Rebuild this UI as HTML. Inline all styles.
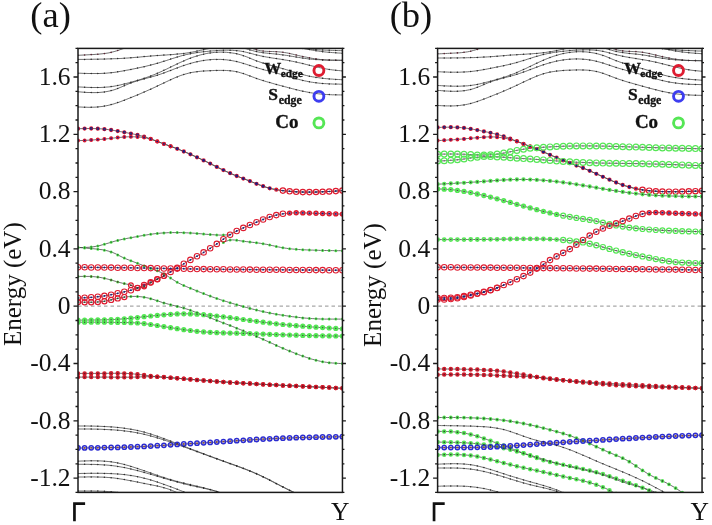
<!DOCTYPE html><html><head><meta charset="utf-8"><style>html,body{margin:0;padding:0;background:#fff;width:712px;height:525px;overflow:hidden}svg{display:block;will-change:transform}</style></head><body><svg width="712" height="525" viewBox="0 0 712 525">
<rect width="712" height="525" fill="#fff"/>
<clipPath id="ca"><rect x="78" y="48.4" width="264.45" height="444.0"/></clipPath>
<g clip-path="url(#ca)">
<line x1="78" y1="306.2" x2="342.4" y2="306.2" stroke="#a8a8a8" stroke-width="1.3" stroke-dasharray="3.5,3"/>
<path fill="none" stroke="#404040" stroke-width="0.75" d="M78 55.3 80 55.2 82 55.1 84 55 86 54.9 88 54.8 90 54.7 92 54.6 94 54.5 96 54.3 98 54.2 100 54 102 53.8 104 53.6 106 53.3 108.1 53 110.1 52.6 112.1 52.1 114.1 51.6 116.1 51 118.1 50.4 120.1 49.7 122.1 49 124.1 48.4 126.1 47.7 128.1 47 130.1 46.4 132.1 45.7 134.1 45.1 136.1 44.5 138.1 43.9 140.1 43.3 142.1 42.8 144.1 42.2 146.1 41.7 148.1 41.1 150.1 40.6 152.1 40.1 154.1 39.7 156.1 39.2 158.1 38.8 160.1 38.3 162.1 37.9 164.1 37.5 166.2 37.2 168.2 36.8 170.2 36.5 172.2 36.2 174.2 35.9 176.2 35.6 178.2 35.4 180.2 35.2 182.2 35 184.2 34.8 186.2 34.6 188.2 34.5 190.2 34.3 192.2 34.2 194.2 34.1 196.2 34.1 198.2 34 200.2 34 202.2 34 204.2 34 206.2 34.1 208.2 34.2 210.2 34.3 212.2 34.4 214.2 34.6 216.2 34.8 218.2 35.1 220.2 35.4 222.2 35.8 224.2 36.2 226.3 36.7 228.3 37.3 230.3 37.9 232.3 38.7 234.3 39.5 236.3 40.4 238.3 41.4 240.3 42.4 242.3 43.4 244.3 44.5 246.3 45.6 248.3 46.6 250.3 47.5 252.3 48.4 254.3 49.2 256.3 49.8 258.3 50.3 260.3 50.7 262.3 51 264.3 51.2 266.3 51.3 268.3 51.4 270.3 51.5 272.3 51.5 274.3 51.6 276.3 51.7 278.3 51.8 280.3 52 282.3 52.2 284.4 52.5 286.4 52.8 288.4 53.2 290.4 53.7 292.4 54.1 294.4 54.6 296.4 55 298.4 55.5 300.4 56 302.4 56.4 304.4 56.8 306.4 57.2 308.4 57.6 310.4 58 312.4 58.4 314.4 58.7 316.4 59 318.4 59.2 320.4 59.5 322.4 59.7 324.4 59.8 326.4 60 328.4 60.1 330.4 60.2 332.4 60.2 334.4 60.2 336.4 60.3 338.4 60.3 340.4 60.3 342.4 60.3M78 59.4 80 59.4 82 59.4 84 59.4 86 59.3 88 59.3 90 59.3 92 59.3 94 59.2 96 59.2 98 59.2 100 59.1 102 59.1 104 59.1 106 59 108.1 58.9 110.1 58.9 112.1 58.8 114.1 58.7 116.1 58.7 118.1 58.6 120.1 58.5 122.1 58.4 124.1 58.2 126.1 58.1 128.1 58 130.1 57.8 132.1 57.7 134.1 57.5 136.1 57.3 138.1 57.2 140.1 57 142.1 56.8 144.1 56.6 146.1 56.5 148.1 56.3 150.1 56.1 152.1 55.9 154.1 55.8 156.1 55.6 158.1 55.5 160.1 55.4 162.1 55.2 164.1 55.1 166.2 55 168.2 54.8 170.2 54.7 172.2 54.6 174.2 54.4 176.2 54.2 178.2 54 180.2 53.8 182.2 53.6 184.2 53.4 186.2 53.1 188.2 52.8 190.2 52.5 192.2 52.1 194.2 51.7 196.2 51.3 198.2 50.9 200.2 50.4 202.2 50 204.2 49.6 206.2 49.1 208.2 48.7 210.2 48.3 212.2 48 214.2 47.6 216.2 47.3 218.2 47.1 220.2 46.8 222.2 46.6 224.2 46.5 226.3 46.4 228.3 46.3 230.3 46.3 232.3 46.3 234.3 46.5 236.3 46.7 238.3 46.9 240.3 47.3 242.3 47.7 244.3 48.3 246.3 48.8 248.3 49.4 250.3 50 252.3 50.5 254.3 51.1 256.3 51.6 258.3 52 260.3 52.3 262.3 52.6 264.3 52.9 266.3 53.1 268.3 53.3 270.3 53.5 272.3 53.7 274.3 53.9 276.3 54.1 278.3 54.3 280.3 54.6 282.3 54.8 284.4 55.1 286.4 55.4 288.4 55.7 290.4 56.1 292.4 56.4 294.4 56.7 296.4 57.1 298.4 57.4 300.4 57.7 302.4 58.1 304.4 58.4 306.4 58.6 308.4 58.9 310.4 59.1 312.4 59.3 314.4 59.5 316.4 59.6 318.4 59.7 320.4 59.8 322.4 59.9 324.4 60 326.4 60 328.4 60.1 330.4 60.1 332.4 60.2 334.4 60.2 336.4 60.2 338.4 60.2 340.4 60.3 342.4 60.3M270 41.2 270.3 41.3 272.3 41.9 274.3 42.6 276.3 43.2 278.3 43.7 280.3 44.3 282.3 44.9 284.4 45.4 286.4 45.9 288.4 46.3 290.4 46.7 292.4 47.1 294.4 47.4 296.4 47.7 298.4 48 300.4 48.3 302.4 48.5 304.4 48.7 306.4 48.9 308.4 49.1 310.4 49.2 312.4 49.4 314.4 49.5 316.4 49.7 318.4 49.8 320.4 49.9 322.4 50 324.4 50.1 326.4 50.2 328.4 50.2 330.4 50.3 332.4 50.4 334.4 50.4 336.4 50.5 338.4 50.6 340.4 50.6 342.4 50.7M280 41.2 280.3 41.3 282.3 42 284.4 42.7 286.4 43.4 288.4 44 290.4 44.7 292.4 45.3 294.4 45.9 296.4 46.5 298.4 47.1 300.4 47.6 302.4 48.1 304.4 48.6 306.4 49 308.4 49.4 310.4 49.8 312.4 50.2 314.4 50.5 316.4 50.8 318.4 51.1 320.4 51.4 322.4 51.6 324.4 51.9 326.4 52.1 328.4 52.3 330.4 52.4 332.4 52.6 334.4 52.7 336.4 52.9 338.4 53 340.4 53.1 342.4 53.3M78 73.2 80 73.2 82 73.3 84 73.4 86 73.4 88 73.5 90 73.5 92 73.5 94 73.5 96 73.5 98 73.5 100 73.5 102 73.4 104 73.3 106 73.2 108.1 73 110.1 72.8 112.1 72.6 114.1 72.4 116.1 72.1 118.1 71.8 120.1 71.4 122.1 71.1 124.1 70.7 126.1 70.3 128.1 70 130.1 69.6 132.1 69.2 134.1 68.8 136.1 68.4 138.1 68 140.1 67.5 142.1 67.1 144.1 66.7 146.1 66.2 148.1 65.7 150.1 65.2 152.1 64.7 154.1 64.2 156.1 63.6 158.1 63.1 160.1 62.5 162.1 61.8 164.1 61.2 166.2 60.6 168.2 59.9 170.2 59.3 172.2 58.6 174.2 58 176.2 57.4 178.2 56.8 180.2 56.2 182.2 55.6 184.2 55.1 186.2 54.6 188.2 54.2 190.2 53.8 192.2 53.4 194.2 53.1 196.2 52.7 198.2 52.4 200.2 52.2 202.2 51.9 204.2 51.7 206.2 51.5 208.2 51.3 210.2 51.1 212.2 50.9 214.2 50.8 216.2 50.6 218.2 50.5 220.2 50.4 222.2 50.3 224.2 50.2 226.3 50.2 228.3 50.2 230.3 50.3 232.3 50.3 234.3 50.5 236.3 50.6 238.3 50.8 240.3 51.1 242.3 51.4 244.3 51.8 246.3 52.3 248.3 52.8 250.3 53.3 252.3 53.8 254.3 54.4 256.3 54.9 258.3 55.3 260.3 55.8 262.3 56.2 264.3 56.6 266.3 57 268.3 57.3 270.3 57.7 272.3 58 274.3 58.3 276.3 58.6 278.3 58.9 280.3 59.2 282.3 59.5 284.4 59.9 286.4 60.2 288.4 60.5 290.4 60.9 292.4 61.3 294.4 61.7 296.4 62.1 298.4 62.6 300.4 63 302.4 63.5 304.4 64 306.4 64.5 308.4 65 310.4 65.5 312.4 66 314.4 66.4 316.4 66.9 318.4 67.4 320.4 67.8 322.4 68.2 324.4 68.6 326.4 69 328.4 69.3 330.4 69.6 332.4 69.9 334.4 70.1 336.4 70.4 338.4 70.5 340.4 70.7 342.4 70.9M78 86.9 80 87 82 87.1 84 87.2 86 87.3 88 87.4 90 87.4 92 87.5 94 87.5 96 87.5 98 87.5 100 87.5 102 87.4 104 87.3 106 87.1 108.1 87 110.1 86.8 112.1 86.5 114.1 86.2 116.1 85.8 118.1 85.4 120.1 85 122.1 84.5 124.1 84 126.1 83.5 128.1 83 130.1 82.5 132.1 81.9 134.1 81.3 136.1 80.8 138.1 80.2 140.1 79.6 142.1 78.9 144.1 78.3 146.1 77.6 148.1 76.9 150.1 76.2 152.1 75.4 154.1 74.7 156.1 73.8 158.1 73 160.1 72.1 162.1 71.2 164.1 70.2 166.2 69.3 168.2 68.3 170.2 67.3 172.2 66.3 174.2 65.4 176.2 64.4 178.2 63.4 180.2 62.5 182.2 61.6 184.2 60.7 186.2 59.8 188.2 59 190.2 58.2 192.2 57.5 194.2 56.8 196.2 56.2 198.2 55.6 200.2 55 202.2 54.5 204.2 54 206.2 53.6 208.2 53.2 210.2 52.9 212.2 52.7 214.2 52.4 216.2 52.3 218.2 52.2 220.2 52.1 222.2 52.1 224.2 52.2 226.3 52.3 228.3 52.5 230.3 52.7 232.3 53 234.3 53.3 236.3 53.7 238.3 54.2 240.3 54.7 242.3 55.3 244.3 56 246.3 56.7 248.3 57.5 250.3 58.4 252.3 59.2 254.3 60 256.3 60.8 258.3 61.5 260.3 62.2 262.3 62.9 264.3 63.5 266.3 64.1 268.3 64.7 270.3 65.3 272.3 65.8 274.3 66.4 276.3 66.9 278.3 67.4 280.3 68 282.3 68.5 284.4 69.1 286.4 69.7 288.4 70.3 290.4 70.9 292.4 71.5 294.4 72.1 296.4 72.7 298.4 73.3 300.4 73.9 302.4 74.5 304.4 75 306.4 75.5 308.4 76 310.4 76.4 312.4 76.8 314.4 77.1 316.4 77.4 318.4 77.7 320.4 78 322.4 78.2 324.4 78.5 326.4 78.7 328.4 78.8 330.4 79 332.4 79.1 334.4 79.3 336.4 79.4 338.4 79.5 340.4 79.6 342.4 79.8M78 91.8 80 91.9 82 92.1 84 92.2 86 92.4 88 92.5 90 92.5 92 92.6 94 92.6 96 92.6 98 92.5 100 92.4 102 92.2 104 92 106 91.7 108.1 91.3 110.1 90.9 112.1 90.4 114.1 89.8 116.1 89.1 118.1 88.3 120.1 87.5 122.1 86.7 124.1 85.8 126.1 84.9 128.1 84.1 130.1 83.3 132.1 82.6 134.1 81.9 136.1 81.2 138.1 80.6 140.1 80 142.1 79.5 144.1 78.9 146.1 78.4 148.1 77.8 150.1 77.3 152.1 76.7 154.1 76.2 156.1 75.6 158.1 74.9 160.1 74.3 162.1 73.6 164.1 72.8 166.2 72.1 168.2 71.3 170.2 70.6 172.2 69.8 174.2 69 176.2 68.3 178.2 67.5 180.2 66.8 182.2 66 184.2 65.4 186.2 64.7 188.2 64.1 190.2 63.5 192.2 62.9 194.2 62.4 196.2 61.9 198.2 61.5 200.2 61.1 202.2 60.7 204.2 60.4 206.2 60.1 208.2 59.9 210.2 59.7 212.2 59.5 214.2 59.4 216.2 59.4 218.2 59.4 220.2 59.4 222.2 59.5 224.2 59.7 226.3 59.8 228.3 60.1 230.3 60.4 232.3 60.7 234.3 61.1 236.3 61.5 238.3 62 240.3 62.5 242.3 63.1 244.3 63.7 246.3 64.3 248.3 65 250.3 65.6 252.3 66.3 254.3 66.9 256.3 67.6 258.3 68.2 260.3 68.7 262.3 69.3 264.3 69.9 266.3 70.4 268.3 70.9 270.3 71.5 272.3 72 274.3 72.5 276.3 73.1 278.3 73.6 280.3 74.2 282.3 74.7 284.4 75.3 286.4 75.9 288.4 76.5 290.4 77.1 292.4 77.7 294.4 78.2 296.4 78.8 298.4 79.3 300.4 79.8 302.4 80.3 304.4 80.8 306.4 81.2 308.4 81.6 310.4 82 312.4 82.3 314.4 82.6 316.4 82.8 318.4 83.1 320.4 83.3 322.4 83.5 324.4 83.6 326.4 83.7 328.4 83.8 330.4 83.9 332.4 84 334.4 84.1 336.4 84.1 338.4 84.1 340.4 84.2 342.4 84.2M78 107 80 107 82 107.1 84 107.2 86 107.2 88 107.3 90 107.3 92 107.2 94 107.2 96 107.1 98 106.9 100 106.7 102 106.5 104 106.2 106 105.8 108.1 105.4 110.1 104.9 112.1 104.4 114.1 103.8 116.1 103.1 118.1 102.5 120.1 101.8 122.1 101 124.1 100.3 126.1 99.5 128.1 98.7 130.1 97.9 132.1 97.1 134.1 96.3 136.1 95.5 138.1 94.6 140.1 93.8 142.1 92.9 144.1 92.1 146.1 91.2 148.1 90.3 150.1 89.4 152.1 88.5 154.1 87.6 156.1 86.7 158.1 85.7 160.1 84.7 162.1 83.8 164.1 82.8 166.2 81.8 168.2 80.9 170.2 79.9 172.2 79 174.2 78.1 176.2 77.3 178.2 76.5 180.2 75.7 182.2 75 184.2 74.4 186.2 73.8 188.2 73.3 190.2 72.8 192.2 72.4 194.2 72.1 196.2 71.8 198.2 71.5 200.2 71.3 202.2 71.1 204.2 71 206.2 70.9 208.2 70.8 210.2 70.7 212.2 70.6 214.2 70.5 216.2 70.4 218.2 70.4 220.2 70.4 222.2 70.4 224.2 70.4 226.3 70.5 228.3 70.6 230.3 70.8 232.3 71 234.3 71.3 236.3 71.7 238.3 72.1 240.3 72.7 242.3 73.3 244.3 73.9 246.3 74.6 248.3 75.4 250.3 76.1 252.3 76.9 254.3 77.6 256.3 78.4 258.3 79.1 260.3 79.7 262.3 80.4 264.3 81 266.3 81.6 268.3 82.2 270.3 82.7 272.3 83.3 274.3 83.9 276.3 84.4 278.3 85 280.3 85.5 282.3 86 284.4 86.6 286.4 87.1 288.4 87.7 290.4 88.2 292.4 88.7 294.4 89.2 296.4 89.7 298.4 90.2 300.4 90.7 302.4 91.1 304.4 91.5 306.4 91.9 308.4 92.3 310.4 92.7 312.4 93 314.4 93.3 316.4 93.5 318.4 93.8 320.4 94 322.4 94.2 324.4 94.4 326.4 94.5 328.4 94.6 330.4 94.7 332.4 94.8 334.4 94.8 336.4 94.9 338.4 94.9 340.4 94.9 342.4 94.9M78 128.7 80 128.7 82 128.6 84 128.6 86 128.6 88 128.5 90 128.5 92 128.5 94 128.6 96 128.6 98 128.7 100 128.8 102 128.9 104 129.1 106 129.3 108.1 129.6 110.1 129.9 112.1 130.2 114.1 130.5 116.1 130.8 118.1 131.2 120.1 131.6 122.1 131.9 124.1 132.3 126.1 132.7 128.1 133 130.1 133.4 132.1 133.8 134.1 134.2 136.1 134.6 138.1 135.1 140.1 135.6 142.1 136.1 144.1 136.7 146.1 137.3 148.1 138 150.1 138.7 152.1 139.4 154.1 140.2 156.1 140.9 158.1 141.7 160.1 142.4 162.1 143.2 164.1 143.9 166.2 144.6 168.2 145.4 170.2 146.1 172.2 146.9 174.2 147.6 176.2 148.4 178.2 149.2 180.2 150 182.2 150.8 184.2 151.6 186.2 152.5 188.2 153.3 190.2 154.2 192.2 155.1 194.2 156 196.2 156.9 198.2 157.8 200.2 158.8 202.2 159.7 204.2 160.7 206.2 161.6 208.2 162.6 210.2 163.6 212.2 164.6 214.2 165.6 216.2 166.6 218.2 167.6 220.2 168.6 222.2 169.6 224.2 170.5 226.3 171.5 228.3 172.4 230.3 173.3 232.3 174.2 234.3 175 236.3 175.8 238.3 176.6 240.3 177.4 242.3 178.2 244.3 179 246.3 179.7 248.3 180.5 250.3 181.3 252.3 182.1 254.3 182.9 256.3 183.7 258.3 184.5 260.3 185.2 262.3 186 264.3 186.6 266.3 187.3 268.3 187.9 270.3 188.4 272.3 188.9 274.3 189.3 276.3 189.7 278.3 190 280.3 190.3 282.3 190.6 284.4 190.8 286.4 191 288.4 191.2 290.4 191.4 292.4 191.6 294.4 191.7 296.4 191.8 298.4 191.9 300.4 192 302.4 192 304.4 192.1 306.4 192.1 308.4 192.1 310.4 192.1 312.4 192.1 314.4 192.1 316.4 192 318.4 191.9 320.4 191.9 322.4 191.8 324.4 191.7 326.4 191.6 328.4 191.5 330.4 191.4 332.4 191.3 334.4 191.2 336.4 191 338.4 190.9 340.4 190.8 342.4 190.6M78 140.6 80 140.6 82 140.5 84 140.4 86 140.3 88 140.2 90 140.1 92 140 94 139.9 96 139.7 98 139.6 100 139.4 102 139.3 104 139.1 106 138.9 108.1 138.7 110.1 138.5 112.1 138.2 114.1 138 116.1 137.8 118.1 137.6 120.1 137.4 122.1 137.2 124.1 137.1 126.1 136.9 128.1 136.8 130.1 136.8 132.1 136.8 134.1 136.8 136.1 136.9 138.1 137 140.1 137.1 142.1 137.3 144.1 137.6 146.1 138 148.1 138.4 150.1 138.9 152.1 139.6 154.1 140.3 156.1 141 158.1 141.8 160.1 142.5 162.1 143.3 164.1 144 166.2 144.8 168.2 145.5 170.2 146.2 172.2 146.9 174.2 147.6 176.2 148.4 178.2 149.2 180.2 150 182.2 150.8 184.2 151.6 186.2 152.5 188.2 153.3 190.2 154.2 192.2 155.1 194.2 156 196.2 156.9 198.2 157.8 200.2 158.8 202.2 159.7 204.2 160.7 206.2 161.6 208.2 162.6 210.2 163.6 212.2 164.6 214.2 165.6 216.2 166.6 218.2 167.6 220.2 168.6 222.2 169.6 224.2 170.5 226.3 171.5 228.3 172.4 230.3 173.3 232.3 174.2 234.3 175 236.3 175.8 238.3 176.6 240.3 177.4 242.3 178.2 244.3 179 246.3 179.7 248.3 180.5 250.3 181.3 252.3 182.1 254.3 182.9 256.3 183.7 258.3 184.5 260.3 185.2 262.3 186 264.3 186.6 266.3 187.3 268.3 187.9 270.3 188.4 272.3 188.9 274.3 189.3 276.3 189.7 278.3 190 280.3 190.3 282.3 190.6 284.4 190.8 286.4 191 288.4 191.2 290.4 191.4 292.4 191.6 294.4 191.7 296.4 191.8 298.4 191.9 300.4 192 302.4 192 304.4 192.1 306.4 192.1 308.4 192.1 310.4 192.1 312.4 192.1 314.4 192.1 316.4 192 318.4 191.9 320.4 191.9 322.4 191.8 324.4 191.7 326.4 191.6 328.4 191.5 330.4 191.4 332.4 191.3 334.4 191.2 336.4 191 338.4 190.9 340.4 190.8 342.4 190.6M78 247.5 80 247.5 82 247.5 84 247.5 86 247.4 88 247.3 90 247.2 92 246.9 94 246.7 96 246.3 98 245.9 100 245.5 102 244.9 104 244.4 106 243.8 108.1 243.2 110.1 242.6 112.1 242 114.1 241.4 116.1 240.8 118.1 240.3 120.1 239.9 122.1 239.4 124.1 239 126.1 238.6 128.1 238.2 130.1 237.9 132.1 237.5 134.1 237.1 136.1 236.8 138.1 236.4 140.1 236 142.1 235.7 144.1 235.3 146.1 235 148.1 234.7 150.1 234.3 152.1 234.1 154.1 233.8 156.1 233.6 158.1 233.4 160.1 233.2 162.1 233 164.1 232.9 166.2 232.8 168.2 232.7 170.2 232.6 172.2 232.6 174.2 232.6 176.2 232.6 178.2 232.6 180.2 232.6 182.2 232.6 184.2 232.7 186.2 232.8 188.2 232.9 190.2 233 192.2 233.1 194.2 233.2 196.2 233.4 198.2 233.6 200.2 233.7 202.2 233.9 204.2 234.1 206.2 234.3 208.2 234.4 210.2 234.6 212.2 234.7 214.2 234.8 216.2 234.9 218.2 235 220.2 235.1 222.2 235.1 224.2 235 226.3 234.9 228.3 234.8 229.6 234.7M222 243.2 222.2 243.1 224.2 242.1 226.3 241.2 228.3 240.5 230.3 240.1 232.3 239.9 234.3 240 236.3 240.3 238.3 240.5 240.3 240.8 242.3 241.1 244.3 241.3 246.3 241.6 248.3 241.8 250.3 242.1 252.3 242.3 254.3 242.5 256.3 242.8 258.3 243 260.3 243.3 262.3 243.6 264.3 244 266.3 244.3 268.3 244.7 270.3 245.2 272.3 245.6 274.3 246 276.3 246.5 278.3 246.9 280.3 247.3 282.3 247.7 284.4 248 286.4 248.3 288.4 248.6 290.4 248.8 292.4 249 294.4 249.2 296.4 249.4 298.4 249.5 300.4 249.6 302.4 249.7 304.4 249.8 306.4 249.9 308.4 250 310.4 250.1 312.4 250.1 314.4 250.2 316.4 250.3 318.4 250.3 320.4 250.4 322.4 250.4 324.4 250.5 326.4 250.5 328.4 250.6 330.4 250.6 332.4 250.6 334.4 250.7 336.4 250.7 338.4 250.7 340.4 250.7 342.4 250.8M78 247.5 80 247.6 82 247.8 84 247.9 86 248.1 88 248.3 90 248.4 92 248.6 94 248.8 96 249 98 249.2 100 249.5 102 249.7 104 250.1 106 250.5 108.1 251 110.1 251.6 112.1 252.3 114.1 253.1 116.1 254 118.1 255.1 120.1 256.1 122.1 257.1 124.1 258 126.1 258.9 128.1 259.7 130.1 260.5 132.1 261.3 134.1 262 136.1 262.8 138.1 263.6 140.1 264.3 142.1 265.1 144.1 265.9 146.1 266.6 148.1 267.4 150.1 268.1 152.1 268.9 154.1 269.6 156.1 270.4 158.1 271.2 160.1 272 162.1 273 164.1 274.1 166.2 275.2 168.2 276.5 170.2 277.8 172.2 279.1 174.2 280.4 176.2 281.6 178.2 282.8 180.2 283.8 182.2 284.8 184.2 285.7 186.2 286.5 188.2 287.4 190.2 288.2 192.2 289 194.2 289.8 196.2 290.6 198.2 291.5 200.2 292.3 202.2 293.1 204.2 293.9 206.2 294.6 208.2 295.4 210.2 296.1 212.2 296.9 214.2 297.6 216.2 298.3 218.2 298.9 220.2 299.6 222.2 300.3 224.2 300.9 226.3 301.5 228.3 302.2 230.3 302.8 232.3 303.4 234.3 304 236.3 304.6 238.3 305.2 240.3 305.7 242.3 306.3 244.3 306.9 246.3 307.4 248.3 308 250.3 308.5 252.3 309 254.3 309.5 256.3 310 258.3 310.5 260.3 311 262.3 311.4 264.3 311.9 266.3 312.3 268.3 312.7 270.3 313.1 272.3 313.5 274.3 313.9 276.3 314.2 278.3 314.6 280.3 314.9 282.3 315.2 284.4 315.5 286.4 315.8 288.4 316.1 290.4 316.4 292.4 316.7 294.4 316.9 296.4 317.2 298.4 317.4 300.4 317.6 302.4 317.8 304.4 318 306.4 318.2 308.4 318.3 310.4 318.5 312.4 318.6 314.4 318.7 316.4 318.8 318.4 318.9 320.4 319 322.4 319 324.4 319.1 326.4 319.1 328.4 319.1 330.4 319.1 332.4 319.1 334.4 319.1 336.4 319.1 338.4 319.1 340.4 319.1 342.4 319.1M78 267.2 80 267.3 82 267.3 84 267.3 86 267.3 88 267.3 90 267.4 92 267.4 94 267.4 96 267.4 98 267.4 100 267.5 102 267.5 104 267.5 106 267.5 108.1 267.5 110.1 267.6 112.1 267.6 114.1 267.6 116.1 267.6 118.1 267.7 120.1 267.7 122.1 267.7 124.1 267.7 126.1 267.8 128.1 267.8 130.1 267.8 132.1 267.8 134.1 267.9 136.1 267.9 138.1 267.9 140.1 268 142.1 268 144.1 268 146.1 268.1 148.1 268.1 150.1 268.1 152.1 268.2 154.1 268.2 156.1 268.2 158.1 268.3 160.1 268.3 162.1 268.3 164.1 268.4 166.2 268.4 168.2 268.5 170.2 268.5 172.2 268.5 174.2 268.6 176.2 268.6 178.2 268.6 180.2 268.7 182.2 268.7 184.2 268.8 186.2 268.8 188.2 268.8 190.2 268.9 192.2 268.9 194.2 268.9 196.2 269 198.2 269 200.2 269 202.2 269.1 204.2 269.1 206.2 269.1 208.2 269.2 210.2 269.2 212.2 269.2 214.2 269.2 216.2 269.3 218.2 269.3 220.2 269.3 222.2 269.3 224.2 269.4 226.3 269.4 228.3 269.4 230.3 269.4 232.3 269.4 234.3 269.5 236.3 269.5 238.3 269.5 240.3 269.5 242.3 269.5 244.3 269.6 246.3 269.6 248.3 269.6 250.3 269.6 252.3 269.6 254.3 269.6 256.3 269.7 258.3 269.7 260.3 269.7 262.3 269.7 264.3 269.7 266.3 269.7 268.3 269.7 270.3 269.8 272.3 269.8 274.3 269.8 276.3 269.8 278.3 269.8 280.3 269.8 282.3 269.8 284.4 269.8 286.4 269.9 288.4 269.9 290.4 269.9 292.4 269.9 294.4 269.9 296.4 269.9 298.4 269.9 300.4 270 302.4 270 304.4 270 306.4 270 308.4 270 310.4 270 312.4 270 314.4 270.1 316.4 270.1 318.4 270.1 320.4 270.1 322.4 270.1 324.4 270.1 326.4 270.1 328.4 270.2 330.4 270.2 332.4 270.2 334.4 270.2 336.4 270.2 338.4 270.2 340.4 270.2 342.4 270.2M78 298 80 298 82 297.9 84 297.8 86 297.7 88 297.5 90 297.4 92 297.3 94 297.1 96 296.9 98 296.7 100 296.5 102 296.2 104 296 106 295.6 108.1 295.3 110.1 294.9 112.1 294.5 114.1 294.1 116.1 293.7 118.1 293.2 120.1 292.8 122.1 292.3 124.1 291.9 126.1 291.4 128.1 290.9 130.1 290.4 132.1 289.9 134.1 289.3 136.1 288.6 138.1 287.8 140.1 286.9 142.1 286 144.1 285.1 146.1 284.2 148.1 283.4 150.1 282.5 152.1 281.7 154.1 280.8 156.1 279.8 158.1 278.8 160.1 277.8 162.1 276.7 164.1 275.6 166.2 274.5 168.2 273.3 170.2 272.1 172.2 270.9 174.2 269.7 176.2 268.5 178.2 267.2 180.2 266 182.2 264.8 184.2 263.5 186.2 262.3 188.2 261.2 190.2 260 192.2 258.9 194.2 257.8 196.2 256.6 198.2 255.5 200.2 254.4 202.2 253.3 204.2 252.1 206.2 250.9 208.2 249.6 210.2 248.3 212.2 247 214.2 245.7 216.2 244.3 218.2 242.9 220.2 241.4 222.2 240 224.2 238.6 226.3 237.2 228.3 235.9 230.3 234.6 232.3 233.4 234.3 232.3 236.3 231.2 238.3 230.2 240.3 229.3 242.3 228.3 244.3 227.4 246.3 226.6 248.3 225.7 250.3 224.8 252.3 224 254.3 223.2 256.3 222.3 258.3 221.5 260.3 220.6 262.3 219.8 264.3 219 266.3 218.2 268.3 217.5 270.3 216.8 272.3 216.2 274.3 215.6 276.3 215.1 278.3 214.7 280.3 214.3 282.3 213.9 284.4 213.6 286.4 213.4 288.4 213.2 290.4 213 292.4 212.9 294.4 212.9 296.4 212.8 298.4 212.8 300.4 212.8 302.4 212.9 304.4 212.9 306.4 213 308.4 213.1 310.4 213.1 312.4 213.2 314.4 213.3 316.4 213.3 318.4 213.4 320.4 213.5 322.4 213.5 324.4 213.6 326.4 213.6 328.4 213.7 330.4 213.8 332.4 213.8 334.4 213.9 336.4 213.9 338.4 214 340.4 214 342.4 214.1M78 302 80 302.1 82 302.2 84 302.2 86 302.2 88 302.3 90 302.3 92 302.2 94 302.2 96 302.1 98 301.9 100 301.8 102 301.5 104 301.3 106 300.9 108.1 300.5 110.1 300.1 112.1 299.7 114.1 299.2 116.1 298.8 118.1 298.3 120.1 297.9 122.1 297.5 124.1 297.2 126.1 296.9 128.1 296.7 130.1 296.5 132.1 296.4 134.1 296.4 136.1 296.4 138.1 296.5 140.1 296.7 142.1 296.9 144.1 297.2 146.1 297.6 148.1 298 150.1 298.5 152.1 299.1 154.1 299.7 156.1 300.4 158.1 301 160.1 301.7 162.1 302.4 164.1 303 166.2 303.5 168.2 304.1 170.2 304.6 172.2 305.1 174.2 305.6 176.2 306.1 178.2 306.6 180.2 307.1 182.2 307.7 184.2 308.3 186.2 308.9 188.2 309.5 190.2 310.2 192.2 310.9 194.2 311.7 196.2 312.4 198.2 313.2 200.2 313.9 202.2 314.7 204.2 315.5 206.2 316.3 208.2 317 210.2 317.8 212.2 318.6 214.2 319.4 216.2 320.2 218.2 320.9 220.2 321.7 222.2 322.5 224.2 323.3 226.3 324.1 228.3 324.8 230.3 325.6 232.3 326.4 234.3 327.2 236.3 328 238.3 328.8 240.3 329.6 242.3 330.4 244.3 331.3 246.3 332.1 248.3 332.9 250.3 333.8 252.3 334.6 254.3 335.5 256.3 336.3 258.3 337.2 260.3 338.1 262.3 339 264.3 339.9 266.3 340.8 268.3 341.7 270.3 342.6 272.3 343.5 274.3 344.4 276.3 345.4 278.3 346.3 280.3 347.2 282.3 348 284.4 348.9 286.4 349.8 288.4 350.6 290.4 351.4 292.4 352.2 294.4 353 296.4 353.8 298.4 354.6 300.4 355.3 302.4 356 304.4 356.7 306.4 357.4 308.4 358 310.4 358.7 312.4 359.3 314.4 359.8 316.4 360.3 318.4 360.8 320.4 361.3 322.4 361.7 324.4 362 326.4 362.3 328.4 362.6 330.4 362.8 332.4 363 334.4 363.1 336.4 363.3 338.4 363.4 340.4 363.5 342.4 363.6M78 276.4 80 276.4 82 276.4 84 276.3 86 276.4 88 276.4 90 276.4 92 276.5 94 276.7 96 276.9 98 277.1 100 277.4 102 277.8 104 278.2 106 278.7 108.1 279.2 110.1 279.7 112.1 280.3 114.1 280.9 116.1 281.5 118.1 282 120.1 282.6 122.1 283.1 124.1 283.6 126.1 284 128.1 284.4 130.1 285 132.1 285.7 134.1 286.7 136.1 287.5 138.1 287.9 140.1 287.9 142.1 287.4 144.1 286.5 146.1 285.4 148.1 284.2 150.1 283 152.1 281.9 154.1 280.8 156.1 279.8 158.1 278.8 160.1 277.9 162.1 276.9 164 276.1M78 320.1 80 320.1 82 320.1 84 320.1 86 320.1 88 320 90 320 92 320 94 320 96 320 98 319.9 100 319.9 102 319.9 104 319.8 106 319.8 108.1 319.7 110.1 319.6 112.1 319.5 114.1 319.5 116.1 319.4 118.1 319.2 120.1 319.1 122.1 319 124.1 318.8 126.1 318.6 128.1 318.5 130.1 318.3 132.1 318.1 134.1 317.8 136.1 317.6 138.1 317.4 140.1 317.2 142.1 316.9 144.1 316.7 146.1 316.5 148.1 316.3 150.1 316.1 152.1 315.9 154.1 315.7 156.1 315.5 158.1 315.3 160.1 315.1 162.1 314.9 164.1 314.7 166.2 314.6 168.2 314.4 170.2 314.3 172.2 314.2 174.2 314.1 176.2 314 178.2 313.9 180.2 313.8 182.2 313.8 184.2 313.8 186.2 313.8 188.2 313.8 190.2 313.9 192.2 314 194.2 314 196.2 314.1 198.2 314.3 200.2 314.4 202.2 314.6 204.2 314.7 206.2 314.9 208.2 315.1 210.2 315.3 212.2 315.5 214.2 315.7 216.2 315.9 218.2 316.2 220.2 316.4 222.2 316.7 224.2 316.9 226.3 317.2 228.3 317.5 230.3 317.7 232.3 318 234.3 318.3 236.3 318.5 238.3 318.8 240.3 319.1 242.3 319.4 244.3 319.7 246.3 319.9 248.3 320.2 250.3 320.5 252.3 320.8 254.3 321 256.3 321.3 258.3 321.6 260.3 321.8 262.3 322.1 264.3 322.3 266.3 322.6 268.3 322.8 270.3 323.1 272.3 323.3 274.3 323.5 276.3 323.8 278.3 324 280.3 324.2 282.3 324.4 284.4 324.6 286.4 324.8 288.4 325 290.4 325.2 292.4 325.4 294.4 325.6 296.4 325.7 298.4 325.9 300.4 326.1 302.4 326.2 304.4 326.4 306.4 326.5 308.4 326.7 310.4 326.8 312.4 327 314.4 327.1 316.4 327.2 318.4 327.4 320.4 327.5 322.4 327.6 324.4 327.7 326.4 327.9 328.4 328 330.4 328.1 332.4 328.2 334.4 328.3 336.4 328.5 338.4 328.6 340.4 328.7 342.4 328.8M78 322.2 80 322.2 82 322.2 84 322.2 86 322.2 88 322.2 90 322.2 92 322.2 94 322.2 96 322.2 98 322.2 100 322.2 102 322.2 104 322.2 106 322.3 108.1 322.3 110.1 322.3 112.1 322.3 114.1 322.4 116.1 322.4 118.1 322.4 120.1 322.5 122.1 322.5 124.1 322.5 126.1 322.6 128.1 322.6 130.1 322.6 132.1 322.7 134.1 322.8 136.1 322.9 138.1 323 140.1 323.2 142.1 323.4 144.1 323.6 146.1 323.9 148.1 324.1 150.1 324.4 152.1 324.7 154.1 325 156.1 325.3 158.1 325.7 160.1 326 162.1 326.3 164.1 326.6 166.2 327 168.2 327.3 170.2 327.6 172.2 327.9 174.2 328.2 176.2 328.6 178.2 328.9 180.2 329.1 182.2 329.4 184.2 329.7 186.2 330 188.2 330.2 190.2 330.5 192.2 330.7 194.2 331 196.2 331.2 198.2 331.4 200.2 331.6 202.2 331.8 204.2 331.9 206.2 332.1 208.2 332.2 210.2 332.3 212.2 332.5 214.2 332.6 216.2 332.6 218.2 332.7 220.2 332.8 222.2 332.9 224.2 332.9 226.3 333 228.3 333 230.3 333.1 232.3 333.1 234.3 333.2 236.3 333.2 238.3 333.3 240.3 333.3 242.3 333.4 244.3 333.4 246.3 333.5 248.3 333.5 250.3 333.6 252.3 333.7 254.3 333.7 256.3 333.8 258.3 333.9 260.3 334 262.3 334 264.3 334.1 266.3 334.2 268.3 334.3 270.3 334.3 272.3 334.4 274.3 334.5 276.3 334.6 278.3 334.7 280.3 334.7 282.3 334.8 284.4 334.9 286.4 334.9 288.4 335 290.4 335.1 292.4 335.1 294.4 335.2 296.4 335.2 298.4 335.3 300.4 335.3 302.4 335.4 304.4 335.4 306.4 335.5 308.4 335.5 310.4 335.6 312.4 335.6 314.4 335.7 316.4 335.7 318.4 335.7 320.4 335.8 322.4 335.8 324.4 335.8 326.4 335.9 328.4 335.9 330.4 335.9 332.4 336 334.4 336 336.4 336 338.4 336.1 340.4 336.1 342.4 336.1M78 373.4 80 373.4 82 373.4 84 373.4 86 373.4 88 373.4 90 373.4 92 373.4 94 373.4 96 373.4 98 373.4 100 373.4 102 373.4 104 373.4 106 373.4 108.1 373.3 110.1 373.3 112.1 373.3 114.1 373.3 116.1 373.3 118.1 373.3 120.1 373.3 122.1 373.3 124.1 373.4 126.1 373.4 128.1 373.5 130.1 373.6 132.1 373.8 134.1 374 136.1 374.2 138.1 374.4 140.1 374.6 142.1 374.9 144.1 375.1 146.1 375.4 148.1 375.7 150.1 376 152.1 376.2 154.1 376.4 156.1 376.7 158.1 376.9 160.1 377 162.1 377.2 164.1 377.4 166.2 377.5 168.2 377.6 170.2 377.8 172.2 377.9 174.2 378 176.2 378.2 178.2 378.3 180.2 378.5 182.2 378.6 184.2 378.8 186.2 379 188.2 379.1 190.2 379.3 192.2 379.5 194.2 379.6 196.2 379.8 198.2 380 200.2 380.1 202.2 380.3 204.2 380.5 206.2 380.6 208.2 380.8 210.2 381 212.2 381.1 214.2 381.3 216.2 381.4 218.2 381.6 220.2 381.7 222.2 381.8 224.2 382 226.3 382.1 228.3 382.3 230.3 382.4 232.3 382.5 234.3 382.7 236.3 382.8 238.3 382.9 240.3 383 242.3 383.2 244.3 383.3 246.3 383.4 248.3 383.5 250.3 383.6 252.3 383.7 254.3 383.9 256.3 384 258.3 384.1 260.3 384.2 262.3 384.3 264.3 384.4 266.3 384.5 268.3 384.6 270.3 384.7 272.3 384.8 274.3 384.9 276.3 385 278.3 385.1 280.3 385.2 282.3 385.3 284.4 385.4 286.4 385.5 288.4 385.6 290.4 385.7 292.4 385.8 294.4 385.9 296.4 386 298.4 386.1 300.4 386.2 302.4 386.3 304.4 386.4 306.4 386.5 308.4 386.6 310.4 386.7 312.4 386.8 314.4 386.9 316.4 387 318.4 387.1 320.4 387.2 322.4 387.3 324.4 387.4 326.4 387.5 328.4 387.6 330.4 387.7 332.4 387.8 334.4 387.9 336.4 388 338.4 388.1 340.4 388.2 342.4 388.2M78 377.1 80 377.1 82 377.1 84 377.1 86 377.1 88 377.1 90 377.1 92 377.1 94 377.1 96 377.1 98 377.1 100 377.1 102 377.1 104 377.1 106 377.1 108.1 377.1 110.1 377.1 112.1 377.2 114.1 377.2 116.1 377.2 118.1 377.2 120.1 377.2 122.1 377.2 124.1 377.2 126.1 377.2 128.1 377.2 130.1 377.2 132.1 377.1 134.1 377.1 136.1 377 138.1 377 140.1 376.9 142.1 376.8 144.1 376.8 146.1 376.7 148.1 376.7 150.1 376.7 152.1 376.7 154.1 376.7 156.1 376.7 158.1 376.8 160.1 376.9 162.1 377 164.1 377.2 166.2 377.3 168.2 377.5 170.2 377.6 172.2 377.8 174.2 378 176.2 378.2 178.2 378.3 180.2 378.5 182.2 378.7 184.2 378.9 186.2 379 188.2 379.2 190.2 379.4 192.2 379.5 194.2 379.7 196.2 379.9 198.2 380 200.2 380.2 202.2 380.3 204.2 380.5 206.2 380.6 208.2 380.8 210.2 380.9 212.2 381.1 214.2 381.2 216.2 381.4 218.2 381.5 220.2 381.7 222.2 381.8 224.2 382 226.3 382.1 228.3 382.2 230.3 382.4 232.3 382.5 234.3 382.6 236.3 382.8 238.3 382.9 240.3 383 242.3 383.2 244.3 383.3 246.3 383.4 248.3 383.5 250.3 383.6 252.3 383.8 254.3 383.9 256.3 384 258.3 384.1 260.3 384.2 262.3 384.3 264.3 384.4 266.3 384.5 268.3 384.6 270.3 384.7 272.3 384.8 274.3 384.9 276.3 385 278.3 385.1 280.3 385.2 282.3 385.3 284.4 385.4 286.4 385.5 288.4 385.6 290.4 385.7 292.4 385.8 294.4 385.9 296.4 386 298.4 386.1 300.4 386.2 302.4 386.3 304.4 386.4 306.4 386.5 308.4 386.6 310.4 386.7 312.4 386.8 314.4 386.9 316.4 387 318.4 387.1 320.4 387.2 322.4 387.3 324.4 387.4 326.4 387.5 328.4 387.6 330.4 387.7 332.4 387.8 334.4 387.9 336.4 388 338.4 388.1 340.4 388.2 342.4 388.2M78 448 80 448 82 448 84 447.9 86 447.9 88 447.9 90 447.9 92 447.8 94 447.8 96 447.8 98 447.7 100 447.7 102 447.7 104 447.7 106 447.6 108.1 447.6 110.1 447.5 112.1 447.5 114.1 447.5 116.1 447.4 118.1 447.4 120.1 447.3 122.1 447.3 124.1 447.2 126.1 447.1 128.1 447.1 130.1 447 132.1 446.9 134.1 446.8 136.1 446.8 138.1 446.7 140.1 446.6 142.1 446.5 144.1 446.4 146.1 446.3 148.1 446.2 150.1 446.1 152.1 446 154.1 445.9 156.1 445.7 158.1 445.6 160.1 445.5 162.1 445.4 164.1 445.2 166.2 445.1 168.2 445 170.2 444.9 172.2 444.7 174.2 444.6 176.2 444.5 178.2 444.4 180.2 444.2 182.2 444.1 184.2 444 186.2 443.9 188.2 443.8 190.2 443.6 192.2 443.5 194.2 443.4 196.2 443.3 198.2 443.2 200.2 443 202.2 442.9 204.2 442.8 206.2 442.7 208.2 442.6 210.2 442.4 212.2 442.3 214.2 442.2 216.2 442.1 218.2 441.9 220.2 441.8 222.2 441.7 224.2 441.5 226.3 441.4 228.3 441.3 230.3 441.1 232.3 441 234.3 440.9 236.3 440.8 238.3 440.6 240.3 440.5 242.3 440.4 244.3 440.2 246.3 440.1 248.3 440 250.3 439.9 252.3 439.7 254.3 439.6 256.3 439.5 258.3 439.4 260.3 439.3 262.3 439.1 264.3 439 266.3 438.9 268.3 438.8 270.3 438.7 272.3 438.6 274.3 438.5 276.3 438.4 278.3 438.3 280.3 438.3 282.3 438.2 284.4 438.1 286.4 438 288.4 438 290.4 437.9 292.4 437.8 294.4 437.8 296.4 437.7 298.4 437.6 300.4 437.6 302.4 437.5 304.4 437.5 306.4 437.4 308.4 437.4 310.4 437.3 312.4 437.3 314.4 437.2 316.4 437.2 318.4 437.1 320.4 437.1 322.4 437.1 324.4 437 326.4 437 328.4 436.9 330.4 436.9 332.4 436.9 334.4 436.8 336.4 436.8 338.4 436.8 340.4 436.7 342.4 436.7M78 425.9 80 426 82 426 84 426 86 426 88 426 90 426.1 92 426.1 94 426.1 96 426.2 98 426.2 100 426.3 102 426.4 104 426.5 106 426.6 108.1 426.7 110.1 426.8 112.1 426.9 114.1 427.1 116.1 427.3 118.1 427.5 120.1 427.7 122.1 427.9 124.1 428.2 126.1 428.5 128.1 428.8 130.1 429.1 132.1 429.4 134.1 429.8 136.1 430.2 138.1 430.7 140.1 431.1 142.1 431.6 144.1 432.1 146.1 432.7 148.1 433.3 150.1 433.9 152.1 434.5 154.1 435.2 156.1 435.8 158.1 436.5 160.1 437.2 162.1 438 164.1 438.7 166.2 439.4 168.2 440.2 170.2 440.9 172.2 441.7 174.2 442.5 176.2 443.3 178.2 444 180.2 444.8 182.2 445.6 184.2 446.4 186.2 447.1 188.2 447.9 190.2 448.7 192.2 449.4 194.2 450.2 196.2 451 198.2 451.7 200.2 452.5 202.2 453.2 204.2 454 206.2 454.7 208.2 455.5 210.2 456.2 212.2 456.9 214.2 457.7 216.2 458.4 218.2 459.1 220.2 459.9 222.2 460.6 224.2 461.3 226.3 462.1 228.3 462.8 230.3 463.5 232.3 464.2 234.3 464.9 236.3 465.7 238.3 466.4 240.3 467.1 242.3 467.9 244.3 468.6 246.3 469.4 248.3 470.2 250.3 471 252.3 471.8 254.3 472.7 256.3 473.6 258.3 474.4 260.3 475.4 262.3 476.3 264.3 477.3 266.3 478.2 268.3 479.2 270.3 480.3 272.3 481.3 274.3 482.3 276.3 483.4 278.3 484.4 280.3 485.5 282.3 486.5 284.4 487.5 286.4 488.5 288.4 489.6 290.4 490.6 292.4 491.5 294.4 492.5 296.4 493.4 298.4 494.4 300.4 495.3 302.4 496.2 304.4 497.1 306.4 498 308.4 498.9 310 499.6M78 428.9 80 429 82 429 84 429 86 429 88 429 90 429 92 429.1 94 429.1 96 429.1 98 429.2 100 429.2 102 429.3 104 429.4 106 429.5 108.1 429.6 110.1 429.7 112.1 429.8 114.1 429.9 116.1 430.1 118.1 430.2 120.1 430.4 122.1 430.6 124.1 430.9 126.1 431.1 128.1 431.4 130.1 431.6 132.1 431.9 134.1 432.3 136.1 432.6 138.1 433 140.1 433.4 142.1 433.8 144.1 434.3 146.1 434.8 148.1 435.3 150.1 435.8 152.1 436.4 154.1 436.9 156.1 437.5 158.1 438.1 160.1 438.7 162.1 439.4 164.1 440 166.2 440.7 168.2 441.3 170.2 442 172.2 442.7 174.2 443.4 176.2 444.1 178.2 444.8 180.2 445.6 182.2 446.3 184.2 447 186.2 447.7 188.2 448.4 190.2 449.2 192.2 449.9 194.2 450.6 196.2 451.4 198.2 452.1 200.2 452.8 202.2 453.6 204.2 454.3 206.2 455 208.2 455.8 210.2 456.5 212.2 457.2 214.2 458 216.2 458.7 218.2 459.4 220.2 460.2 222.2 460.9 224.2 461.6 226.3 462.3 228.3 463.1 230.3 463.8 232.3 464.5 234.3 465.2 236.3 465.9 238.3 466.7 240.3 467.4 242.3 468.2 244.3 468.9 246.3 469.7 248.3 470.5 250.3 471.3 252.3 472.1 254.3 473 256.3 473.8 258.3 474.7 260.3 475.6 262.3 476.6 264.3 477.6 266.3 478.5 268.3 479.6 270.3 480.6 272.3 481.6 274.3 482.7 276.3 483.7 278.3 484.7 280.3 485.8 282.3 486.8 284.4 487.9 286.4 488.9 288.4 489.9 290.4 490.8 292.4 491.8 294.4 492.7 296.4 493.7 298.4 494.6 300.4 495.4 302.4 496.3 304.4 497.2 306.4 498 308.4 498.9 310 499.6M78 461.2 80 461.1 82 461 84 461 86 460.9 88 460.9 90 460.8 92 460.8 94 460.8 96 460.8 98 460.9 100 460.9 102 461 104 461.1 106 461.3 108.1 461.5 110.1 461.7 112.1 462 114.1 462.3 116.1 462.6 118.1 463 120.1 463.5 122.1 463.9 124.1 464.4 126.1 465 128.1 465.5 130.1 466.1 132.1 466.7 134.1 467.4 136.1 468 138.1 468.7 140.1 469.4 142.1 470 144.1 470.7 146.1 471.4 148.1 472.1 150.1 472.8 152.1 473.5 154.1 474.2 156.1 474.9 158.1 475.6 160.1 476.3 162.1 476.9 164.1 477.6 166.2 478.2 168.2 478.9 170.2 479.5 172.2 480 174.2 480.6 176.2 481.2 178.2 481.7 180.2 482.2 182.2 482.7 184.2 483.2 186.2 483.7 188.2 484.1 190.2 484.6 192.2 485.1 194.2 485.5 196.2 486 198.2 486.5 200.2 486.9 202.2 487.4 204.2 487.9 206.2 488.5 208.2 489 210.2 489.5 212.2 490.1 214.2 490.7 216.2 491.4 218.2 492 220.2 492.7 222.2 493.4 224.2 494.1 226.3 494.8 228.3 495.6 230.3 496.3 232.3 497.1 234.3 497.8 235 498.1M78 464.3 80 464.3 82 464.3 84 464.3 86 464.3 88 464.3 90 464.4 92 464.4 94 464.4 96 464.5 98 464.6 100 464.7 102 464.8 104 464.9 106 465 108.1 465.2 110.1 465.4 112.1 465.6 114.1 465.9 116.1 466.1 118.1 466.5 120.1 466.8 122.1 467.2 124.1 467.5 126.1 467.9 128.1 468.4 130.1 468.8 132.1 469.3 134.1 469.8 136.1 470.3 138.1 470.8 140.1 471.3 142.1 471.9 144.1 472.4 146.1 473 148.1 473.6 150.1 474.1 152.1 474.7 154.1 475.3 156.1 475.9 158.1 476.5 160.1 477.1 162.1 477.7 164.1 478.3 166.2 478.9 168.2 479.5 170.2 480 172.2 480.6 174.2 481.2 176.2 481.7 178.2 482.3 180.2 482.8 182.2 483.3 184.2 483.9 186.2 484.4 188.2 484.8 190.2 485.3 192.2 485.8 194.2 486.2 196.2 486.6 198.2 487.1 200.2 487.5 202.2 487.9 204.2 488.3 206.2 488.8 208.2 489.2 210.2 489.7 212.2 490.2 214.2 490.7 216.2 491.3 218.2 492 220.2 492.6 222.2 493.3 224.2 494 226.3 494.8 228.3 495.5 230.3 496.3 232.3 497.1 234.3 497.8 235 498.1M78 473.5 80 473.5 82 473.4 84 473.4 86 473.4 88 473.3 90 473.3 92 473.3 94 473.3 96 473.3 98 473.3 100 473.3 102 473.3 104 473.4 106 473.4 108.1 473.5 110.1 473.6 112.1 473.7 114.1 473.8 116.1 473.9 118.1 474 120.1 474.2 122.1 474.4 124.1 474.6 126.1 474.8 128.1 475.1 130.1 475.4 132.1 475.7 134.1 476 136.1 476.4 138.1 476.8 140.1 477.2 142.1 477.7 144.1 478.2 146.1 478.7 148.1 479.2 150.1 479.8 152.1 480.4 154.1 481 156.1 481.7 158.1 482.3 160.1 483 162.1 483.7 164.1 484.4 166.2 485.2 168.2 485.9 170.2 486.6 172.2 487.4 174.2 488.1 176.2 488.9 178.2 489.6 180.2 490.4 182.2 491.2 184.2 492.1 186.2 492.9 188.2 493.8 190.2 494.7 192.2 495.7 194.2 496.7 196.2 497.7 198.2 498.7 200 499.6M78 477.1 80 477 82 477 84 477 86 477 88 476.9 90 476.9 92 476.9 94 476.9 96 477 98 477 100 477.1 102 477.1 104 477.2 106 477.3 108.1 477.5 110.1 477.6 112.1 477.8 114.1 478 116.1 478.3 118.1 478.6 120.1 478.9 122.1 479.2 124.1 479.5 126.1 479.9 128.1 480.3 130.1 480.6 132.1 481 134.1 481.4 136.1 481.8 138.1 482.2 140.1 482.6 142.1 483 144.1 483.4 146.1 483.8 148.1 484.2 150.1 484.6 152.1 485 154.1 485.4 156.1 485.8 158.1 486.2 160.1 486.7 162.1 487.2 164.1 487.8 166.2 488.4 168.2 489 170.2 489.7 172.2 490.5 174.2 491.3 176.2 492.2 178.2 493.2 180.2 494.2 182.2 495.2 184.2 496.3 185 496.7M78 491 80 491 82 491 84 491 86 491 88 491 90 491 92 491 94 491 96 491.1 98 491.1 100 491.2 102 491.2 104 491.3 106 491.4 108.1 491.6 110.1 491.7 112.1 491.8 114.1 492 116.1 492.2 118.1 492.4 120.1 492.6 122.1 492.9 124.1 493.1 126.1 493.3 128.1 493.6 130.1 493.9 132.1 494.1 134.1 494.4 136.1 494.7 138.1 495 140 495.3"/>
<g fill="none" stroke="#de1c30" stroke-width="1.5"><circle cx="78" cy="128.7" r="1.4"/><circle cx="84.6" cy="128.6" r="1.4"/><circle cx="91.2" cy="128.5" r="1.4"/><circle cx="97.8" cy="128.7" r="1.4"/><circle cx="104.4" cy="129.2" r="1.4"/><circle cx="111.1" cy="130" r="1.4"/><circle cx="117.7" cy="131.1" r="1.4"/><circle cx="124.3" cy="132.3" r="1.4"/><circle cx="130.9" cy="133.6" r="1.4"/><circle cx="137.5" cy="135" r="1.4"/><circle cx="144.1" cy="136.7" r="1.4"/><circle cx="150.7" cy="138.9" r="1.4"/><circle cx="157.3" cy="141.4" r="1.4"/><circle cx="163.9" cy="143.8" r="1.4"/><circle cx="170.6" cy="146.3" r="1.4"/><circle cx="177.2" cy="148.8" r="1.4"/><circle cx="183.8" cy="151.5" r="1.4"/><circle cx="190.4" cy="154.3" r="1.4"/><circle cx="197" cy="157.3" r="1.4"/><circle cx="203.6" cy="160.4" r="1.4"/><circle cx="210.2" cy="163.6" r="1.4"/><circle cx="216.8" cy="166.9" r="1.4"/><circle cx="223.4" cy="170.1" r="1.4"/><circle cx="230.1" cy="173.2" r="1.4"/><circle cx="236.7" cy="176" r="1.4"/><circle cx="243.3" cy="178.6" r="1.4"/><circle cx="249.9" cy="181.1" r="1.4"/><circle cx="256.5" cy="183.8" r="1.4"/><circle cx="263.1" cy="186.2" r="1.4"/><circle cx="269.7" cy="188.3" r="1.4"/><circle cx="276.3" cy="189.7" r="1.4"/></g>
<g fill="none" stroke="#de1c30" stroke-width="1.2"><circle cx="282.9" cy="190.6" r="2.7"/><circle cx="289.6" cy="191.3" r="2.7"/><circle cx="296.2" cy="191.8" r="2.7"/><circle cx="302.8" cy="192.1" r="2.7"/><circle cx="309.4" cy="192.1" r="2.7"/><circle cx="316" cy="192" r="2.7"/><circle cx="322.6" cy="191.8" r="2.7"/><circle cx="329.2" cy="191.5" r="2.7"/><circle cx="335.8" cy="191.1" r="2.7"/><circle cx="342.4" cy="190.6" r="2.7"/></g>
<g fill="none" stroke="#1a1a80" stroke-width="1.3"><circle cx="78" cy="128.7" r="0.8"/><circle cx="84.6" cy="128.6" r="0.8"/><circle cx="91.2" cy="128.5" r="0.8"/><circle cx="97.8" cy="128.7" r="0.8"/><circle cx="104.4" cy="129.2" r="0.8"/><circle cx="111.1" cy="130" r="0.8"/><circle cx="117.7" cy="131.1" r="0.8"/><circle cx="124.3" cy="132.3" r="0.8"/><circle cx="130.9" cy="133.6" r="0.8"/><circle cx="137.5" cy="135" r="0.8"/><circle cx="144.1" cy="136.7" r="0.8"/><circle cx="150.7" cy="138.9" r="0.8"/><circle cx="157.3" cy="141.4" r="0.8"/><circle cx="163.9" cy="143.8" r="0.8"/><circle cx="170.6" cy="146.3" r="0.8"/><circle cx="177.2" cy="148.8" r="0.8"/><circle cx="183.8" cy="151.5" r="0.8"/><circle cx="190.4" cy="154.3" r="0.8"/><circle cx="197" cy="157.3" r="0.8"/><circle cx="203.6" cy="160.4" r="0.8"/><circle cx="210.2" cy="163.6" r="0.8"/><circle cx="216.8" cy="166.9" r="0.8"/><circle cx="223.4" cy="170.1" r="0.8"/><circle cx="230.1" cy="173.2" r="0.8"/><circle cx="236.7" cy="176" r="0.8"/><circle cx="243.3" cy="178.6" r="0.8"/><circle cx="249.9" cy="181.1" r="0.8"/><circle cx="256.5" cy="183.8" r="0.8"/><circle cx="263.1" cy="186.2" r="0.8"/><circle cx="269.7" cy="188.3" r="0.8"/><circle cx="78" cy="140.6" r="0.8"/><circle cx="84.6" cy="140.4" r="0.8"/><circle cx="91.2" cy="140" r="0.8"/><circle cx="97.8" cy="139.6" r="0.8"/><circle cx="104.4" cy="139.1" r="0.8"/><circle cx="111.1" cy="138.3" r="0.8"/><circle cx="117.7" cy="137.6" r="0.8"/><circle cx="124.3" cy="137" r="0.8"/><circle cx="130.9" cy="136.8" r="0.8"/><circle cx="137.5" cy="136.9" r="0.8"/><circle cx="144.1" cy="137.6" r="0.8"/><circle cx="150.7" cy="139.1" r="0.8"/><circle cx="157.3" cy="141.5" r="0.8"/><circle cx="163.9" cy="144" r="0.8"/><circle cx="170.6" cy="146.3" r="0.8"/></g>
<g fill="none" stroke="#de1c30" stroke-width="1.4"><circle cx="78" cy="140.6" r="1.3"/><circle cx="84.6" cy="140.4" r="1.3"/><circle cx="91.2" cy="140" r="1.3"/><circle cx="97.8" cy="139.6" r="1.3"/><circle cx="104.4" cy="139.1" r="1.3"/><circle cx="111.1" cy="138.3" r="1.3"/><circle cx="117.7" cy="137.6" r="1.3"/><circle cx="124.3" cy="137" r="1.3"/><circle cx="130.9" cy="136.8" r="1.3"/><circle cx="137.5" cy="136.9" r="1.3"/><circle cx="144.1" cy="137.6" r="1.3"/><circle cx="150.7" cy="139.1" r="1.3"/><circle cx="157.3" cy="141.5" r="1.3"/><circle cx="163.9" cy="144" r="1.3"/><circle cx="170.6" cy="146.3" r="1.3"/></g>
<g fill="none" stroke="#55e655" stroke-width="1.2"><circle cx="78" cy="247.5" r="0.9"/><circle cx="84.6" cy="247.5" r="0.9"/><circle cx="91.2" cy="247" r="0.9"/><circle cx="97.8" cy="246" r="0.9"/><circle cx="104.4" cy="244.3" r="0.9"/><circle cx="111.1" cy="242.3" r="0.9"/><circle cx="117.7" cy="240.4" r="0.9"/><circle cx="124.3" cy="239" r="0.9"/><circle cx="130.9" cy="237.7" r="0.9"/><circle cx="137.5" cy="236.5" r="0.9"/><circle cx="144.1" cy="235.3" r="0.9"/><circle cx="150.7" cy="234.3" r="0.9"/><circle cx="157.3" cy="233.4" r="0.9"/><circle cx="163.9" cy="232.9" r="0.9"/><circle cx="170.6" cy="232.6" r="0.9"/><circle cx="177.2" cy="232.6" r="0.9"/><circle cx="183.8" cy="232.7" r="0.9"/><circle cx="190.4" cy="233" r="0.9"/><circle cx="197" cy="233.5" r="0.9"/><circle cx="203.6" cy="234" r="0.9"/><circle cx="210.2" cy="234.6" r="0.9"/><circle cx="216.8" cy="235" r="0.9"/><circle cx="223.4" cy="235.1" r="0.9"/><circle cx="223.4" cy="242.5" r="0.9"/><circle cx="230.1" cy="240.1" r="0.9"/><circle cx="236.7" cy="240.3" r="0.9"/><circle cx="243.3" cy="241.2" r="0.9"/><circle cx="249.9" cy="242" r="0.9"/><circle cx="256.5" cy="242.8" r="0.9"/><circle cx="263.1" cy="243.7" r="0.9"/><circle cx="269.7" cy="245" r="0.9"/><circle cx="276.3" cy="246.5" r="0.9"/><circle cx="282.9" cy="247.8" r="0.9"/><circle cx="289.6" cy="248.7" r="0.9"/><circle cx="296.2" cy="249.3" r="0.9"/><circle cx="302.8" cy="249.7" r="0.9"/><circle cx="309.4" cy="250" r="0.9"/><circle cx="316" cy="250.3" r="0.9"/><circle cx="322.6" cy="250.4" r="0.9"/><circle cx="329.2" cy="250.6" r="0.9"/><circle cx="335.8" cy="250.7" r="0.9"/><circle cx="342.4" cy="250.8" r="0.9"/><circle cx="78" cy="247.5" r="0.9"/><circle cx="84.6" cy="248" r="0.9"/><circle cx="91.2" cy="248.6" r="0.9"/><circle cx="97.8" cy="249.2" r="0.9"/><circle cx="104.4" cy="250.2" r="0.9"/><circle cx="111.1" cy="251.9" r="0.9"/><circle cx="117.7" cy="254.9" r="0.9"/><circle cx="124.3" cy="258.1" r="0.9"/><circle cx="130.9" cy="260.8" r="0.9"/><circle cx="137.5" cy="263.3" r="0.9"/><circle cx="144.1" cy="265.9" r="0.9"/><circle cx="150.7" cy="268.4" r="0.9"/><circle cx="157.3" cy="270.8" r="0.9"/><circle cx="163.9" cy="273.9" r="0.9"/><circle cx="170.6" cy="278.1" r="0.9"/><circle cx="177.2" cy="282.2" r="0.9"/><circle cx="183.8" cy="285.5" r="0.9"/><circle cx="190.4" cy="288.3" r="0.9"/><circle cx="197" cy="291" r="0.9"/><circle cx="203.6" cy="293.6" r="0.9"/><circle cx="210.2" cy="296.1" r="0.9"/><circle cx="216.8" cy="298.5" r="0.9"/><circle cx="223.4" cy="300.7" r="0.9"/><circle cx="230.1" cy="302.7" r="0.9"/><circle cx="236.7" cy="304.7" r="0.9"/><circle cx="243.3" cy="306.6" r="0.9"/><circle cx="249.9" cy="308.4" r="0.9"/><circle cx="256.5" cy="310.1" r="0.9"/><circle cx="263.1" cy="311.6" r="0.9"/><circle cx="269.7" cy="313" r="0.9"/><circle cx="276.3" cy="314.2" r="0.9"/><circle cx="282.9" cy="315.3" r="0.9"/><circle cx="289.6" cy="316.3" r="0.9"/><circle cx="296.2" cy="317.1" r="0.9"/><circle cx="302.8" cy="317.9" r="0.9"/><circle cx="309.4" cy="318.4" r="0.9"/><circle cx="316" cy="318.8" r="0.9"/><circle cx="322.6" cy="319" r="0.9"/><circle cx="329.2" cy="319.1" r="0.9"/><circle cx="335.8" cy="319.1" r="0.9"/><circle cx="342.4" cy="319.1" r="0.9"/><circle cx="130.9" cy="296.5" r="0.9"/><circle cx="137.5" cy="296.5" r="0.9"/><circle cx="144.1" cy="297.2" r="0.9"/><circle cx="150.7" cy="298.7" r="0.9"/><circle cx="157.3" cy="300.8" r="0.9"/><circle cx="163.9" cy="302.9" r="0.9"/><circle cx="170.6" cy="304.7" r="0.9"/><circle cx="177.2" cy="306.4" r="0.9"/><circle cx="183.8" cy="308.1" r="0.9"/><circle cx="190.4" cy="310.3" r="0.9"/><circle cx="197" cy="312.7" r="0.9"/><circle cx="203.6" cy="315.3" r="0.9"/><circle cx="210.2" cy="317.8" r="0.9"/><circle cx="216.8" cy="320.4" r="0.9"/><circle cx="223.4" cy="323" r="0.9"/><circle cx="230.1" cy="325.5" r="0.9"/><circle cx="236.7" cy="328.2" r="0.9"/><circle cx="243.3" cy="330.8" r="0.9"/><circle cx="249.9" cy="333.6" r="0.9"/><circle cx="256.5" cy="336.4" r="0.9"/><circle cx="263.1" cy="339.3" r="0.9"/><circle cx="269.7" cy="342.3" r="0.9"/><circle cx="276.3" cy="345.4" r="0.9"/><circle cx="282.9" cy="348.3" r="0.9"/><circle cx="289.6" cy="351.1" r="0.9"/><circle cx="296.2" cy="353.7" r="0.9"/><circle cx="302.8" cy="356.1" r="0.9"/><circle cx="309.4" cy="358.4" r="0.9"/><circle cx="316" cy="360.2" r="0.9"/><circle cx="322.6" cy="361.7" r="0.9"/><circle cx="329.2" cy="362.7" r="0.9"/><circle cx="335.8" cy="363.2" r="0.9"/><circle cx="342.4" cy="363.6" r="0.9"/><circle cx="78" cy="276.4" r="0.9"/><circle cx="84.6" cy="276.3" r="0.9"/><circle cx="91.2" cy="276.5" r="0.9"/><circle cx="97.8" cy="277.1" r="0.9"/><circle cx="104.4" cy="278.3" r="0.9"/><circle cx="111.1" cy="280" r="0.9"/><circle cx="117.7" cy="281.9" r="0.9"/><circle cx="124.3" cy="283.6" r="0.9"/></g>
<g fill="none" stroke="#de1c30" stroke-width="1.05"><circle cx="78" cy="267.2" r="2.75"/><circle cx="84.6" cy="267.3" r="2.75"/><circle cx="91.2" cy="267.4" r="2.75"/><circle cx="97.8" cy="267.4" r="2.75"/><circle cx="104.4" cy="267.5" r="2.75"/><circle cx="111.1" cy="267.6" r="2.75"/><circle cx="117.7" cy="267.7" r="2.75"/><circle cx="124.3" cy="267.7" r="2.75"/><circle cx="130.9" cy="267.8" r="2.75"/><circle cx="137.5" cy="267.9" r="2.75"/><circle cx="144.1" cy="268" r="2.75"/><circle cx="150.7" cy="268.1" r="2.75"/><circle cx="157.3" cy="268.3" r="2.75"/><circle cx="163.9" cy="268.4" r="2.75"/><circle cx="170.6" cy="268.5" r="2.75"/><circle cx="177.2" cy="268.6" r="2.75"/><circle cx="183.8" cy="268.7" r="2.75"/><circle cx="190.4" cy="268.9" r="2.75"/><circle cx="197" cy="269" r="2.75"/><circle cx="203.6" cy="269.1" r="2.75"/><circle cx="210.2" cy="269.2" r="2.75"/><circle cx="216.8" cy="269.3" r="2.75"/><circle cx="223.4" cy="269.3" r="2.75"/><circle cx="230.1" cy="269.4" r="2.75"/><circle cx="236.7" cy="269.5" r="2.75"/><circle cx="243.3" cy="269.5" r="2.75"/><circle cx="249.9" cy="269.6" r="2.75"/><circle cx="256.5" cy="269.7" r="2.75"/><circle cx="263.1" cy="269.7" r="2.75"/><circle cx="269.7" cy="269.7" r="2.75"/><circle cx="276.3" cy="269.8" r="2.75"/><circle cx="282.9" cy="269.8" r="2.75"/><circle cx="289.6" cy="269.9" r="2.75"/><circle cx="296.2" cy="269.9" r="2.75"/><circle cx="302.8" cy="270" r="2.75"/><circle cx="309.4" cy="270" r="2.75"/><circle cx="316" cy="270.1" r="2.75"/><circle cx="322.6" cy="270.1" r="2.75"/><circle cx="329.2" cy="270.2" r="2.75"/><circle cx="335.8" cy="270.2" r="2.75"/><circle cx="342.4" cy="270.2" r="2.75"/></g>
<g fill="none" stroke="#de1c30" stroke-width="1.1"><circle cx="78" cy="298" r="2.75"/><circle cx="84.6" cy="297.7" r="2.75"/><circle cx="91.2" cy="297.3" r="2.75"/><circle cx="97.8" cy="296.7" r="2.75"/><circle cx="104.4" cy="295.9" r="2.75"/><circle cx="111.1" cy="294.7" r="2.75"/><circle cx="117.7" cy="293.3" r="2.75"/><circle cx="124.3" cy="291.8" r="2.75"/><circle cx="130.9" cy="290.2" r="2.75"/><circle cx="137.5" cy="288" r="2.75"/><circle cx="144.1" cy="285.1" r="2.75"/><circle cx="150.7" cy="282.3" r="2.75"/><circle cx="157.3" cy="279.2" r="2.75"/><circle cx="163.9" cy="275.7" r="2.75"/><circle cx="170.6" cy="271.9" r="2.75"/><circle cx="177.2" cy="267.9" r="2.75"/><circle cx="183.8" cy="263.8" r="2.75"/><circle cx="190.4" cy="259.9" r="2.75"/><circle cx="197" cy="256.2" r="2.75"/><circle cx="203.6" cy="252.4" r="2.75"/><circle cx="210.2" cy="248.3" r="2.75"/><circle cx="216.8" cy="243.9" r="2.75"/><circle cx="223.4" cy="239.2" r="2.75"/><circle cx="230.1" cy="234.7" r="2.75"/><circle cx="236.7" cy="231" r="2.75"/><circle cx="243.3" cy="227.9" r="2.75"/><circle cx="249.9" cy="225" r="2.75"/><circle cx="256.5" cy="222.2" r="2.75"/><circle cx="263.1" cy="219.5" r="2.75"/><circle cx="269.7" cy="217" r="2.75"/><circle cx="276.3" cy="215.1" r="2.75"/><circle cx="282.9" cy="213.8" r="2.75"/></g>
<g fill="none" stroke="#de1c30" stroke-width="1.6"><circle cx="289.6" cy="213.1" r="1.9"/><circle cx="296.2" cy="212.8" r="1.9"/><circle cx="302.8" cy="212.9" r="1.9"/><circle cx="309.4" cy="213.1" r="1.9"/><circle cx="316" cy="213.3" r="1.9"/><circle cx="322.6" cy="213.5" r="1.9"/><circle cx="329.2" cy="213.7" r="1.9"/><circle cx="335.8" cy="213.9" r="1.9"/><circle cx="342.4" cy="214.1" r="1.9"/></g>
<g fill="none" stroke="#de1c30" stroke-width="1.2"><circle cx="78" cy="302" r="2.6"/><circle cx="84.6" cy="302.2" r="2.6"/><circle cx="91.2" cy="302.2" r="2.6"/><circle cx="97.8" cy="302" r="2.6"/><circle cx="104.4" cy="301.2" r="2.6"/><circle cx="111.1" cy="299.9" r="2.6"/><circle cx="117.7" cy="298.4" r="2.6"/><circle cx="124.3" cy="297.1" r="2.6"/></g>
<g fill="none" stroke="#de1c30" stroke-width="1.2"><circle cx="130.9" cy="285.2" r="2.4"/><circle cx="137.5" cy="287.9" r="2.4"/><circle cx="144.1" cy="286.5" r="2.4"/><circle cx="150.7" cy="282.7" r="2.4"/><circle cx="157.3" cy="279.2" r="2.4"/><circle cx="163.9" cy="276.1" r="2.4"/></g>
<g fill="none" stroke="#55e655" stroke-width="2.2"><circle cx="78" cy="320.1" r="1.5"/><circle cx="84.6" cy="320.1" r="1.5"/><circle cx="91.2" cy="320" r="1.5"/><circle cx="97.8" cy="319.9" r="1.5"/><circle cx="104.4" cy="319.8" r="1.5"/><circle cx="111.1" cy="319.6" r="1.5"/><circle cx="117.7" cy="319.3" r="1.5"/><circle cx="124.3" cy="318.8" r="1.5"/><circle cx="130.9" cy="318.2" r="1.5"/><circle cx="137.5" cy="317.5" r="1.5"/><circle cx="144.1" cy="316.7" r="1.5"/><circle cx="150.7" cy="316" r="1.5"/><circle cx="157.3" cy="315.4" r="1.5"/><circle cx="163.9" cy="314.8" r="1.5"/><circle cx="170.6" cy="314.3" r="1.5"/><circle cx="177.2" cy="313.9" r="1.5"/><circle cx="183.8" cy="313.8" r="1.5"/><circle cx="190.4" cy="313.9" r="1.5"/><circle cx="197" cy="314.2" r="1.5"/><circle cx="203.6" cy="314.7" r="1.5"/><circle cx="210.2" cy="315.3" r="1.5"/><circle cx="216.8" cy="316" r="1.5"/><circle cx="223.4" cy="316.8" r="1.5"/><circle cx="230.1" cy="317.7" r="1.5"/><circle cx="236.7" cy="318.6" r="1.5"/><circle cx="243.3" cy="319.5" r="1.5"/><circle cx="249.9" cy="320.4" r="1.5"/><circle cx="256.5" cy="321.3" r="1.5"/><circle cx="263.1" cy="322.2" r="1.5"/><circle cx="269.7" cy="323" r="1.5"/><circle cx="276.3" cy="323.8" r="1.5"/><circle cx="282.9" cy="324.5" r="1.5"/><circle cx="289.6" cy="325.1" r="1.5"/><circle cx="296.2" cy="325.7" r="1.5"/><circle cx="302.8" cy="326.2" r="1.5"/><circle cx="309.4" cy="326.7" r="1.5"/><circle cx="316" cy="327.2" r="1.5"/><circle cx="322.6" cy="327.6" r="1.5"/><circle cx="329.2" cy="328" r="1.5"/><circle cx="335.8" cy="328.4" r="1.5"/><circle cx="342.4" cy="328.8" r="1.5"/><circle cx="78" cy="322.2" r="1.5"/><circle cx="84.6" cy="322.2" r="1.5"/><circle cx="91.2" cy="322.2" r="1.5"/><circle cx="97.8" cy="322.2" r="1.5"/><circle cx="104.4" cy="322.2" r="1.5"/><circle cx="111.1" cy="322.3" r="1.5"/><circle cx="117.7" cy="322.4" r="1.5"/><circle cx="124.3" cy="322.5" r="1.5"/><circle cx="130.9" cy="322.7" r="1.5"/><circle cx="137.5" cy="323" r="1.5"/><circle cx="144.1" cy="323.6" r="1.5"/><circle cx="150.7" cy="324.5" r="1.5"/><circle cx="157.3" cy="325.5" r="1.5"/><circle cx="163.9" cy="326.6" r="1.5"/><circle cx="170.6" cy="327.7" r="1.5"/><circle cx="177.2" cy="328.7" r="1.5"/><circle cx="183.8" cy="329.7" r="1.5"/><circle cx="190.4" cy="330.5" r="1.5"/><circle cx="197" cy="331.3" r="1.5"/><circle cx="203.6" cy="331.9" r="1.5"/><circle cx="210.2" cy="332.3" r="1.5"/><circle cx="216.8" cy="332.7" r="1.5"/><circle cx="223.4" cy="332.9" r="1.5"/><circle cx="230.1" cy="333.1" r="1.5"/><circle cx="236.7" cy="333.2" r="1.5"/><circle cx="243.3" cy="333.4" r="1.5"/><circle cx="249.9" cy="333.6" r="1.5"/><circle cx="256.5" cy="333.8" r="1.5"/><circle cx="263.1" cy="334.1" r="1.5"/><circle cx="269.7" cy="334.3" r="1.5"/><circle cx="276.3" cy="334.6" r="1.5"/><circle cx="282.9" cy="334.8" r="1.5"/><circle cx="289.6" cy="335" r="1.5"/><circle cx="296.2" cy="335.2" r="1.5"/><circle cx="302.8" cy="335.4" r="1.5"/><circle cx="309.4" cy="335.6" r="1.5"/><circle cx="316" cy="335.7" r="1.5"/><circle cx="322.6" cy="335.8" r="1.5"/><circle cx="329.2" cy="335.9" r="1.5"/><circle cx="335.8" cy="336" r="1.5"/><circle cx="342.4" cy="336.1" r="1.5"/></g>
<g fill="none" stroke="#d01c2c" stroke-width="1.6"><circle cx="78" cy="373.4" r="1.45"/><circle cx="84.6" cy="373.4" r="1.45"/><circle cx="91.2" cy="373.4" r="1.45"/><circle cx="97.8" cy="373.4" r="1.45"/><circle cx="104.4" cy="373.4" r="1.45"/><circle cx="111.1" cy="373.3" r="1.45"/><circle cx="117.7" cy="373.3" r="1.45"/><circle cx="124.3" cy="373.4" r="1.45"/><circle cx="130.9" cy="373.7" r="1.45"/><circle cx="137.5" cy="374.3" r="1.45"/><circle cx="144.1" cy="375.1" r="1.45"/><circle cx="150.7" cy="376" r="1.45"/><circle cx="157.3" cy="376.8" r="1.45"/><circle cx="163.9" cy="377.3" r="1.45"/><circle cx="170.6" cy="377.8" r="1.45"/><circle cx="177.2" cy="378.3" r="1.45"/><circle cx="183.8" cy="378.8" r="1.45"/><circle cx="190.4" cy="379.3" r="1.45"/><circle cx="197" cy="379.9" r="1.45"/><circle cx="203.6" cy="380.4" r="1.45"/><circle cx="210.2" cy="381" r="1.45"/><circle cx="216.8" cy="381.5" r="1.45"/><circle cx="223.4" cy="381.9" r="1.45"/><circle cx="230.1" cy="382.4" r="1.45"/><circle cx="236.7" cy="382.8" r="1.45"/><circle cx="243.3" cy="383.2" r="1.45"/><circle cx="249.9" cy="383.6" r="1.45"/><circle cx="256.5" cy="384" r="1.45"/><circle cx="263.1" cy="384.3" r="1.45"/><circle cx="269.7" cy="384.7" r="1.45"/><circle cx="276.3" cy="385" r="1.45"/><circle cx="282.9" cy="385.4" r="1.45"/><circle cx="289.6" cy="385.7" r="1.45"/><circle cx="296.2" cy="386" r="1.45"/><circle cx="302.8" cy="386.4" r="1.45"/><circle cx="309.4" cy="386.7" r="1.45"/><circle cx="316" cy="387" r="1.45"/><circle cx="322.6" cy="387.3" r="1.45"/><circle cx="329.2" cy="387.6" r="1.45"/><circle cx="335.8" cy="387.9" r="1.45"/><circle cx="342.4" cy="388.2" r="1.45"/><circle cx="78" cy="377.1" r="1.45"/><circle cx="84.6" cy="377.1" r="1.45"/><circle cx="91.2" cy="377.1" r="1.45"/><circle cx="97.8" cy="377.1" r="1.45"/><circle cx="104.4" cy="377.1" r="1.45"/><circle cx="111.1" cy="377.2" r="1.45"/><circle cx="117.7" cy="377.2" r="1.45"/><circle cx="124.3" cy="377.2" r="1.45"/><circle cx="130.9" cy="377.2" r="1.45"/><circle cx="137.5" cy="377" r="1.45"/><circle cx="144.1" cy="376.8" r="1.45"/><circle cx="150.7" cy="376.7" r="1.45"/><circle cx="157.3" cy="376.8" r="1.45"/><circle cx="163.9" cy="377.1" r="1.45"/><circle cx="170.6" cy="377.7" r="1.45"/><circle cx="177.2" cy="378.3" r="1.45"/><circle cx="183.8" cy="378.8" r="1.45"/><circle cx="190.4" cy="379.4" r="1.45"/><circle cx="197" cy="379.9" r="1.45"/><circle cx="203.6" cy="380.4" r="1.45"/><circle cx="210.2" cy="380.9" r="1.45"/><circle cx="216.8" cy="381.4" r="1.45"/><circle cx="223.4" cy="381.9" r="1.45"/><circle cx="230.1" cy="382.4" r="1.45"/><circle cx="236.7" cy="382.8" r="1.45"/><circle cx="243.3" cy="383.2" r="1.45"/><circle cx="249.9" cy="383.6" r="1.45"/><circle cx="256.5" cy="384" r="1.45"/><circle cx="263.1" cy="384.4" r="1.45"/><circle cx="269.7" cy="384.7" r="1.45"/><circle cx="276.3" cy="385" r="1.45"/><circle cx="282.9" cy="385.4" r="1.45"/><circle cx="289.6" cy="385.7" r="1.45"/><circle cx="296.2" cy="386" r="1.45"/><circle cx="302.8" cy="386.3" r="1.45"/><circle cx="309.4" cy="386.7" r="1.45"/><circle cx="316" cy="387" r="1.45"/><circle cx="322.6" cy="387.3" r="1.45"/><circle cx="329.2" cy="387.6" r="1.45"/><circle cx="335.8" cy="387.9" r="1.45"/><circle cx="342.4" cy="388.2" r="1.45"/></g>
<g fill="none" stroke="#2c2cd0" stroke-width="1.5"><circle cx="78" cy="448" r="2.15"/><circle cx="84.6" cy="447.9" r="2.15"/><circle cx="91.2" cy="447.8" r="2.15"/><circle cx="97.8" cy="447.8" r="2.15"/><circle cx="104.4" cy="447.6" r="2.15"/><circle cx="111.1" cy="447.5" r="2.15"/><circle cx="117.7" cy="447.4" r="2.15"/><circle cx="124.3" cy="447.2" r="2.15"/><circle cx="130.9" cy="447" r="2.15"/><circle cx="137.5" cy="446.7" r="2.15"/><circle cx="144.1" cy="446.4" r="2.15"/><circle cx="150.7" cy="446.1" r="2.15"/><circle cx="157.3" cy="445.7" r="2.15"/><circle cx="163.9" cy="445.3" r="2.15"/><circle cx="170.6" cy="444.8" r="2.15"/><circle cx="177.2" cy="444.4" r="2.15"/><circle cx="183.8" cy="444" r="2.15"/><circle cx="190.4" cy="443.6" r="2.15"/><circle cx="197" cy="443.2" r="2.15"/><circle cx="203.6" cy="442.8" r="2.15"/><circle cx="210.2" cy="442.4" r="2.15"/><circle cx="216.8" cy="442" r="2.15"/><circle cx="223.4" cy="441.6" r="2.15"/><circle cx="230.1" cy="441.2" r="2.15"/><circle cx="236.7" cy="440.7" r="2.15"/><circle cx="243.3" cy="440.3" r="2.15"/><circle cx="249.9" cy="439.9" r="2.15"/><circle cx="256.5" cy="439.5" r="2.15"/><circle cx="263.1" cy="439.1" r="2.15"/><circle cx="269.7" cy="438.8" r="2.15"/><circle cx="276.3" cy="438.4" r="2.15"/><circle cx="282.9" cy="438.2" r="2.15"/><circle cx="289.6" cy="437.9" r="2.15"/><circle cx="296.2" cy="437.7" r="2.15"/><circle cx="302.8" cy="437.5" r="2.15"/><circle cx="309.4" cy="437.3" r="2.15"/><circle cx="316" cy="437.2" r="2.15"/><circle cx="322.6" cy="437" r="2.15"/><circle cx="329.2" cy="436.9" r="2.15"/><circle cx="335.8" cy="436.8" r="2.15"/><circle cx="342.4" cy="436.7" r="2.15"/></g>
<g fill="#5a2030"><circle cx="78" cy="55.3" r="0.8"/><circle cx="84.6" cy="55" r="0.8"/><circle cx="91.2" cy="54.6" r="0.8"/><circle cx="97.8" cy="54.2" r="0.8"/><circle cx="104.4" cy="53.6" r="0.8"/><circle cx="111.1" cy="52.4" r="0.8"/><circle cx="117.7" cy="50.5" r="0.8"/><circle cx="124.3" cy="48.3" r="0.8"/><circle cx="130.9" cy="46.1" r="0.8"/><circle cx="137.5" cy="44.1" r="0.8"/><circle cx="144.1" cy="42.2" r="0.8"/><circle cx="150.7" cy="40.5" r="0.8"/><circle cx="157.3" cy="38.9" r="0.8"/><circle cx="163.9" cy="37.6" r="0.8"/><circle cx="170.6" cy="36.4" r="0.8"/><circle cx="177.2" cy="35.5" r="0.8"/><circle cx="183.8" cy="34.8" r="0.8"/><circle cx="190.4" cy="34.3" r="0.8"/><circle cx="197" cy="34.1" r="0.8"/><circle cx="203.6" cy="34" r="0.8"/><circle cx="210.2" cy="34.3" r="0.8"/><circle cx="216.8" cy="34.9" r="0.8"/><circle cx="223.4" cy="36" r="0.8"/><circle cx="230.1" cy="37.9" r="0.8"/><circle cx="236.7" cy="40.6" r="0.8"/><circle cx="243.3" cy="44" r="0.8"/><circle cx="249.9" cy="47.3" r="0.8"/><circle cx="256.5" cy="49.8" r="0.8"/><circle cx="263.1" cy="51" r="0.8"/><circle cx="269.7" cy="51.5" r="0.8"/><circle cx="276.3" cy="51.7" r="0.8"/><circle cx="282.9" cy="52.3" r="0.8"/><circle cx="289.6" cy="53.5" r="0.8"/><circle cx="296.2" cy="55" r="0.8"/><circle cx="302.8" cy="56.5" r="0.8"/><circle cx="309.4" cy="57.8" r="0.8"/><circle cx="316" cy="58.9" r="0.8"/><circle cx="322.6" cy="59.7" r="0.8"/><circle cx="329.2" cy="60.1" r="0.8"/><circle cx="335.8" cy="60.3" r="0.8"/><circle cx="342.4" cy="60.3" r="0.8"/></g>
<g fill="#2a2a2a"><circle cx="78" cy="59.4" r="0.75"/><circle cx="84.6" cy="59.4" r="0.75"/><circle cx="91.2" cy="59.3" r="0.75"/><circle cx="97.8" cy="59.2" r="0.75"/><circle cx="104.4" cy="59" r="0.75"/><circle cx="111.1" cy="58.8" r="0.75"/><circle cx="117.7" cy="58.6" r="0.75"/><circle cx="124.3" cy="58.2" r="0.75"/><circle cx="130.9" cy="57.8" r="0.75"/><circle cx="137.5" cy="57.2" r="0.75"/><circle cx="144.1" cy="56.6" r="0.75"/><circle cx="150.7" cy="56.1" r="0.75"/><circle cx="157.3" cy="55.6" r="0.75"/><circle cx="163.9" cy="55.1" r="0.75"/><circle cx="170.6" cy="54.7" r="0.75"/><circle cx="177.2" cy="54.1" r="0.75"/><circle cx="183.8" cy="53.4" r="0.75"/><circle cx="190.4" cy="52.4" r="0.75"/><circle cx="197" cy="51.1" r="0.75"/><circle cx="203.6" cy="49.7" r="0.75"/><circle cx="210.2" cy="48.3" r="0.75"/><circle cx="216.8" cy="47.3" r="0.75"/><circle cx="223.4" cy="46.5" r="0.75"/><circle cx="230.1" cy="46.3" r="0.75"/><circle cx="236.7" cy="46.7" r="0.75"/><circle cx="243.3" cy="48" r="0.75"/><circle cx="249.9" cy="49.9" r="0.75"/><circle cx="256.5" cy="51.6" r="0.75"/><circle cx="263.1" cy="52.7" r="0.75"/><circle cx="269.7" cy="53.5" r="0.75"/><circle cx="276.3" cy="54.1" r="0.75"/><circle cx="282.9" cy="54.9" r="0.75"/><circle cx="289.6" cy="55.9" r="0.75"/><circle cx="296.2" cy="57" r="0.75"/><circle cx="302.8" cy="58.1" r="0.75"/><circle cx="309.4" cy="59" r="0.75"/><circle cx="316" cy="59.6" r="0.75"/><circle cx="322.6" cy="59.9" r="0.75"/><circle cx="329.2" cy="60.1" r="0.75"/><circle cx="335.8" cy="60.2" r="0.75"/><circle cx="342.4" cy="60.3" r="0.75"/><circle cx="276.3" cy="43.2" r="0.75"/><circle cx="282.9" cy="45" r="0.75"/><circle cx="289.6" cy="46.6" r="0.75"/><circle cx="296.2" cy="47.7" r="0.75"/><circle cx="302.8" cy="48.5" r="0.75"/><circle cx="309.4" cy="49.2" r="0.75"/><circle cx="316" cy="49.6" r="0.75"/><circle cx="322.6" cy="50" r="0.75"/><circle cx="329.2" cy="50.3" r="0.75"/><circle cx="335.8" cy="50.5" r="0.75"/><circle cx="342.4" cy="50.7" r="0.75"/><circle cx="282.9" cy="42.2" r="0.75"/><circle cx="289.6" cy="44.4" r="0.75"/><circle cx="296.2" cy="46.4" r="0.75"/><circle cx="302.8" cy="48.2" r="0.75"/><circle cx="309.4" cy="49.6" r="0.75"/><circle cx="316" cy="50.8" r="0.75"/><circle cx="322.6" cy="51.7" r="0.75"/><circle cx="329.2" cy="52.3" r="0.75"/><circle cx="335.8" cy="52.8" r="0.75"/><circle cx="342.4" cy="53.3" r="0.75"/><circle cx="78" cy="73.2" r="0.75"/><circle cx="84.6" cy="73.4" r="0.75"/><circle cx="91.2" cy="73.5" r="0.75"/><circle cx="97.8" cy="73.5" r="0.75"/><circle cx="104.4" cy="73.3" r="0.75"/><circle cx="111.1" cy="72.7" r="0.75"/><circle cx="117.7" cy="71.8" r="0.75"/><circle cx="124.3" cy="70.7" r="0.75"/><circle cx="130.9" cy="69.4" r="0.75"/><circle cx="137.5" cy="68.1" r="0.75"/><circle cx="144.1" cy="66.7" r="0.75"/><circle cx="150.7" cy="65.1" r="0.75"/><circle cx="157.3" cy="63.3" r="0.75"/><circle cx="163.9" cy="61.3" r="0.75"/><circle cx="170.6" cy="59.1" r="0.75"/><circle cx="177.2" cy="57.1" r="0.75"/><circle cx="183.8" cy="55.2" r="0.75"/><circle cx="190.4" cy="53.7" r="0.75"/><circle cx="197" cy="52.6" r="0.75"/><circle cx="203.6" cy="51.8" r="0.75"/><circle cx="210.2" cy="51.1" r="0.75"/><circle cx="216.8" cy="50.6" r="0.75"/><circle cx="223.4" cy="50.3" r="0.75"/><circle cx="230.1" cy="50.2" r="0.75"/><circle cx="236.7" cy="50.7" r="0.75"/><circle cx="243.3" cy="51.6" r="0.75"/><circle cx="249.9" cy="53.2" r="0.75"/><circle cx="256.5" cy="54.9" r="0.75"/><circle cx="263.1" cy="56.4" r="0.75"/><circle cx="269.7" cy="57.6" r="0.75"/><circle cx="276.3" cy="58.6" r="0.75"/><circle cx="282.9" cy="59.6" r="0.75"/><circle cx="289.6" cy="60.8" r="0.75"/><circle cx="296.2" cy="62.1" r="0.75"/><circle cx="302.8" cy="63.6" r="0.75"/><circle cx="309.4" cy="65.2" r="0.75"/><circle cx="316" cy="66.8" r="0.75"/><circle cx="322.6" cy="68.3" r="0.75"/><circle cx="329.2" cy="69.5" r="0.75"/><circle cx="335.8" cy="70.3" r="0.75"/><circle cx="342.4" cy="70.9" r="0.75"/><circle cx="78" cy="86.9" r="0.75"/><circle cx="84.6" cy="87.2" r="0.75"/><circle cx="91.2" cy="87.5" r="0.75"/><circle cx="97.8" cy="87.5" r="0.75"/><circle cx="104.4" cy="87.3" r="0.75"/><circle cx="111.1" cy="86.6" r="0.75"/><circle cx="117.7" cy="85.5" r="0.75"/><circle cx="124.3" cy="84" r="0.75"/><circle cx="130.9" cy="82.2" r="0.75"/><circle cx="137.5" cy="80.3" r="0.75"/><circle cx="144.1" cy="78.3" r="0.75"/><circle cx="150.7" cy="76" r="0.75"/><circle cx="157.3" cy="73.3" r="0.75"/><circle cx="163.9" cy="70.3" r="0.75"/><circle cx="170.6" cy="67.1" r="0.75"/><circle cx="177.2" cy="63.9" r="0.75"/><circle cx="183.8" cy="60.9" r="0.75"/><circle cx="190.4" cy="58.2" r="0.75"/><circle cx="197" cy="55.9" r="0.75"/><circle cx="203.6" cy="54.2" r="0.75"/><circle cx="210.2" cy="52.9" r="0.75"/><circle cx="216.8" cy="52.2" r="0.75"/><circle cx="223.4" cy="52.2" r="0.75"/><circle cx="230.1" cy="52.7" r="0.75"/><circle cx="236.7" cy="53.8" r="0.75"/><circle cx="243.3" cy="55.7" r="0.75"/><circle cx="249.9" cy="58.2" r="0.75"/><circle cx="256.5" cy="60.9" r="0.75"/><circle cx="263.1" cy="63.1" r="0.75"/><circle cx="269.7" cy="65.1" r="0.75"/><circle cx="276.3" cy="66.9" r="0.75"/><circle cx="282.9" cy="68.7" r="0.75"/><circle cx="289.6" cy="70.6" r="0.75"/><circle cx="296.2" cy="72.7" r="0.75"/><circle cx="302.8" cy="74.6" r="0.75"/><circle cx="309.4" cy="76.2" r="0.75"/><circle cx="316" cy="77.4" r="0.75"/><circle cx="322.6" cy="78.3" r="0.75"/><circle cx="329.2" cy="78.9" r="0.75"/><circle cx="335.8" cy="79.4" r="0.75"/><circle cx="342.4" cy="79.8" r="0.75"/><circle cx="78" cy="91.8" r="0.75"/><circle cx="84.6" cy="92.3" r="0.75"/><circle cx="91.2" cy="92.6" r="0.75"/><circle cx="97.8" cy="92.5" r="0.75"/><circle cx="104.4" cy="91.9" r="0.75"/><circle cx="111.1" cy="90.6" r="0.75"/><circle cx="117.7" cy="88.5" r="0.75"/><circle cx="124.3" cy="85.7" r="0.75"/><circle cx="130.9" cy="83" r="0.75"/><circle cx="137.5" cy="80.8" r="0.75"/><circle cx="144.1" cy="78.9" r="0.75"/><circle cx="150.7" cy="77.1" r="0.75"/><circle cx="157.3" cy="75.2" r="0.75"/><circle cx="163.9" cy="72.9" r="0.75"/><circle cx="170.6" cy="70.4" r="0.75"/><circle cx="177.2" cy="67.9" r="0.75"/><circle cx="183.8" cy="65.5" r="0.75"/><circle cx="190.4" cy="63.4" r="0.75"/><circle cx="197" cy="61.7" r="0.75"/><circle cx="203.6" cy="60.5" r="0.75"/><circle cx="210.2" cy="59.7" r="0.75"/><circle cx="216.8" cy="59.4" r="0.75"/><circle cx="223.4" cy="59.6" r="0.75"/><circle cx="230.1" cy="60.3" r="0.75"/><circle cx="236.7" cy="61.6" r="0.75"/><circle cx="243.3" cy="63.4" r="0.75"/><circle cx="249.9" cy="65.5" r="0.75"/><circle cx="256.5" cy="67.6" r="0.75"/><circle cx="263.1" cy="69.5" r="0.75"/><circle cx="269.7" cy="71.3" r="0.75"/><circle cx="276.3" cy="73.1" r="0.75"/><circle cx="282.9" cy="74.9" r="0.75"/><circle cx="289.6" cy="76.8" r="0.75"/><circle cx="296.2" cy="78.7" r="0.75"/><circle cx="302.8" cy="80.4" r="0.75"/><circle cx="309.4" cy="81.8" r="0.75"/><circle cx="316" cy="82.8" r="0.75"/><circle cx="322.6" cy="83.5" r="0.75"/><circle cx="329.2" cy="83.9" r="0.75"/><circle cx="335.8" cy="84.1" r="0.75"/><circle cx="342.4" cy="84.2" r="0.75"/><circle cx="78" cy="107" r="0.75"/><circle cx="84.6" cy="107.2" r="0.75"/><circle cx="91.2" cy="107.2" r="0.75"/><circle cx="97.8" cy="106.9" r="0.75"/><circle cx="104.4" cy="106.1" r="0.75"/><circle cx="111.1" cy="104.6" r="0.75"/><circle cx="117.7" cy="102.6" r="0.75"/><circle cx="124.3" cy="100.2" r="0.75"/><circle cx="130.9" cy="97.6" r="0.75"/><circle cx="137.5" cy="94.9" r="0.75"/><circle cx="144.1" cy="92.1" r="0.75"/><circle cx="150.7" cy="89.2" r="0.75"/><circle cx="157.3" cy="86.1" r="0.75"/><circle cx="163.9" cy="82.9" r="0.75"/><circle cx="170.6" cy="79.7" r="0.75"/><circle cx="177.2" cy="76.9" r="0.75"/><circle cx="183.8" cy="74.5" r="0.75"/><circle cx="190.4" cy="72.8" r="0.75"/><circle cx="197" cy="71.7" r="0.75"/><circle cx="203.6" cy="71" r="0.75"/><circle cx="210.2" cy="70.7" r="0.75"/><circle cx="216.8" cy="70.4" r="0.75"/><circle cx="223.4" cy="70.4" r="0.75"/><circle cx="230.1" cy="70.8" r="0.75"/><circle cx="236.7" cy="71.8" r="0.75"/><circle cx="243.3" cy="73.6" r="0.75"/><circle cx="249.9" cy="76" r="0.75"/><circle cx="256.5" cy="78.4" r="0.75"/><circle cx="263.1" cy="80.6" r="0.75"/><circle cx="269.7" cy="82.6" r="0.75"/><circle cx="276.3" cy="84.4" r="0.75"/><circle cx="282.9" cy="86.2" r="0.75"/><circle cx="289.6" cy="88" r="0.75"/><circle cx="296.2" cy="89.7" r="0.75"/><circle cx="302.8" cy="91.2" r="0.75"/><circle cx="309.4" cy="92.5" r="0.75"/><circle cx="316" cy="93.5" r="0.75"/><circle cx="322.6" cy="94.2" r="0.75"/><circle cx="329.2" cy="94.6" r="0.75"/><circle cx="335.8" cy="94.8" r="0.75"/><circle cx="342.4" cy="94.9" r="0.75"/><circle cx="78" cy="425.9" r="0.75"/><circle cx="84.6" cy="426" r="0.75"/><circle cx="91.2" cy="426.1" r="0.75"/><circle cx="97.8" cy="426.2" r="0.75"/><circle cx="104.4" cy="426.5" r="0.75"/><circle cx="111.1" cy="426.9" r="0.75"/><circle cx="117.7" cy="427.4" r="0.75"/><circle cx="124.3" cy="428.2" r="0.75"/><circle cx="130.9" cy="429.2" r="0.75"/><circle cx="137.5" cy="430.5" r="0.75"/><circle cx="144.1" cy="432.1" r="0.75"/><circle cx="150.7" cy="434.1" r="0.75"/><circle cx="157.3" cy="436.2" r="0.75"/><circle cx="163.9" cy="438.6" r="0.75"/><circle cx="170.6" cy="441.1" r="0.75"/><circle cx="177.2" cy="443.6" r="0.75"/><circle cx="183.8" cy="446.2" r="0.75"/><circle cx="190.4" cy="448.7" r="0.75"/><circle cx="197" cy="451.3" r="0.75"/><circle cx="203.6" cy="453.7" r="0.75"/><circle cx="210.2" cy="456.2" r="0.75"/><circle cx="216.8" cy="458.6" r="0.75"/><circle cx="223.4" cy="461" r="0.75"/><circle cx="230.1" cy="463.4" r="0.75"/><circle cx="236.7" cy="465.8" r="0.75"/><circle cx="243.3" cy="468.3" r="0.75"/><circle cx="249.9" cy="470.9" r="0.75"/><circle cx="256.5" cy="473.6" r="0.75"/><circle cx="263.1" cy="476.7" r="0.75"/><circle cx="269.7" cy="480" r="0.75"/><circle cx="276.3" cy="483.4" r="0.75"/><circle cx="282.9" cy="486.8" r="0.75"/><circle cx="289.6" cy="490.2" r="0.75"/><circle cx="296.2" cy="493.3" r="0.75"/><circle cx="302.8" cy="496.4" r="0.75"/><circle cx="309.4" cy="499.3" r="0.75"/><circle cx="78" cy="428.9" r="0.75"/><circle cx="84.6" cy="429" r="0.75"/><circle cx="91.2" cy="429.1" r="0.75"/><circle cx="97.8" cy="429.2" r="0.75"/><circle cx="104.4" cy="429.4" r="0.75"/><circle cx="111.1" cy="429.7" r="0.75"/><circle cx="117.7" cy="430.2" r="0.75"/><circle cx="124.3" cy="430.9" r="0.75"/><circle cx="130.9" cy="431.8" r="0.75"/><circle cx="137.5" cy="432.9" r="0.75"/><circle cx="144.1" cy="434.3" r="0.75"/><circle cx="150.7" cy="436" r="0.75"/><circle cx="157.3" cy="437.9" r="0.75"/><circle cx="163.9" cy="439.9" r="0.75"/><circle cx="170.6" cy="442.2" r="0.75"/><circle cx="177.2" cy="444.5" r="0.75"/><circle cx="183.8" cy="446.8" r="0.75"/><circle cx="190.4" cy="449.2" r="0.75"/><circle cx="197" cy="451.7" r="0.75"/><circle cx="203.6" cy="454.1" r="0.75"/><circle cx="210.2" cy="456.5" r="0.75"/><circle cx="216.8" cy="458.9" r="0.75"/><circle cx="223.4" cy="461.3" r="0.75"/><circle cx="230.1" cy="463.7" r="0.75"/><circle cx="236.7" cy="466.1" r="0.75"/><circle cx="243.3" cy="468.5" r="0.75"/><circle cx="249.9" cy="471.1" r="0.75"/><circle cx="256.5" cy="473.9" r="0.75"/><circle cx="263.1" cy="477" r="0.75"/><circle cx="269.7" cy="480.3" r="0.75"/><circle cx="276.3" cy="483.7" r="0.75"/><circle cx="282.9" cy="487.1" r="0.75"/><circle cx="289.6" cy="490.5" r="0.75"/><circle cx="296.2" cy="493.6" r="0.75"/><circle cx="302.8" cy="496.5" r="0.75"/><circle cx="309.4" cy="499.3" r="0.75"/><circle cx="78" cy="461.2" r="0.75"/><circle cx="84.6" cy="461" r="0.75"/><circle cx="91.2" cy="460.8" r="0.75"/><circle cx="97.8" cy="460.9" r="0.75"/><circle cx="104.4" cy="461.2" r="0.75"/><circle cx="111.1" cy="461.8" r="0.75"/><circle cx="117.7" cy="462.9" r="0.75"/><circle cx="124.3" cy="464.5" r="0.75"/><circle cx="130.9" cy="466.4" r="0.75"/><circle cx="137.5" cy="468.5" r="0.75"/><circle cx="144.1" cy="470.7" r="0.75"/><circle cx="150.7" cy="473" r="0.75"/><circle cx="157.3" cy="475.3" r="0.75"/><circle cx="163.9" cy="477.5" r="0.75"/><circle cx="170.6" cy="479.6" r="0.75"/><circle cx="177.2" cy="481.4" r="0.75"/><circle cx="183.8" cy="483.1" r="0.75"/><circle cx="190.4" cy="484.6" r="0.75"/><circle cx="197" cy="486.2" r="0.75"/><circle cx="203.6" cy="487.8" r="0.75"/><circle cx="210.2" cy="489.5" r="0.75"/><circle cx="216.8" cy="491.6" r="0.75"/><circle cx="223.4" cy="493.8" r="0.75"/><circle cx="230.1" cy="496.3" r="0.75"/><circle cx="78" cy="464.3" r="0.75"/><circle cx="84.6" cy="464.3" r="0.75"/><circle cx="91.2" cy="464.4" r="0.75"/><circle cx="97.8" cy="464.6" r="0.75"/><circle cx="104.4" cy="464.9" r="0.75"/><circle cx="111.1" cy="465.5" r="0.75"/><circle cx="117.7" cy="466.4" r="0.75"/><circle cx="124.3" cy="467.6" r="0.75"/><circle cx="130.9" cy="469" r="0.75"/><circle cx="137.5" cy="470.6" r="0.75"/><circle cx="144.1" cy="472.4" r="0.75"/><circle cx="150.7" cy="474.3" r="0.75"/><circle cx="157.3" cy="476.3" r="0.75"/><circle cx="163.9" cy="478.2" r="0.75"/><circle cx="170.6" cy="480.2" r="0.75"/><circle cx="177.2" cy="482" r="0.75"/><circle cx="183.8" cy="483.8" r="0.75"/><circle cx="190.4" cy="485.4" r="0.75"/><circle cx="197" cy="486.8" r="0.75"/><circle cx="203.6" cy="488.2" r="0.75"/><circle cx="210.2" cy="489.7" r="0.75"/><circle cx="216.8" cy="491.5" r="0.75"/><circle cx="223.4" cy="493.7" r="0.75"/><circle cx="230.1" cy="496.2" r="0.75"/><circle cx="78" cy="473.5" r="0.75"/><circle cx="84.6" cy="473.4" r="0.75"/><circle cx="91.2" cy="473.3" r="0.75"/><circle cx="97.8" cy="473.3" r="0.75"/><circle cx="104.4" cy="473.4" r="0.75"/><circle cx="111.1" cy="473.6" r="0.75"/><circle cx="117.7" cy="474" r="0.75"/><circle cx="124.3" cy="474.6" r="0.75"/><circle cx="130.9" cy="475.5" r="0.75"/><circle cx="137.5" cy="476.7" r="0.75"/><circle cx="144.1" cy="478.2" r="0.75"/><circle cx="150.7" cy="480" r="0.75"/><circle cx="157.3" cy="482.1" r="0.75"/><circle cx="163.9" cy="484.4" r="0.75"/><circle cx="170.6" cy="486.8" r="0.75"/><circle cx="177.2" cy="489.3" r="0.75"/><circle cx="183.8" cy="491.9" r="0.75"/><circle cx="190.4" cy="494.8" r="0.75"/><circle cx="197" cy="498.1" r="0.75"/><circle cx="78" cy="477.1" r="0.75"/><circle cx="84.6" cy="477" r="0.75"/><circle cx="91.2" cy="476.9" r="0.75"/><circle cx="97.8" cy="477" r="0.75"/><circle cx="104.4" cy="477.2" r="0.75"/><circle cx="111.1" cy="477.7" r="0.75"/><circle cx="117.7" cy="478.5" r="0.75"/><circle cx="124.3" cy="479.6" r="0.75"/><circle cx="130.9" cy="480.8" r="0.75"/><circle cx="137.5" cy="482.1" r="0.75"/><circle cx="144.1" cy="483.4" r="0.75"/><circle cx="150.7" cy="484.7" r="0.75"/><circle cx="157.3" cy="486.1" r="0.75"/><circle cx="163.9" cy="487.7" r="0.75"/><circle cx="170.6" cy="489.9" r="0.75"/><circle cx="177.2" cy="492.7" r="0.75"/><circle cx="183.8" cy="496.1" r="0.75"/><circle cx="78" cy="491" r="0.75"/><circle cx="84.6" cy="491" r="0.75"/><circle cx="91.2" cy="491" r="0.75"/><circle cx="97.8" cy="491.1" r="0.75"/><circle cx="104.4" cy="491.3" r="0.75"/><circle cx="111.1" cy="491.8" r="0.75"/><circle cx="117.7" cy="492.4" r="0.75"/><circle cx="124.3" cy="493.1" r="0.75"/><circle cx="130.9" cy="494" r="0.75"/><circle cx="137.5" cy="494.9" r="0.75"/></g>
<g fill="#4a3a5a"><circle cx="78" cy="128.7" r="0.7"/><circle cx="84.6" cy="128.6" r="0.7"/><circle cx="91.2" cy="128.5" r="0.7"/><circle cx="97.8" cy="128.7" r="0.7"/><circle cx="104.4" cy="129.2" r="0.7"/><circle cx="111.1" cy="130" r="0.7"/><circle cx="117.7" cy="131.1" r="0.7"/><circle cx="124.3" cy="132.3" r="0.7"/><circle cx="130.9" cy="133.6" r="0.7"/><circle cx="137.5" cy="135" r="0.7"/><circle cx="144.1" cy="136.7" r="0.7"/><circle cx="150.7" cy="138.9" r="0.7"/><circle cx="157.3" cy="141.4" r="0.7"/><circle cx="163.9" cy="143.8" r="0.7"/><circle cx="170.6" cy="146.3" r="0.7"/><circle cx="177.2" cy="148.8" r="0.7"/><circle cx="183.8" cy="151.5" r="0.7"/><circle cx="190.4" cy="154.3" r="0.7"/><circle cx="197" cy="157.3" r="0.7"/><circle cx="203.6" cy="160.4" r="0.7"/><circle cx="210.2" cy="163.6" r="0.7"/><circle cx="216.8" cy="166.9" r="0.7"/><circle cx="223.4" cy="170.1" r="0.7"/><circle cx="230.1" cy="173.2" r="0.7"/><circle cx="236.7" cy="176" r="0.7"/><circle cx="243.3" cy="178.6" r="0.7"/><circle cx="249.9" cy="181.1" r="0.7"/><circle cx="256.5" cy="183.8" r="0.7"/><circle cx="263.1" cy="186.2" r="0.7"/><circle cx="269.7" cy="188.3" r="0.7"/><circle cx="276.3" cy="189.7" r="0.7"/><circle cx="282.9" cy="190.6" r="0.7"/><circle cx="289.6" cy="191.3" r="0.7"/><circle cx="296.2" cy="191.8" r="0.7"/><circle cx="302.8" cy="192.1" r="0.7"/><circle cx="309.4" cy="192.1" r="0.7"/><circle cx="316" cy="192" r="0.7"/><circle cx="322.6" cy="191.8" r="0.7"/><circle cx="329.2" cy="191.5" r="0.7"/><circle cx="335.8" cy="191.1" r="0.7"/><circle cx="342.4" cy="190.6" r="0.7"/></g>
<g fill="#1a1a80"><circle cx="78" cy="140.6" r="0.8"/><circle cx="84.6" cy="140.4" r="0.8"/><circle cx="91.2" cy="140" r="0.8"/><circle cx="97.8" cy="139.6" r="0.8"/><circle cx="104.4" cy="139.1" r="0.8"/><circle cx="111.1" cy="138.3" r="0.8"/><circle cx="117.7" cy="137.6" r="0.8"/><circle cx="124.3" cy="137" r="0.8"/><circle cx="130.9" cy="136.8" r="0.8"/><circle cx="137.5" cy="136.9" r="0.8"/><circle cx="144.1" cy="137.6" r="0.8"/><circle cx="150.7" cy="139.1" r="0.8"/><circle cx="157.3" cy="141.5" r="0.8"/><circle cx="163.9" cy="144" r="0.8"/><circle cx="170.6" cy="146.3" r="0.8"/><circle cx="177.2" cy="148.8" r="0.8"/><circle cx="183.8" cy="151.4" r="0.8"/><circle cx="190.4" cy="154.3" r="0.8"/><circle cx="197" cy="157.3" r="0.8"/><circle cx="203.6" cy="160.4" r="0.8"/><circle cx="210.2" cy="163.6" r="0.8"/><circle cx="216.8" cy="166.9" r="0.8"/><circle cx="223.4" cy="170.1" r="0.8"/><circle cx="230.1" cy="173.2" r="0.8"/><circle cx="236.7" cy="176" r="0.8"/><circle cx="243.3" cy="178.6" r="0.8"/><circle cx="249.9" cy="181.1" r="0.8"/><circle cx="256.5" cy="183.8" r="0.8"/><circle cx="263.1" cy="186.2" r="0.8"/><circle cx="269.7" cy="188.3" r="0.8"/><circle cx="276.3" cy="189.7" r="0.8"/><circle cx="282.9" cy="190.6" r="0.8"/><circle cx="289.6" cy="191.3" r="0.8"/><circle cx="296.2" cy="191.8" r="0.8"/><circle cx="302.8" cy="192.1" r="0.8"/><circle cx="309.4" cy="192.1" r="0.8"/><circle cx="316" cy="192" r="0.8"/><circle cx="322.6" cy="191.8" r="0.8"/><circle cx="329.2" cy="191.5" r="0.8"/><circle cx="335.8" cy="191.1" r="0.8"/><circle cx="342.4" cy="190.6" r="0.8"/></g>
<g fill="#2a6a2a"><circle cx="78" cy="247.5" r="0.8"/><circle cx="84.6" cy="247.5" r="0.8"/><circle cx="91.2" cy="247" r="0.8"/><circle cx="97.8" cy="246" r="0.8"/><circle cx="104.4" cy="244.3" r="0.8"/><circle cx="111.1" cy="242.3" r="0.8"/><circle cx="117.7" cy="240.4" r="0.8"/><circle cx="124.3" cy="239" r="0.8"/><circle cx="130.9" cy="237.7" r="0.8"/><circle cx="137.5" cy="236.5" r="0.8"/><circle cx="144.1" cy="235.3" r="0.8"/><circle cx="150.7" cy="234.3" r="0.8"/><circle cx="157.3" cy="233.4" r="0.8"/><circle cx="163.9" cy="232.9" r="0.8"/><circle cx="170.6" cy="232.6" r="0.8"/><circle cx="177.2" cy="232.6" r="0.8"/><circle cx="183.8" cy="232.7" r="0.8"/><circle cx="190.4" cy="233" r="0.8"/><circle cx="197" cy="233.5" r="0.8"/><circle cx="203.6" cy="234" r="0.8"/><circle cx="210.2" cy="234.6" r="0.8"/><circle cx="216.8" cy="235" r="0.8"/><circle cx="223.4" cy="235.1" r="0.8"/><circle cx="223.4" cy="242.5" r="0.8"/><circle cx="230.1" cy="240.1" r="0.8"/><circle cx="236.7" cy="240.3" r="0.8"/><circle cx="243.3" cy="241.2" r="0.8"/><circle cx="249.9" cy="242" r="0.8"/><circle cx="256.5" cy="242.8" r="0.8"/><circle cx="263.1" cy="243.7" r="0.8"/><circle cx="269.7" cy="245" r="0.8"/><circle cx="276.3" cy="246.5" r="0.8"/><circle cx="282.9" cy="247.8" r="0.8"/><circle cx="289.6" cy="248.7" r="0.8"/><circle cx="296.2" cy="249.3" r="0.8"/><circle cx="302.8" cy="249.7" r="0.8"/><circle cx="309.4" cy="250" r="0.8"/><circle cx="316" cy="250.3" r="0.8"/><circle cx="322.6" cy="250.4" r="0.8"/><circle cx="329.2" cy="250.6" r="0.8"/><circle cx="335.8" cy="250.7" r="0.8"/><circle cx="342.4" cy="250.8" r="0.8"/><circle cx="78" cy="247.5" r="0.8"/><circle cx="84.6" cy="248" r="0.8"/><circle cx="91.2" cy="248.6" r="0.8"/><circle cx="97.8" cy="249.2" r="0.8"/><circle cx="104.4" cy="250.2" r="0.8"/><circle cx="111.1" cy="251.9" r="0.8"/><circle cx="117.7" cy="254.9" r="0.8"/><circle cx="124.3" cy="258.1" r="0.8"/><circle cx="130.9" cy="260.8" r="0.8"/><circle cx="137.5" cy="263.3" r="0.8"/><circle cx="144.1" cy="265.9" r="0.8"/><circle cx="150.7" cy="268.4" r="0.8"/><circle cx="157.3" cy="270.8" r="0.8"/><circle cx="163.9" cy="273.9" r="0.8"/><circle cx="170.6" cy="278.1" r="0.8"/><circle cx="177.2" cy="282.2" r="0.8"/><circle cx="183.8" cy="285.5" r="0.8"/><circle cx="190.4" cy="288.3" r="0.8"/><circle cx="197" cy="291" r="0.8"/><circle cx="203.6" cy="293.6" r="0.8"/><circle cx="210.2" cy="296.1" r="0.8"/><circle cx="216.8" cy="298.5" r="0.8"/><circle cx="223.4" cy="300.7" r="0.8"/><circle cx="230.1" cy="302.7" r="0.8"/><circle cx="236.7" cy="304.7" r="0.8"/><circle cx="243.3" cy="306.6" r="0.8"/><circle cx="249.9" cy="308.4" r="0.8"/><circle cx="256.5" cy="310.1" r="0.8"/><circle cx="263.1" cy="311.6" r="0.8"/><circle cx="269.7" cy="313" r="0.8"/><circle cx="276.3" cy="314.2" r="0.8"/><circle cx="282.9" cy="315.3" r="0.8"/><circle cx="289.6" cy="316.3" r="0.8"/><circle cx="296.2" cy="317.1" r="0.8"/><circle cx="302.8" cy="317.9" r="0.8"/><circle cx="309.4" cy="318.4" r="0.8"/><circle cx="316" cy="318.8" r="0.8"/><circle cx="322.6" cy="319" r="0.8"/><circle cx="329.2" cy="319.1" r="0.8"/><circle cx="335.8" cy="319.1" r="0.8"/><circle cx="342.4" cy="319.1" r="0.8"/></g>
<g fill="#1a1a80"><circle cx="78" cy="267.2" r="0.9"/><circle cx="84.6" cy="267.3" r="0.9"/><circle cx="91.2" cy="267.4" r="0.9"/><circle cx="97.8" cy="267.4" r="0.9"/><circle cx="104.4" cy="267.5" r="0.9"/><circle cx="111.1" cy="267.6" r="0.9"/><circle cx="117.7" cy="267.7" r="0.9"/><circle cx="124.3" cy="267.7" r="0.9"/><circle cx="130.9" cy="267.8" r="0.9"/><circle cx="137.5" cy="267.9" r="0.9"/><circle cx="144.1" cy="268" r="0.9"/><circle cx="150.7" cy="268.1" r="0.9"/><circle cx="157.3" cy="268.3" r="0.9"/><circle cx="163.9" cy="268.4" r="0.9"/><circle cx="170.6" cy="268.5" r="0.9"/><circle cx="177.2" cy="268.6" r="0.9"/><circle cx="183.8" cy="268.7" r="0.9"/><circle cx="190.4" cy="268.9" r="0.9"/><circle cx="197" cy="269" r="0.9"/><circle cx="203.6" cy="269.1" r="0.9"/><circle cx="210.2" cy="269.2" r="0.9"/><circle cx="216.8" cy="269.3" r="0.9"/><circle cx="223.4" cy="269.3" r="0.9"/><circle cx="230.1" cy="269.4" r="0.9"/><circle cx="236.7" cy="269.5" r="0.9"/><circle cx="243.3" cy="269.5" r="0.9"/><circle cx="249.9" cy="269.6" r="0.9"/><circle cx="256.5" cy="269.7" r="0.9"/><circle cx="263.1" cy="269.7" r="0.9"/><circle cx="269.7" cy="269.7" r="0.9"/><circle cx="276.3" cy="269.8" r="0.9"/><circle cx="282.9" cy="269.8" r="0.9"/><circle cx="289.6" cy="269.9" r="0.9"/><circle cx="296.2" cy="269.9" r="0.9"/><circle cx="302.8" cy="270" r="0.9"/><circle cx="309.4" cy="270" r="0.9"/><circle cx="316" cy="270.1" r="0.9"/><circle cx="322.6" cy="270.1" r="0.9"/><circle cx="329.2" cy="270.2" r="0.9"/><circle cx="335.8" cy="270.2" r="0.9"/><circle cx="342.4" cy="270.2" r="0.9"/><circle cx="78" cy="298" r="0.9"/><circle cx="84.6" cy="297.7" r="0.9"/><circle cx="91.2" cy="297.3" r="0.9"/><circle cx="97.8" cy="296.7" r="0.9"/><circle cx="104.4" cy="295.9" r="0.9"/><circle cx="111.1" cy="294.7" r="0.9"/><circle cx="117.7" cy="293.3" r="0.9"/><circle cx="124.3" cy="291.8" r="0.9"/><circle cx="130.9" cy="290.2" r="0.9"/><circle cx="137.5" cy="288" r="0.9"/><circle cx="144.1" cy="285.1" r="0.9"/><circle cx="150.7" cy="282.3" r="0.9"/><circle cx="157.3" cy="279.2" r="0.9"/><circle cx="163.9" cy="275.7" r="0.9"/><circle cx="170.6" cy="271.9" r="0.9"/><circle cx="177.2" cy="267.9" r="0.9"/><circle cx="183.8" cy="263.8" r="0.9"/><circle cx="190.4" cy="259.9" r="0.9"/><circle cx="197" cy="256.2" r="0.9"/><circle cx="203.6" cy="252.4" r="0.9"/><circle cx="210.2" cy="248.3" r="0.9"/><circle cx="216.8" cy="243.9" r="0.9"/><circle cx="223.4" cy="239.2" r="0.9"/><circle cx="230.1" cy="234.7" r="0.9"/><circle cx="236.7" cy="231" r="0.9"/><circle cx="243.3" cy="227.9" r="0.9"/><circle cx="249.9" cy="225" r="0.9"/><circle cx="256.5" cy="222.2" r="0.9"/><circle cx="263.1" cy="219.5" r="0.9"/><circle cx="269.7" cy="217" r="0.9"/><circle cx="276.3" cy="215.1" r="0.9"/><circle cx="282.9" cy="213.8" r="0.9"/><circle cx="289.6" cy="213.1" r="0.9"/><circle cx="296.2" cy="212.8" r="0.9"/><circle cx="302.8" cy="212.9" r="0.9"/><circle cx="309.4" cy="213.1" r="0.9"/><circle cx="316" cy="213.3" r="0.9"/><circle cx="322.6" cy="213.5" r="0.9"/><circle cx="329.2" cy="213.7" r="0.9"/><circle cx="335.8" cy="213.9" r="0.9"/><circle cx="342.4" cy="214.1" r="0.9"/></g>
<g fill="#2a4a2a"><circle cx="78" cy="302" r="0.8"/><circle cx="84.6" cy="302.2" r="0.8"/><circle cx="91.2" cy="302.2" r="0.8"/><circle cx="97.8" cy="302" r="0.8"/><circle cx="104.4" cy="301.2" r="0.8"/><circle cx="111.1" cy="299.9" r="0.8"/><circle cx="117.7" cy="298.4" r="0.8"/><circle cx="124.3" cy="297.1" r="0.8"/><circle cx="130.9" cy="296.5" r="0.8"/><circle cx="137.5" cy="296.5" r="0.8"/><circle cx="144.1" cy="297.2" r="0.8"/><circle cx="150.7" cy="298.7" r="0.8"/><circle cx="157.3" cy="300.8" r="0.8"/><circle cx="163.9" cy="302.9" r="0.8"/><circle cx="170.6" cy="304.7" r="0.8"/><circle cx="177.2" cy="306.4" r="0.8"/><circle cx="183.8" cy="308.1" r="0.8"/><circle cx="190.4" cy="310.3" r="0.8"/><circle cx="197" cy="312.7" r="0.8"/><circle cx="203.6" cy="315.3" r="0.8"/><circle cx="210.2" cy="317.8" r="0.8"/><circle cx="216.8" cy="320.4" r="0.8"/><circle cx="223.4" cy="323" r="0.8"/><circle cx="230.1" cy="325.5" r="0.8"/><circle cx="236.7" cy="328.2" r="0.8"/><circle cx="243.3" cy="330.8" r="0.8"/><circle cx="249.9" cy="333.6" r="0.8"/><circle cx="256.5" cy="336.4" r="0.8"/><circle cx="263.1" cy="339.3" r="0.8"/><circle cx="269.7" cy="342.3" r="0.8"/><circle cx="276.3" cy="345.4" r="0.8"/><circle cx="282.9" cy="348.3" r="0.8"/><circle cx="289.6" cy="351.1" r="0.8"/><circle cx="296.2" cy="353.7" r="0.8"/><circle cx="302.8" cy="356.1" r="0.8"/><circle cx="309.4" cy="358.4" r="0.8"/><circle cx="316" cy="360.2" r="0.8"/><circle cx="322.6" cy="361.7" r="0.8"/><circle cx="329.2" cy="362.7" r="0.8"/><circle cx="335.8" cy="363.2" r="0.8"/><circle cx="342.4" cy="363.6" r="0.8"/></g>
<g fill="#4a3a2a"><circle cx="78" cy="276.4" r="0.9"/><circle cx="84.6" cy="276.3" r="0.9"/><circle cx="91.2" cy="276.5" r="0.9"/><circle cx="97.8" cy="277.1" r="0.9"/><circle cx="104.4" cy="278.3" r="0.9"/><circle cx="111.1" cy="280" r="0.9"/><circle cx="117.7" cy="281.9" r="0.9"/><circle cx="124.3" cy="283.6" r="0.9"/><circle cx="130.9" cy="285.2" r="0.9"/><circle cx="137.5" cy="287.9" r="0.9"/><circle cx="144.1" cy="286.5" r="0.9"/><circle cx="150.7" cy="282.7" r="0.9"/><circle cx="157.3" cy="279.2" r="0.9"/><circle cx="163.9" cy="276.1" r="0.9"/></g>
<g fill="#3a5a3a"><circle cx="78" cy="320.1" r="0.7"/><circle cx="84.6" cy="320.1" r="0.7"/><circle cx="91.2" cy="320" r="0.7"/><circle cx="97.8" cy="319.9" r="0.7"/><circle cx="104.4" cy="319.8" r="0.7"/><circle cx="111.1" cy="319.6" r="0.7"/><circle cx="117.7" cy="319.3" r="0.7"/><circle cx="124.3" cy="318.8" r="0.7"/><circle cx="130.9" cy="318.2" r="0.7"/><circle cx="137.5" cy="317.5" r="0.7"/><circle cx="144.1" cy="316.7" r="0.7"/><circle cx="150.7" cy="316" r="0.7"/><circle cx="157.3" cy="315.4" r="0.7"/><circle cx="163.9" cy="314.8" r="0.7"/><circle cx="170.6" cy="314.3" r="0.7"/><circle cx="177.2" cy="313.9" r="0.7"/><circle cx="183.8" cy="313.8" r="0.7"/><circle cx="190.4" cy="313.9" r="0.7"/><circle cx="197" cy="314.2" r="0.7"/><circle cx="203.6" cy="314.7" r="0.7"/><circle cx="210.2" cy="315.3" r="0.7"/><circle cx="216.8" cy="316" r="0.7"/><circle cx="223.4" cy="316.8" r="0.7"/><circle cx="230.1" cy="317.7" r="0.7"/><circle cx="236.7" cy="318.6" r="0.7"/><circle cx="243.3" cy="319.5" r="0.7"/><circle cx="249.9" cy="320.4" r="0.7"/><circle cx="256.5" cy="321.3" r="0.7"/><circle cx="263.1" cy="322.2" r="0.7"/><circle cx="269.7" cy="323" r="0.7"/><circle cx="276.3" cy="323.8" r="0.7"/><circle cx="282.9" cy="324.5" r="0.7"/><circle cx="289.6" cy="325.1" r="0.7"/><circle cx="296.2" cy="325.7" r="0.7"/><circle cx="302.8" cy="326.2" r="0.7"/><circle cx="309.4" cy="326.7" r="0.7"/><circle cx="316" cy="327.2" r="0.7"/><circle cx="322.6" cy="327.6" r="0.7"/><circle cx="329.2" cy="328" r="0.7"/><circle cx="335.8" cy="328.4" r="0.7"/><circle cx="342.4" cy="328.8" r="0.7"/><circle cx="78" cy="322.2" r="0.7"/><circle cx="84.6" cy="322.2" r="0.7"/><circle cx="91.2" cy="322.2" r="0.7"/><circle cx="97.8" cy="322.2" r="0.7"/><circle cx="104.4" cy="322.2" r="0.7"/><circle cx="111.1" cy="322.3" r="0.7"/><circle cx="117.7" cy="322.4" r="0.7"/><circle cx="124.3" cy="322.5" r="0.7"/><circle cx="130.9" cy="322.7" r="0.7"/><circle cx="137.5" cy="323" r="0.7"/><circle cx="144.1" cy="323.6" r="0.7"/><circle cx="150.7" cy="324.5" r="0.7"/><circle cx="157.3" cy="325.5" r="0.7"/><circle cx="163.9" cy="326.6" r="0.7"/><circle cx="170.6" cy="327.7" r="0.7"/><circle cx="177.2" cy="328.7" r="0.7"/><circle cx="183.8" cy="329.7" r="0.7"/><circle cx="190.4" cy="330.5" r="0.7"/><circle cx="197" cy="331.3" r="0.7"/><circle cx="203.6" cy="331.9" r="0.7"/><circle cx="210.2" cy="332.3" r="0.7"/><circle cx="216.8" cy="332.7" r="0.7"/><circle cx="223.4" cy="332.9" r="0.7"/><circle cx="230.1" cy="333.1" r="0.7"/><circle cx="236.7" cy="333.2" r="0.7"/><circle cx="243.3" cy="333.4" r="0.7"/><circle cx="249.9" cy="333.6" r="0.7"/><circle cx="256.5" cy="333.8" r="0.7"/><circle cx="263.1" cy="334.1" r="0.7"/><circle cx="269.7" cy="334.3" r="0.7"/><circle cx="276.3" cy="334.6" r="0.7"/><circle cx="282.9" cy="334.8" r="0.7"/><circle cx="289.6" cy="335" r="0.7"/><circle cx="296.2" cy="335.2" r="0.7"/><circle cx="302.8" cy="335.4" r="0.7"/><circle cx="309.4" cy="335.6" r="0.7"/><circle cx="316" cy="335.7" r="0.7"/><circle cx="322.6" cy="335.8" r="0.7"/><circle cx="329.2" cy="335.9" r="0.7"/><circle cx="335.8" cy="336" r="0.7"/><circle cx="342.4" cy="336.1" r="0.7"/></g>
<g fill="#7a1020"><circle cx="78" cy="373.4" r="0.9"/><circle cx="84.6" cy="373.4" r="0.9"/><circle cx="91.2" cy="373.4" r="0.9"/><circle cx="97.8" cy="373.4" r="0.9"/><circle cx="104.4" cy="373.4" r="0.9"/><circle cx="111.1" cy="373.3" r="0.9"/><circle cx="117.7" cy="373.3" r="0.9"/><circle cx="124.3" cy="373.4" r="0.9"/><circle cx="130.9" cy="373.7" r="0.9"/><circle cx="137.5" cy="374.3" r="0.9"/><circle cx="144.1" cy="375.1" r="0.9"/><circle cx="150.7" cy="376" r="0.9"/><circle cx="157.3" cy="376.8" r="0.9"/><circle cx="163.9" cy="377.3" r="0.9"/><circle cx="170.6" cy="377.8" r="0.9"/><circle cx="177.2" cy="378.3" r="0.9"/><circle cx="183.8" cy="378.8" r="0.9"/><circle cx="190.4" cy="379.3" r="0.9"/><circle cx="197" cy="379.9" r="0.9"/><circle cx="203.6" cy="380.4" r="0.9"/><circle cx="210.2" cy="381" r="0.9"/><circle cx="216.8" cy="381.5" r="0.9"/><circle cx="223.4" cy="381.9" r="0.9"/><circle cx="230.1" cy="382.4" r="0.9"/><circle cx="236.7" cy="382.8" r="0.9"/><circle cx="243.3" cy="383.2" r="0.9"/><circle cx="249.9" cy="383.6" r="0.9"/><circle cx="256.5" cy="384" r="0.9"/><circle cx="263.1" cy="384.3" r="0.9"/><circle cx="269.7" cy="384.7" r="0.9"/><circle cx="276.3" cy="385" r="0.9"/><circle cx="282.9" cy="385.4" r="0.9"/><circle cx="289.6" cy="385.7" r="0.9"/><circle cx="296.2" cy="386" r="0.9"/><circle cx="302.8" cy="386.4" r="0.9"/><circle cx="309.4" cy="386.7" r="0.9"/><circle cx="316" cy="387" r="0.9"/><circle cx="322.6" cy="387.3" r="0.9"/><circle cx="329.2" cy="387.6" r="0.9"/><circle cx="335.8" cy="387.9" r="0.9"/><circle cx="342.4" cy="388.2" r="0.9"/><circle cx="78" cy="377.1" r="0.9"/><circle cx="84.6" cy="377.1" r="0.9"/><circle cx="91.2" cy="377.1" r="0.9"/><circle cx="97.8" cy="377.1" r="0.9"/><circle cx="104.4" cy="377.1" r="0.9"/><circle cx="111.1" cy="377.2" r="0.9"/><circle cx="117.7" cy="377.2" r="0.9"/><circle cx="124.3" cy="377.2" r="0.9"/><circle cx="130.9" cy="377.2" r="0.9"/><circle cx="137.5" cy="377" r="0.9"/><circle cx="144.1" cy="376.8" r="0.9"/><circle cx="150.7" cy="376.7" r="0.9"/><circle cx="157.3" cy="376.8" r="0.9"/><circle cx="163.9" cy="377.1" r="0.9"/><circle cx="170.6" cy="377.7" r="0.9"/><circle cx="177.2" cy="378.3" r="0.9"/><circle cx="183.8" cy="378.8" r="0.9"/><circle cx="190.4" cy="379.4" r="0.9"/><circle cx="197" cy="379.9" r="0.9"/><circle cx="203.6" cy="380.4" r="0.9"/><circle cx="210.2" cy="380.9" r="0.9"/><circle cx="216.8" cy="381.4" r="0.9"/><circle cx="223.4" cy="381.9" r="0.9"/><circle cx="230.1" cy="382.4" r="0.9"/><circle cx="236.7" cy="382.8" r="0.9"/><circle cx="243.3" cy="383.2" r="0.9"/><circle cx="249.9" cy="383.6" r="0.9"/><circle cx="256.5" cy="384" r="0.9"/><circle cx="263.1" cy="384.4" r="0.9"/><circle cx="269.7" cy="384.7" r="0.9"/><circle cx="276.3" cy="385" r="0.9"/><circle cx="282.9" cy="385.4" r="0.9"/><circle cx="289.6" cy="385.7" r="0.9"/><circle cx="296.2" cy="386" r="0.9"/><circle cx="302.8" cy="386.3" r="0.9"/><circle cx="309.4" cy="386.7" r="0.9"/><circle cx="316" cy="387" r="0.9"/><circle cx="322.6" cy="387.3" r="0.9"/><circle cx="329.2" cy="387.6" r="0.9"/><circle cx="335.8" cy="387.9" r="0.9"/><circle cx="342.4" cy="388.2" r="0.9"/></g>
<g fill="#8a4a3a"><circle cx="78" cy="448" r="0.9"/><circle cx="84.6" cy="447.9" r="0.9"/><circle cx="91.2" cy="447.8" r="0.9"/><circle cx="97.8" cy="447.8" r="0.9"/><circle cx="104.4" cy="447.6" r="0.9"/><circle cx="111.1" cy="447.5" r="0.9"/><circle cx="117.7" cy="447.4" r="0.9"/><circle cx="124.3" cy="447.2" r="0.9"/><circle cx="130.9" cy="447" r="0.9"/><circle cx="137.5" cy="446.7" r="0.9"/><circle cx="144.1" cy="446.4" r="0.9"/><circle cx="150.7" cy="446.1" r="0.9"/><circle cx="157.3" cy="445.7" r="0.9"/><circle cx="163.9" cy="445.3" r="0.9"/><circle cx="170.6" cy="444.8" r="0.9"/><circle cx="177.2" cy="444.4" r="0.9"/><circle cx="183.8" cy="444" r="0.9"/><circle cx="190.4" cy="443.6" r="0.9"/><circle cx="197" cy="443.2" r="0.9"/><circle cx="203.6" cy="442.8" r="0.9"/><circle cx="210.2" cy="442.4" r="0.9"/><circle cx="216.8" cy="442" r="0.9"/><circle cx="223.4" cy="441.6" r="0.9"/><circle cx="230.1" cy="441.2" r="0.9"/><circle cx="236.7" cy="440.7" r="0.9"/><circle cx="243.3" cy="440.3" r="0.9"/><circle cx="249.9" cy="439.9" r="0.9"/><circle cx="256.5" cy="439.5" r="0.9"/><circle cx="263.1" cy="439.1" r="0.9"/><circle cx="269.7" cy="438.8" r="0.9"/><circle cx="276.3" cy="438.4" r="0.9"/><circle cx="282.9" cy="438.2" r="0.9"/><circle cx="289.6" cy="437.9" r="0.9"/><circle cx="296.2" cy="437.7" r="0.9"/><circle cx="302.8" cy="437.5" r="0.9"/><circle cx="309.4" cy="437.3" r="0.9"/><circle cx="316" cy="437.2" r="0.9"/><circle cx="322.6" cy="437" r="0.9"/><circle cx="329.2" cy="436.9" r="0.9"/><circle cx="335.8" cy="436.8" r="0.9"/><circle cx="342.4" cy="436.7" r="0.9"/></g>
</g>
<rect x="78" y="48.4" width="264.45" height="444" fill="none" stroke="#1a1a1a" stroke-width="1.5"/>
<path d="M75.5 492.4H78M342.4 492.4H344.4M73.5 478.1H78M342.4 478.1H345.9M75.5 463.8H78M342.4 463.8H344.4M75.5 449.4H78M342.4 449.4H344.4M75.5 435.1H78M342.4 435.1H344.4M73.5 420.8H78M342.4 420.8H345.9M75.5 406.5H78M342.4 406.5H344.4M75.5 392.1H78M342.4 392.1H344.4M75.5 377.8H78M342.4 377.8H344.4M73.5 363.5H78M342.4 363.5H345.9M75.5 349.2H78M342.4 349.2H344.4M75.5 334.8H78M342.4 334.8H344.4M75.5 320.5H78M342.4 320.5H344.4M73.5 306.2H78M342.4 306.2H345.9M75.5 291.9H78M342.4 291.9H344.4M75.5 277.6H78M342.4 277.6H344.4M75.5 263.2H78M342.4 263.2H344.4M73.5 248.9H78M342.4 248.9H345.9M75.5 234.6H78M342.4 234.6H344.4M75.5 220.3H78M342.4 220.3H344.4M75.5 205.9H78M342.4 205.9H344.4M73.5 191.6H78M342.4 191.6H345.9M75.5 177.3H78M342.4 177.3H344.4M75.5 163H78M342.4 163H344.4M75.5 148.6H78M342.4 148.6H344.4M73.5 134.3H78M342.4 134.3H345.9M75.5 120H78M342.4 120H344.4M75.5 105.7H78M342.4 105.7H344.4M75.5 91.4H78M342.4 91.4H344.4M73.5 77H78M342.4 77H345.9M75.5 62.7H78M342.4 62.7H344.4M75.5 48.4H78M342.4 48.4H344.4" stroke="#1a1a1a" stroke-width="1.3"/>
<g font-family="Liberation Serif" font-size="25.5" text-anchor="end" fill="#111"><text x="70.6" y="485.9">-1.2</text><text x="70.6" y="428.6">-0.8</text><text x="70.6" y="371.3">-0.4</text><text x="70.6" y="314">0</text><text x="70.6" y="256.7">0.4</text><text x="70.6" y="199.4">0.8</text><text x="70.6" y="142.1">1.2</text><text x="70.6" y="84.8">1.6</text></g>
<clipPath id="cb"><rect x="437.6" y="48.4" width="264.45" height="444.0"/></clipPath>
<g clip-path="url(#cb)">
<line x1="437.6" y1="306.2" x2="702" y2="306.2" stroke="#a8a8a8" stroke-width="1.3" stroke-dasharray="3.5,3"/>
<path fill="none" stroke="#404040" stroke-width="0.75" d="M437.6 53.8 439.6 53.8 441.6 53.7 443.6 53.6 445.6 53.5 447.6 53.4 449.6 53.3 451.6 53.2 453.6 53.1 455.6 53 457.6 52.9 459.6 52.8 461.6 52.6 463.6 52.4 465.6 52.1 467.7 51.8 469.7 51.4 471.7 50.9 473.7 50.4 475.7 49.8 477.7 49.2 479.7 48.6 481.7 47.9 483.7 47.3 485.7 46.6 487.7 45.9 489.7 45.3 491.7 44.7 493.7 44.1 495.7 43.5 497.7 42.9 499.7 42.3 501.7 41.8 503.7 41.2 505.7 40.7 507.7 40.2 509.7 39.7 511.7 39.2 513.7 38.8 515.7 38.3 517.7 37.9 519.7 37.5 521.7 37.1 523.7 36.7 525.8 36.4 527.8 36 529.8 35.7 531.8 35.4 533.8 35.2 535.8 34.9 537.8 34.7 539.8 34.4 541.8 34.3 543.8 34.1 545.8 33.9 547.8 33.8 549.8 33.7 551.8 33.6 553.8 33.5 555.8 33.5 557.8 33.5 559.8 33.4 561.8 33.5 563.8 33.5 565.8 33.6 567.8 33.7 569.8 33.8 571.8 33.9 573.8 34.1 575.8 34.3 577.8 34.6 579.8 35 581.8 35.3 583.8 35.8 585.9 36.3 587.9 36.9 589.9 37.6 591.9 38.3 593.9 39.1 595.9 40.1 597.9 41 599.9 42.1 601.9 43.2 603.9 44.3 605.9 45.3 607.9 46.3 609.9 47.3 611.9 48.2 613.9 49 615.9 49.6 617.9 50.1 619.9 50.5 621.9 50.8 623.9 51 625.9 51.2 627.9 51.3 629.9 51.4 631.9 51.5 633.9 51.6 635.9 51.6 637.9 51.8 639.9 52 641.9 52.2 644 52.5 646 52.9 648 53.3 650 53.7 652 54.2 654 54.7 656 55.1 658 55.6 660 56.1 662 56.6 664 57 666 57.4 668 57.8 670 58.2 672 58.6 674 58.9 676 59.2 678 59.5 680 59.7 682 60 684 60.1 686 60.3 688 60.4 690 60.5 692 60.6 694 60.6 696 60.7 698 60.7 700 60.7 702 60.7M437.6 58 439.6 58 441.6 58 443.6 58 445.6 58 447.6 58 449.6 58 451.6 57.9 453.6 57.9 455.6 57.9 457.6 57.9 459.6 57.9 461.6 57.8 463.6 57.8 465.6 57.8 467.7 57.7 469.7 57.7 471.7 57.6 473.7 57.6 475.7 57.5 477.7 57.4 479.7 57.3 481.7 57.2 483.7 57.1 485.7 57 487.7 56.9 489.7 56.8 491.7 56.6 493.7 56.5 495.7 56.3 497.7 56.2 499.7 56 501.7 55.8 503.7 55.7 505.7 55.5 507.7 55.3 509.7 55.2 511.7 55 513.7 54.9 515.7 54.8 517.7 54.6 519.7 54.5 521.7 54.4 523.7 54.3 525.8 54.2 527.8 54 529.8 53.9 531.8 53.8 533.8 53.6 535.8 53.5 537.8 53.3 539.8 53.1 541.8 52.9 543.8 52.7 545.8 52.4 547.8 52.1 549.8 51.8 551.8 51.5 553.8 51.1 555.8 50.7 557.8 50.3 559.8 49.9 561.8 49.4 563.8 49 565.8 48.6 567.8 48.2 569.8 47.8 571.8 47.5 573.8 47.2 575.8 46.9 577.8 46.6 579.8 46.4 581.8 46.2 583.8 46.1 585.9 46 587.9 45.9 589.9 45.9 591.9 46 593.9 46.1 595.9 46.3 597.9 46.6 599.9 47 601.9 47.5 603.9 48 605.9 48.6 607.9 49.2 609.9 49.8 611.9 50.3 613.9 50.9 615.9 51.4 617.9 51.8 619.9 52.2 621.9 52.5 623.9 52.8 625.9 53 627.9 53.3 629.9 53.5 631.9 53.7 633.9 53.9 635.9 54.1 637.9 54.3 639.9 54.5 641.9 54.8 644 55.1 646 55.4 648 55.8 650 56.1 652 56.5 654 56.8 656 57.2 658 57.5 660 57.9 662 58.2 664 58.5 666 58.8 668 59.1 670 59.3 672 59.5 674 59.7 676 59.9 678 60 680 60.1 682 60.2 684 60.3 686 60.4 688 60.4 690 60.5 692 60.5 694 60.6 696 60.6 698 60.6 700 60.7 702 60.7M629.6 41.1 629.9 41.2 631.9 41.9 633.9 42.5 635.9 43.1 637.9 43.7 639.9 44.3 641.9 44.9 644 45.4 646 45.9 648 46.4 650 46.8 652 47.2 654 47.5 656 47.8 658 48.1 660 48.4 662 48.6 664 48.9 666 49.1 668 49.3 670 49.4 672 49.6 674 49.8 676 49.9 678 50 680 50.2 682 50.3 684 50.4 686 50.5 688 50.6 690 50.7 692 50.7 694 50.8 696 50.9 698 51 700 51 702 51.1M639.6 41.2 639.9 41.3 641.9 42 644 42.7 646 43.4 648 44.1 650 44.7 652 45.4 654 46 656 46.6 658 47.2 660 47.7 662 48.2 664 48.7 666 49.2 668 49.6 670 50 672 50.4 674 50.8 676 51.1 678 51.4 680 51.7 682 51.9 684 52.2 686 52.4 688 52.6 690 52.8 692 53 694 53.1 696 53.3 698 53.4 700 53.6 702 53.7M437.6 71.7 439.6 71.8 441.6 71.9 443.6 72 445.6 72 447.6 72.1 449.6 72.2 451.6 72.2 453.6 72.2 455.6 72.2 457.6 72.2 459.6 72.2 461.6 72.1 463.6 72 465.6 71.9 467.7 71.8 469.7 71.6 471.7 71.4 473.7 71.2 475.7 70.9 477.7 70.6 479.7 70.3 481.7 70 483.7 69.6 485.7 69.3 487.7 68.9 489.7 68.5 491.7 68.1 493.7 67.7 495.7 67.3 497.7 66.9 499.7 66.5 501.7 66.1 503.7 65.7 505.7 65.2 507.7 64.8 509.7 64.3 511.7 63.8 513.7 63.3 515.7 62.8 517.7 62.2 519.7 61.6 521.7 61 523.7 60.4 525.8 59.8 527.8 59.1 529.8 58.5 531.8 57.9 533.8 57.2 535.8 56.6 537.8 56.1 539.8 55.5 541.8 54.9 543.8 54.4 545.8 54 547.8 53.5 549.8 53.1 551.8 52.8 553.8 52.4 555.8 52.1 557.8 51.9 559.8 51.6 561.8 51.4 563.8 51.2 565.8 51 567.8 50.8 569.8 50.6 571.8 50.5 573.8 50.3 575.8 50.2 577.8 50.1 579.8 50 581.8 49.9 583.8 49.8 585.9 49.8 587.9 49.8 589.9 49.9 591.9 50 593.9 50.1 595.9 50.3 597.9 50.5 599.9 50.8 601.9 51.2 603.9 51.6 605.9 52 607.9 52.5 609.9 53.1 611.9 53.6 613.9 54.2 615.9 54.7 617.9 55.2 619.9 55.6 621.9 56.1 623.9 56.5 625.9 56.9 627.9 57.2 629.9 57.6 631.9 57.9 633.9 58.2 635.9 58.6 637.9 58.9 639.9 59.2 641.9 59.6 644 59.9 646 60.2 648 60.6 650 61 652 61.4 654 61.8 656 62.2 658 62.7 660 63.2 662 63.7 664 64.2 666 64.7 668 65.2 670 65.7 672 66.2 674 66.7 676 67.2 678 67.6 680 68.1 682 68.5 684 68.9 686 69.3 688 69.7 690 70 692 70.3 694 70.5 696 70.7 698 70.9 700 71.1 702 71.3M437.6 85.5 439.6 85.6 441.6 85.7 443.6 85.8 445.6 85.9 447.6 86 449.6 86.1 451.6 86.2 453.6 86.2 455.6 86.2 457.6 86.2 459.6 86.2 461.6 86.1 463.6 86 465.6 85.9 467.7 85.8 469.7 85.5 471.7 85.3 473.7 85 475.7 84.7 477.7 84.3 479.7 83.9 481.7 83.4 483.7 82.9 485.7 82.4 487.7 81.9 489.7 81.4 491.7 80.8 493.7 80.3 495.7 79.7 497.7 79.2 499.7 78.6 501.7 77.9 503.7 77.3 505.7 76.7 507.7 76 509.7 75.3 511.7 74.5 513.7 73.8 515.7 73 517.7 72.1 519.7 71.2 521.7 70.3 523.7 69.4 525.8 68.5 527.8 67.5 529.8 66.5 531.8 65.6 533.8 64.6 535.8 63.6 537.8 62.7 539.8 61.8 541.8 60.9 543.8 60 545.8 59.2 547.8 58.4 549.8 57.6 551.8 56.9 553.8 56.2 555.8 55.6 557.8 55 559.8 54.4 561.8 53.9 563.8 53.5 565.8 53.1 567.8 52.7 569.8 52.4 571.8 52.2 573.8 52 575.8 51.8 577.8 51.7 579.8 51.7 581.8 51.7 583.8 51.8 585.9 51.9 587.9 52.1 589.9 52.4 591.9 52.7 593.9 53 595.9 53.4 597.9 53.9 599.9 54.5 601.9 55.1 603.9 55.7 605.9 56.5 607.9 57.3 609.9 58.1 611.9 59 613.9 59.8 615.9 60.6 617.9 61.3 619.9 62.1 621.9 62.7 623.9 63.4 625.9 64 627.9 64.6 629.9 65.2 631.9 65.7 633.9 66.3 635.9 66.9 637.9 67.4 639.9 68 641.9 68.5 644 69.1 646 69.7 648 70.3 650 70.9 652 71.6 654 72.2 656 72.8 658 73.4 660 74 662 74.6 664 75.2 666 75.7 668 76.2 670 76.6 672 77 674 77.4 676 77.7 678 78 680 78.3 682 78.5 684 78.8 686 79 688 79.2 690 79.3 692 79.5 694 79.7 696 79.8 698 79.9 700 80.1 702 80.2M437.6 90.4 439.6 90.5 441.6 90.7 443.6 90.8 445.6 91 447.6 91.1 449.6 91.2 451.6 91.3 453.6 91.3 455.6 91.3 457.6 91.2 459.6 91.1 461.6 91 463.6 90.7 465.6 90.5 467.7 90.1 469.7 89.7 471.7 89.2 473.7 88.6 475.7 87.9 477.7 87.2 479.7 86.4 481.7 85.5 483.7 84.7 485.7 83.8 487.7 83 489.7 82.2 491.7 81.5 493.7 80.8 495.7 80.2 497.7 79.6 499.7 79 501.7 78.5 503.7 77.9 505.7 77.4 507.7 76.9 509.7 76.4 511.7 75.8 513.7 75.3 515.7 74.7 517.7 74.1 519.7 73.4 521.7 72.7 523.7 72 525.8 71.3 527.8 70.5 529.8 69.8 531.8 69 533.8 68.3 535.8 67.5 537.8 66.8 539.8 66 541.8 65.3 543.8 64.7 545.8 64 547.8 63.4 549.8 62.8 551.8 62.3 553.8 61.8 555.8 61.3 557.8 60.9 559.8 60.5 561.8 60.2 563.8 59.8 565.8 59.6 567.8 59.4 569.8 59.2 571.8 59.1 573.8 59 575.8 58.9 577.8 58.9 579.8 59 581.8 59.1 583.8 59.3 585.9 59.4 587.9 59.7 589.9 60 591.9 60.3 593.9 60.7 595.9 61.2 597.9 61.7 599.9 62.2 601.9 62.8 603.9 63.4 605.9 64.1 607.9 64.7 609.9 65.4 611.9 66.1 613.9 66.7 615.9 67.4 617.9 68 619.9 68.6 621.9 69.2 623.9 69.7 625.9 70.3 627.9 70.9 629.9 71.4 631.9 71.9 633.9 72.5 635.9 73 637.9 73.6 639.9 74.2 641.9 74.8 644 75.3 646 75.9 648 76.5 650 77.1 652 77.7 654 78.3 656 78.9 658 79.4 660 80 662 80.5 664 80.9 666 81.4 668 81.8 670 82.2 672 82.5 674 82.8 676 83.1 678 83.3 680 83.6 682 83.8 684 83.9 686 84.1 688 84.2 690 84.3 692 84.4 694 84.4 696 84.5 698 84.5 700 84.6 702 84.6M437.6 105.5 439.6 105.6 441.6 105.7 443.6 105.8 445.6 105.9 447.6 105.9 449.6 105.9 451.6 105.9 453.6 105.9 455.6 105.8 457.6 105.6 459.6 105.5 461.6 105.2 463.6 104.9 465.6 104.6 467.7 104.2 469.7 103.7 471.7 103.2 473.7 102.6 475.7 102 477.7 101.3 479.7 100.6 481.7 99.9 483.7 99.2 485.7 98.4 487.7 97.6 489.7 96.8 491.7 96 493.7 95.2 495.7 94.4 497.7 93.6 499.7 92.8 501.7 92 503.7 91.1 505.7 90.3 507.7 89.4 509.7 88.5 511.7 87.6 513.7 86.7 515.7 85.8 517.7 84.8 519.7 83.9 521.7 82.9 523.7 82 525.8 81 527.8 80.1 529.8 79.1 531.8 78.2 533.8 77.4 535.8 76.5 537.8 75.7 539.8 75 541.8 74.3 543.8 73.7 545.8 73.1 547.8 72.6 549.8 72.2 551.8 71.8 553.8 71.5 555.8 71.2 557.8 71 559.8 70.8 561.8 70.6 563.8 70.4 565.8 70.3 567.8 70.2 569.8 70.2 571.8 70.1 573.8 70 575.8 70 577.8 69.9 579.8 69.9 581.8 70 583.8 70 585.9 70.1 587.9 70.2 589.9 70.4 591.9 70.7 593.9 71 595.9 71.4 597.9 71.8 599.9 72.4 601.9 73 603.9 73.7 605.9 74.4 607.9 75.1 609.9 75.9 611.9 76.7 613.9 77.4 615.9 78.2 617.9 78.9 619.9 79.6 621.9 80.2 623.9 80.9 625.9 81.5 627.9 82.1 629.9 82.7 631.9 83.2 633.9 83.8 635.9 84.4 637.9 84.9 639.9 85.5 641.9 86 644 86.6 646 87.2 648 87.7 650 88.3 652 88.8 654 89.3 656 89.8 658 90.3 660 90.8 662 91.3 664 91.7 666 92.1 668 92.5 670 92.9 672 93.2 674 93.5 676 93.8 678 94.1 680 94.3 682 94.5 684 94.7 686 94.8 688 94.9 690 95 692 95.1 694 95.2 696 95.2 698 95.3 700 95.3 702 95.4M437.6 127.4 439.6 127.4 441.6 127.3 443.6 127.3 445.6 127.3 447.6 127.2 449.6 127.2 451.6 127.2 453.6 127.3 455.6 127.3 457.6 127.4 459.6 127.5 461.6 127.7 463.6 127.9 465.6 128.1 467.7 128.4 469.7 128.7 471.7 129 473.7 129.4 475.7 129.8 477.7 130.1 479.7 130.5 481.7 131 483.7 131.4 485.7 131.8 487.7 132.2 489.7 132.6 491.7 133.1 493.7 133.6 495.7 134.1 497.7 134.6 499.7 135.1 501.7 135.7 503.7 136.3 505.7 137 507.7 137.7 509.7 138.4 511.7 139.2 513.7 140 515.7 140.8 517.7 141.6 519.7 142.4 521.7 143.2 523.7 144 525.8 144.8 527.8 145.6 529.8 146.4 531.8 147.2 533.8 148 535.8 148.8 537.8 149.6 539.8 150.4 541.8 151.2 543.8 152.1 545.8 152.9 547.8 153.8 549.8 154.7 551.8 155.6 553.8 156.4 555.8 157.3 557.8 158.2 559.8 159 561.8 159.8 563.8 160.6 565.8 161.4 567.8 162.2 569.8 163 571.8 163.7 573.8 164.5 575.8 165.2 577.8 166 579.8 166.8 581.8 167.6 583.8 168.4 585.9 169.2 587.9 170 589.9 170.9 591.9 171.8 593.9 172.7 595.9 173.6 597.9 174.5 599.9 175.4 601.9 176.3 603.9 177.2 605.9 178.1 607.9 179 609.9 179.9 611.9 180.8 613.9 181.6 615.9 182.4 617.9 183.2 619.9 184 621.9 184.7 623.9 185.4 625.9 186 627.9 186.6 629.9 187.2 631.9 187.7 633.9 188.2 635.9 188.7 637.9 189.1 639.9 189.4 641.9 189.8 644 190.1 646 190.4 648 190.6 650 190.8 652 191 654 191.1 656 191.3 658 191.4 660 191.5 662 191.6 664 191.6 666 191.7 668 191.7 670 191.7 672 191.7 674 191.7 676 191.7 678 191.7 680 191.6 682 191.6 684 191.5 686 191.5 688 191.4 690 191.4 692 191.3 694 191.2 696 191.1 698 191.1 700 191 702 190.9M437.6 140.6 439.6 140.5 441.6 140.4 443.6 140.3 445.6 140.2 447.6 140 449.6 139.9 451.6 139.8 453.6 139.7 455.6 139.5 457.6 139.4 459.6 139.2 461.6 139.1 463.6 138.9 465.6 138.7 467.7 138.5 469.7 138.4 471.7 138.2 473.7 138 475.7 137.8 477.7 137.6 479.7 137.5 481.7 137.3 483.7 137.2 485.7 137 487.7 136.9 489.7 136.9 491.7 136.9 493.7 136.9 495.7 137 497.7 137.2 499.7 137.5 501.7 137.7 503.7 138.1 505.7 138.4 507.7 138.8 509.7 139.3 511.7 139.8 513.7 140.4 515.7 141 517.7 141.7 519.7 142.5 521.7 143.2 523.7 144 525.8 144.7 527.8 145.5 529.8 146.3 531.8 147.1 533.8 147.9 535.8 148.7 537.8 149.5 539.8 150.4 541.8 151.2 543.8 152.1 545.8 153 547.8 153.8 549.8 154.7 551.8 155.6 553.8 156.4 555.8 157.3 557.8 158.2 559.8 159 561.8 159.8 563.8 160.6 565.8 161.4 567.8 162.2 569.8 163 571.8 163.7 573.8 164.5 575.8 165.2 577.8 166 579.8 166.8 581.8 167.6 583.8 168.4 585.9 169.2 587.9 170 589.9 170.9 591.9 171.8 593.9 172.7 595.9 173.6 597.9 174.5 599.9 175.4 601.9 176.3 603.9 177.2 605.9 178.1 607.9 179 609.9 179.9 611.9 180.8 613.9 181.6 615.9 182.4 617.9 183.2 619.9 184 621.9 184.7 623.9 185.4 625.9 186 627.9 186.6 629.9 187.2 631.9 187.7 633.9 188.2 635.9 188.7 637.9 189.1 639.9 189.4 641.9 189.8 644 190.1 646 190.4 648 190.6 650 190.8 652 191 654 191.1 656 191.3 658 191.4 660 191.5 662 191.6 664 191.6 666 191.7 668 191.7 670 191.7 672 191.7 674 191.7 676 191.7 678 191.7 680 191.6 682 191.6 684 191.5 686 191.5 688 191.4 690 191.4 692 191.3 694 191.2 696 191.1 698 191.1 700 191 702 190.9M437.6 154.2 439.6 154.2 441.6 154.1 443.6 154.1 445.6 154.1 447.6 154 449.6 154 451.6 154 453.6 154 455.6 154 457.6 154.1 459.6 154.1 461.6 154.2 463.6 154.2 465.6 154.3 467.7 154.4 469.7 154.6 471.7 154.7 473.7 154.8 475.7 154.9 477.7 155 479.7 155.1 481.7 155.1 483.7 155.1 485.7 155 487.7 155 489.7 154.9 491.7 154.7 493.7 154.5 495.7 154.3 497.7 154 499.7 153.7 501.7 153.4 503.7 153.1 505.7 152.7 507.7 152.3 509.7 151.9 511.7 151.5 513.7 151 515.7 150.6 517.7 150.2 519.7 149.8 521.7 149.5 523.7 149.2 525.8 148.9 527.8 148.6 529.8 148.4 531.8 148.2 533.8 148 535.8 147.8 537.8 147.7 539.8 147.5 541.8 147.4 543.8 147.2 545.8 147.1 547.8 147 549.8 146.9 551.8 146.8 553.8 146.7 555.8 146.6 557.8 146.5 559.8 146.4 561.8 146.3 563.8 146.2 565.8 146.2 567.8 146.1 569.8 146.1 571.8 146 573.8 146 575.8 146 577.8 145.9 579.8 145.9 581.8 145.9 583.8 145.9 585.9 145.9 587.9 145.9 589.9 145.9 591.9 145.9 593.9 146 595.9 146 597.9 146 599.9 146.1 601.9 146.1 603.9 146.1 605.9 146.2 607.9 146.2 609.9 146.3 611.9 146.3 613.9 146.4 615.9 146.4 617.9 146.5 619.9 146.6 621.9 146.6 623.9 146.7 625.9 146.8 627.9 146.8 629.9 146.9 631.9 147 633.9 147 635.9 147.1 637.9 147.1 639.9 147.2 641.9 147.3 644 147.3 646 147.4 648 147.5 650 147.5 652 147.6 654 147.6 656 147.7 658 147.7 660 147.8 662 147.8 664 147.9 666 147.9 668 148 670 148 672 148.1 674 148.1 676 148.2 678 148.2 680 148.3 682 148.3 684 148.4 686 148.4 688 148.5 690 148.5 692 148.6 694 148.6 696 148.7 698 148.7 700 148.7 702 148.8M437.6 161.1 439.6 161 441.6 160.9 443.6 160.8 445.6 160.7 447.6 160.5 449.6 160.4 451.6 160.3 453.6 160.1 455.6 159.9 457.6 159.8 459.6 159.6 461.6 159.3 463.6 159.1 465.6 158.8 467.7 158.5 469.7 158.2 471.7 157.9 473.7 157.7 475.7 157.4 477.7 157.2 479.7 156.9 481.7 156.8 483.7 156.6 485.7 156.6 487.7 156.5 489.7 156.6 491.7 156.6 493.7 156.7 495.7 156.8 497.7 156.9 499.7 157 501.7 157.2 503.7 157.3 505.7 157.4 507.7 157.6 509.7 157.7 511.7 157.8 513.7 158 515.7 158.1 517.7 158.2 519.7 158.4 521.7 158.5 523.7 158.6 525.8 158.7 527.8 158.9 529.8 159 531.8 159.1 533.8 159.2 535.8 159.4 537.8 159.5 539.8 159.7 541.8 159.8 543.8 159.9 545.8 160.1 547.8 160.2 549.8 160.4 551.8 160.5 553.8 160.7 555.8 160.9 557.8 161 559.8 161.2 561.8 161.3 563.8 161.4 565.8 161.6 567.8 161.7 569.8 161.8 571.8 161.9 573.8 162.1 575.8 162.2 577.8 162.3 579.8 162.4 581.8 162.4 583.8 162.5 585.9 162.6 587.9 162.7 589.9 162.7 591.9 162.8 593.9 162.9 595.9 162.9 597.9 163 599.9 163 601.9 163.1 603.9 163.1 605.9 163.1 607.9 163.2 609.9 163.2 611.9 163.2 613.9 163.3 615.9 163.3 617.9 163.3 619.9 163.4 621.9 163.4 623.9 163.4 625.9 163.5 627.9 163.5 629.9 163.5 631.9 163.5 633.9 163.6 635.9 163.6 637.9 163.6 639.9 163.7 641.9 163.7 644 163.8 646 163.8 648 163.9 650 163.9 652 164 654 164 656 164.1 658 164.1 660 164.2 662 164.2 664 164.3 666 164.4 668 164.4 670 164.5 672 164.6 674 164.6 676 164.7 678 164.8 680 164.9 682 164.9 684 165 686 165.1 688 165.2 690 165.2 692 165.3 694 165.4 696 165.5 698 165.5 700 165.6 702 165.7M437.6 184.2 439.6 184.1 441.6 184 443.6 183.9 445.6 183.8 447.6 183.7 449.6 183.6 451.6 183.5 453.6 183.4 455.6 183.2 457.6 183.1 459.6 183 461.6 182.9 463.6 182.8 465.6 182.7 467.7 182.5 469.7 182.4 471.7 182.3 473.7 182.1 475.7 182 477.7 181.8 479.7 181.7 481.7 181.5 483.7 181.4 485.7 181.2 487.7 181.1 489.7 180.9 491.7 180.8 493.7 180.7 495.7 180.5 497.7 180.4 499.7 180.2 501.7 180.1 503.7 180 505.7 179.9 507.7 179.8 509.7 179.7 511.7 179.6 513.7 179.6 515.7 179.5 517.7 179.5 519.7 179.5 521.7 179.4 523.7 179.4 525.8 179.5 527.8 179.5 529.8 179.6 531.8 179.6 533.8 179.7 535.8 179.8 537.8 179.9 539.8 180 541.8 180.2 543.8 180.3 545.8 180.5 547.8 180.7 549.8 180.9 551.8 181.1 553.8 181.3 555.8 181.5 557.8 181.7 559.8 182 561.8 182.2 563.8 182.5 565.8 182.8 567.8 183 569.8 183.3 571.8 183.6 573.8 183.9 575.8 184.2 577.8 184.6 579.8 184.9 581.8 185.2 583.8 185.5 585.9 185.9 587.9 186.2 589.9 186.6 591.9 186.9 593.9 187.2 595.9 187.6 597.9 187.9 599.9 188.3 601.9 188.6 603.9 188.9 605.9 189.3 607.9 189.6 609.9 189.9 611.9 190.3 613.9 190.6 615.9 190.9 617.9 191.2 619.9 191.5 621.9 191.8 623.9 192.1 625.9 192.3 627.9 192.6 629.9 192.9 631.9 193.1 633.9 193.4 635.9 193.6 637.9 193.8 639.9 194 641.9 194.2 644 194.4 646 194.6 648 194.8 650 194.9 652 195.1 654 195.2 656 195.3 658 195.5 660 195.6 662 195.7 664 195.8 666 195.8 668 195.9 670 196 672 196 674 196.1 676 196.2 678 196.2 680 196.2 682 196.3 684 196.3 686 196.3 688 196.4 690 196.4 692 196.4 694 196.4 696 196.4 698 196.5 700 196.5 702 196.5M437.6 188.9 439.6 189 441.6 189.1 443.6 189.2 445.6 189.3 447.6 189.4 449.6 189.5 451.6 189.7 453.6 189.9 455.6 190.1 457.6 190.4 459.6 190.7 461.6 191 463.6 191.3 465.6 191.7 467.7 192.1 469.7 192.4 471.7 192.8 473.7 193.3 475.7 193.7 477.7 194.1 479.7 194.6 481.7 195 483.7 195.5 485.7 196 487.7 196.5 489.7 196.9 491.7 197.4 493.7 198 495.7 198.5 497.7 199 499.7 199.5 501.7 200.1 503.7 200.6 505.7 201.2 507.7 201.7 509.7 202.3 511.7 202.8 513.7 203.4 515.7 204 517.7 204.5 519.7 205.1 521.7 205.6 523.7 206.2 525.8 206.7 527.8 207.3 529.8 207.8 531.8 208.4 533.8 208.9 535.8 209.4 537.8 210 539.8 210.5 541.8 211 543.8 211.5 545.8 211.9 547.8 212.4 549.8 212.9 551.8 213.3 553.8 213.8 555.8 214.2 557.8 214.6 559.8 215 561.8 215.4 563.8 215.8 565.8 216.2 567.8 216.5 569.8 216.8 571.8 217.2 573.8 217.5 575.8 217.8 577.8 218.1 579.8 218.4 581.8 218.7 583.8 219 585.9 219.3 587.9 219.6 589.9 219.9 591.9 220.3 593.9 220.7 595.9 221.1 597.9 221.5 599.9 221.9 601.9 222.3 603.9 222.8 605.9 223.2 607.9 223.7 609.9 224.2 611.9 224.6 613.9 225 615.9 225.4 617.9 225.8 619.9 226.1 621.9 226.5 623.9 226.8 625.9 227.1 627.9 227.4 629.9 227.6 631.9 227.9 633.9 228.1 635.9 228.3 637.9 228.5 639.9 228.7 641.9 228.9 644 229.1 646 229.3 648 229.4 650 229.6 652 229.7 654 229.8 656 230 658 230.1 660 230.2 662 230.3 664 230.4 666 230.5 668 230.6 670 230.7 672 230.8 674 230.9 676 230.9 678 231 680 231.1 682 231.2 684 231.2 686 231.3 688 231.3 690 231.4 692 231.5 694 231.5 696 231.6 698 231.6 700 231.7 702 231.7M437.6 239.6 439.6 239.6 441.6 239.6 443.6 239.6 445.6 239.6 447.6 239.6 449.6 239.6 451.6 239.6 453.6 239.6 455.6 239.6 457.6 239.6 459.6 239.6 461.6 239.6 463.6 239.6 465.6 239.5 467.7 239.5 469.7 239.5 471.7 239.5 473.7 239.5 475.7 239.5 477.7 239.5 479.7 239.5 481.7 239.4 483.7 239.4 485.7 239.4 487.7 239.4 489.7 239.4 491.7 239.3 493.7 239.3 495.7 239.3 497.7 239.2 499.7 239.2 501.7 239.2 503.7 239.1 505.7 239.1 507.7 239.1 509.7 239 511.7 239 513.7 239 515.7 239 517.7 238.9 519.7 238.9 521.7 238.9 523.7 238.9 525.8 238.9 527.8 238.9 529.8 238.9 531.8 238.9 533.8 238.9 535.8 238.9 537.8 238.9 539.8 239 541.8 239 543.8 239 545.8 239.1 547.8 239.2 549.8 239.2 551.8 239.3 553.8 239.4 555.8 239.5 557.8 239.6 559.8 239.8 561.8 239.9 563.8 240.1 565.8 240.2 567.8 240.4 569.8 240.6 571.8 240.8 573.8 241.1 575.8 241.3 577.8 241.6 579.8 241.9 581.8 242.2 583.8 242.5 585.9 242.9 587.9 243.3 589.9 243.8 591.9 244.2 593.9 244.7 595.9 245.2 597.9 245.8 599.9 246.3 601.9 246.8 603.9 247.4 605.9 247.9 607.9 248.5 609.9 249 611.9 249.5 613.9 250.1 615.9 250.6 617.9 251.1 619.9 251.6 621.9 252.1 623.9 252.5 625.9 253 627.9 253.4 629.9 253.8 631.9 254.3 633.9 254.7 635.9 255.1 637.9 255.5 639.9 255.9 641.9 256.2 644 256.7 646 257.1 648 257.5 650 257.9 652 258.3 654 258.7 656 259.1 658 259.5 660 259.9 662 260.3 664 260.6 666 260.9 668 261.2 670 261.5 672 261.7 674 261.9 676 262.1 678 262.3 680 262.4 682 262.5 684 262.7 686 262.8 688 262.8 690 262.9 692 263 694 263 696 263.1 698 263.1 700 263.2 702 263.2M437.6 267.2 439.6 267.3 441.6 267.3 443.6 267.3 445.6 267.3 447.6 267.3 449.6 267.3 451.6 267.3 453.6 267.4 455.6 267.4 457.6 267.4 459.6 267.4 461.6 267.4 463.6 267.4 465.6 267.4 467.7 267.5 469.7 267.5 471.7 267.5 473.7 267.5 475.7 267.5 477.7 267.5 479.7 267.6 481.7 267.6 483.7 267.6 485.7 267.6 487.7 267.6 489.7 267.6 491.7 267.6 493.7 267.7 495.7 267.7 497.7 267.7 499.7 267.7 501.7 267.7 503.7 267.7 505.7 267.8 507.7 267.8 509.7 267.8 511.7 267.8 513.7 267.8 515.7 267.8 517.7 267.9 519.7 267.9 521.7 267.9 523.7 267.9 525.8 267.9 527.8 267.9 529.8 268 531.8 268 533.8 268 535.8 268 537.8 268 539.8 268.1 541.8 268.1 543.8 268.1 545.8 268.1 547.8 268.1 549.8 268.1 551.8 268.2 553.8 268.2 555.8 268.2 557.8 268.2 559.8 268.2 561.8 268.3 563.8 268.3 565.8 268.3 567.8 268.3 569.8 268.3 571.8 268.4 573.8 268.4 575.8 268.4 577.8 268.4 579.8 268.5 581.8 268.5 583.8 268.5 585.9 268.5 587.9 268.5 589.9 268.6 591.9 268.6 593.9 268.6 595.9 268.6 597.9 268.7 599.9 268.7 601.9 268.7 603.9 268.7 605.9 268.7 607.9 268.8 609.9 268.8 611.9 268.8 613.9 268.8 615.9 268.9 617.9 268.9 619.9 268.9 621.9 268.9 623.9 269 625.9 269 627.9 269 629.9 269 631.9 269.1 633.9 269.1 635.9 269.1 637.9 269.1 639.9 269.2 641.9 269.2 644 269.2 646 269.2 648 269.3 650 269.3 652 269.3 654 269.3 656 269.4 658 269.4 660 269.4 662 269.4 664 269.5 666 269.5 668 269.5 670 269.5 672 269.6 674 269.6 676 269.6 678 269.6 680 269.7 682 269.7 684 269.7 686 269.8 688 269.8 690 269.8 692 269.8 694 269.9 696 269.9 698 269.9 700 269.9 702 270M437.6 298 439.6 298 441.6 298.1 443.6 298 445.6 298 447.6 298 449.6 297.9 451.6 297.8 453.6 297.6 455.6 297.4 457.6 297.1 459.6 296.9 461.6 296.5 463.6 296.2 465.6 295.8 467.7 295.4 469.7 295 471.7 294.5 473.7 294.1 475.7 293.7 477.7 293.2 479.7 292.8 481.7 292.3 483.7 291.8 485.7 291.3 487.7 290.8 489.7 290.2 491.7 289.6 493.7 288.9 495.7 288.2 497.7 287.5 499.7 286.7 501.7 285.9 503.7 285 505.7 284.2 507.7 283.3 509.7 282.4 511.7 281.5 513.7 280.6 515.7 279.7 517.7 278.8 519.7 277.9 521.7 276.9 523.7 276 525.8 275 527.8 273.9 529.8 272.8 531.8 271.7 533.8 270.5 535.8 269.3 537.8 268 539.8 266.7 541.8 265.4 543.8 264.1 545.8 262.8 547.8 261.5 549.8 260.3 551.8 259.1 553.8 257.9 555.8 256.8 557.8 255.7 559.8 254.7 561.8 253.6 563.8 252.6 565.8 251.5 567.8 250.3 569.8 249.1 571.8 247.8 573.8 246.5 575.8 245.1 577.8 243.7 579.8 242.3 581.8 240.8 583.8 239.4 585.9 238.1 587.9 236.7 589.9 235.5 591.9 234.3 593.9 233.1 595.9 232 597.9 230.9 599.9 229.9 601.9 228.9 603.9 228 605.9 227.2 607.9 226.4 609.9 225.6 611.9 224.9 613.9 224.2 615.9 223.5 617.9 222.8 619.9 222.1 621.9 221.4 623.9 220.7 625.9 219.9 627.9 219.1 629.9 218.3 631.9 217.5 633.9 216.7 635.9 216 637.9 215.3 639.9 214.6 641.9 214 644 213.5 646 213.1 648 212.8 650 212.7 652 212.5 654 212.5 656 212.5 658 212.5 660 212.6 662 212.7 664 212.8 666 212.9 668 213 670 213.1 672 213.2 674 213.3 676 213.3 678 213.4 680 213.5 682 213.5 684 213.6 686 213.7 688 213.7 690 213.8 692 213.8 694 213.9 696 213.9 698 214 700 214 702 214.1M437.6 299.5 439.6 299.5 441.6 299.4 443.6 299.4 445.6 299.3 447.6 299.3 449.6 299.1 451.6 299 453.6 298.8 455.6 298.5 457.6 298.2 459.6 297.8 461.6 297.4 463.6 297 465.6 296.5 467.7 296.1 469.7 295.6 471.7 295.1 473.7 294.7 475.7 294.2 477.7 293.7 479.7 293.3 481.7 292.8 483.7 292.3 485.7 291.7 487.7 291.2 489.7 290.6 491.7 289.9 493.7 289.2 495.7 288.4 497.7 287.6 499.7 286.8 501.7 285.9 502.8 285.4M437.6 368.9 439.6 368.9 441.6 369 443.6 369 445.6 369 447.6 369 449.6 369 451.6 369 453.6 369.1 455.6 369.1 457.6 369.1 459.6 369.1 461.6 369.2 463.6 369.2 465.6 369.3 467.7 369.3 469.7 369.4 471.7 369.4 473.7 369.5 475.7 369.5 477.7 369.6 479.7 369.7 481.7 369.8 483.7 369.9 485.7 370 487.7 370.1 489.7 370.2 491.7 370.4 493.7 370.5 495.7 370.7 497.7 370.9 499.7 371.1 501.7 371.3 503.7 371.6 505.7 371.8 507.7 372.1 509.7 372.5 511.7 372.8 513.7 373.1 515.7 373.4 517.7 373.7 519.7 374 521.7 374.3 523.7 374.6 525.8 374.9 527.8 375.3 529.8 375.6 531.8 376 533.8 376.4 535.8 376.8 537.8 377.2 539.8 377.6 541.8 378 543.8 378.3 545.8 378.6 547.8 378.8 549.8 379.1 551.8 379.3 553.8 379.5 555.8 379.7 557.8 379.9 559.8 380 561.8 380.2 563.8 380.4 565.8 380.5 567.8 380.7 569.8 380.8 571.8 381 573.8 381.1 575.8 381.3 577.8 381.4 579.8 381.5 581.8 381.7 583.8 381.8 585.9 382 587.9 382.1 589.9 382.2 591.9 382.4 593.9 382.5 595.9 382.6 597.9 382.8 599.9 382.9 601.9 383 603.9 383.1 605.9 383.3 607.9 383.4 609.9 383.5 611.9 383.6 613.9 383.7 615.9 383.9 617.9 384 619.9 384.1 621.9 384.2 623.9 384.3 625.9 384.4 627.9 384.6 629.9 384.7 631.9 384.8 633.9 384.9 635.9 385 637.9 385.1 639.9 385.2 641.9 385.3 644 385.4 646 385.5 648 385.6 650 385.7 652 385.8 654 385.9 656 386 658 386.1 660 386.2 662 386.3 664 386.4 666 386.5 668 386.6 670 386.7 672 386.8 674 386.9 676 387 678 387.1 680 387.2 682 387.3 684 387.4 686 387.5 688 387.6 690 387.7 692 387.8 694 387.9 696 388 698 388.1 700 388.2 702 388.3M437.6 374.7 439.6 374.7 441.6 374.6 443.6 374.6 445.6 374.6 447.6 374.6 449.6 374.6 451.6 374.6 453.6 374.6 455.6 374.6 457.6 374.6 459.6 374.6 461.6 374.6 463.6 374.6 465.6 374.6 467.7 374.6 469.7 374.7 471.7 374.7 473.7 374.7 475.7 374.7 477.7 374.8 479.7 374.8 481.7 374.9 483.7 374.9 485.7 375 487.7 375 489.7 375.1 491.7 375.2 493.7 375.2 495.7 375.3 497.7 375.4 499.7 375.5 501.7 375.6 503.7 375.7 505.7 375.8 507.7 375.9 509.7 375.9 511.7 376 513.7 376.1 515.7 376.2 517.7 376.3 519.7 376.3 521.7 376.4 523.7 376.4 525.8 376.5 527.8 376.6 529.8 376.7 531.8 376.8 533.8 376.9 535.8 377 537.8 377.2 539.8 377.3 541.8 377.5 543.8 377.7 545.8 377.9 547.8 378.2 549.8 378.4 551.8 378.7 553.8 378.9 555.8 379.2 557.8 379.5 559.8 379.7 561.8 380 563.8 380.3 565.8 380.5 567.8 380.8 569.8 381 571.8 381.3 573.8 381.5 575.8 381.7 577.8 381.9 579.8 382.2 581.8 382.4 583.8 382.6 585.9 382.8 587.9 383 589.9 383.2 591.9 383.3 593.9 383.5 595.9 383.7 597.9 383.9 599.9 384 601.9 384.2 603.9 384.4 605.9 384.5 607.9 384.7 609.9 384.8 611.9 384.9 613.9 385.1 615.9 385.2 617.9 385.3 619.9 385.4 621.9 385.6 623.9 385.7 625.9 385.8 627.9 385.9 629.9 386 631.9 386.1 633.9 386.2 635.9 386.3 637.9 386.4 639.9 386.5 641.9 386.6 644 386.6 646 386.7 648 386.8 650 386.9 652 387 654 387 656 387.1 658 387.2 660 387.2 662 387.3 664 387.3 666 387.4 668 387.5 670 387.5 672 387.6 674 387.6 676 387.7 678 387.7 680 387.8 682 387.8 684 387.9 686 387.9 688 388 690 388 692 388.1 694 388.1 696 388.1 698 388.2 700 388.2 702 388.3M437.6 417.5 439.6 417.5 441.6 417.5 443.6 417.5 445.6 417.5 447.6 417.5 449.6 417.5 451.6 417.5 453.6 417.5 455.6 417.5 457.6 417.5 459.6 417.6 461.6 417.6 463.6 417.6 465.6 417.7 467.7 417.7 469.7 417.8 471.7 417.9 473.7 417.9 475.7 418 477.7 418.1 479.7 418.2 481.7 418.3 483.7 418.4 485.7 418.6 487.7 418.7 489.7 418.9 491.7 419.1 493.7 419.2 495.7 419.4 497.7 419.6 499.7 419.8 501.7 420.1 503.7 420.3 505.7 420.6 507.7 420.9 509.7 421.1 511.7 421.4 513.7 421.8 515.7 422.1 517.7 422.4 519.7 422.8 521.7 423.2 523.7 423.5 525.8 424 527.8 424.4 529.8 424.8 531.8 425.2 533.8 425.7 535.8 426.2 537.8 426.7 539.8 427.2 541.8 427.7 543.8 428.2 545.8 428.7 547.8 429.2 549.8 429.8 551.8 430.3 553.8 430.9 555.8 431.4 557.8 432 559.8 432.5 561.8 433.1 563.8 433.7 565.8 434.3 567.8 435 569.8 435.6 571.8 436.3 573.8 437.1 575.8 437.8 577.8 438.6 579.8 439.4 581.8 440.2 583.8 441.1 585.9 441.9 587.9 442.8 589.9 443.7 591.9 444.6 593.9 445.5 595.9 446.5 597.9 447.4 599.9 448.3 601.9 449.2 603.9 450.1 605.9 451 607.9 451.9 609.9 452.8 611.9 453.6 613.9 454.4 615.9 455.2 617.9 456 619.9 456.9 621.9 457.8 623.9 458.8 625.9 459.8 627.9 460.8 629.9 462 631.9 463.3 633.9 464.6 635.9 465.9 637.9 467.3 639.9 468.6 641.9 470 644 471.3 646 472.6 648 473.8 650 475 652 476 654 477.1 656 478 658 479 660 479.9 662 480.8 664 481.8 666 482.7 668 483.8 670 484.8 672 486 674 487.1 676 488.4 678 489.7 680 491 682 492.4 684 493.9 686 495.4 688 496.9 690 498.5 692 500.1 694 501.8 696 503.4 698 505.1 700 506.7M437.6 425.5 439.6 425.5 441.6 425.6 443.6 425.6 445.6 425.6 447.6 425.7 449.6 425.7 451.6 425.7 453.6 425.8 455.6 425.8 457.6 425.8 459.6 425.9 461.6 425.9 463.6 426 465.6 426 467.7 426.1 469.7 426.1 471.7 426.2 473.7 426.2 475.7 426.3 477.7 426.4 479.7 426.5 481.7 426.6 483.7 426.7 485.7 426.8 487.7 427 489.7 427.2 491.7 427.4 493.7 427.7 495.7 428 497.7 428.3 499.7 428.7 501.7 429.1 503.7 429.6 505.7 430.1 507.7 430.7 509.7 431.3 511.7 432 513.7 432.7 515.7 433.4 517.7 434.1 519.7 434.8 521.7 435.5 523.7 436.3 525.8 437 527.8 437.6 529.8 438.3 531.8 439 533.8 439.6 535.8 440.1 537.8 440.7 539.8 441.2 541.8 441.7 543.8 442.2 545.8 442.7 547.8 443.1 549.8 443.6 551.8 444.1 553.8 444.6 555.8 445.2 557.8 445.7 559.8 446.3 561.8 446.9 563.8 447.6 565.8 448.3 567.8 449 569.8 449.8 571.8 450.5 573.8 451.3 575.8 452.1 577.8 453 579.8 453.8 581.8 454.7 583.8 455.6 585.9 456.4 587.9 457.3 589.9 458.2 591.9 459.1 593.9 460 595.9 460.8 597.9 461.7 599.9 462.6 601.9 463.4 603.9 464.2 605.9 465.1 607.9 465.9 609.9 466.7 611.9 467.5 613.9 468.3 615.9 469.1 617.9 470 619.9 470.8 621.9 471.6 623.9 472.4 625.9 473.3 627.9 474.1 629.9 475 631.9 475.9 633.9 476.8 635.9 477.7 637.9 478.6 639.9 479.6 641.9 480.5 644 481.5 646 482.5 648 483.6 650 484.6 652 485.6 654 486.7 656 487.8 658 488.8 660 489.9 662 491 664 492.1 666 493.2 668 494.3 670 495.4 672 496.5 674 497.6 676 498.8 678 499.9 680 501M437.6 431.4 439.6 431.4 441.6 431.4 443.6 431.4 445.6 431.5 447.6 431.5 449.6 431.6 451.6 431.7 453.6 431.8 455.6 432 457.6 432.2 459.6 432.4 461.6 432.7 463.6 433 465.6 433.4 467.7 433.8 469.7 434.2 471.7 434.7 473.7 435.2 475.7 435.8 477.7 436.4 479.7 437 481.7 437.7 483.7 438.3 485.7 439 487.7 439.8 489.7 440.5 491.7 441.2 493.7 442 495.7 442.7 497.7 443.4 499.7 444.2 501.7 444.9 503.7 445.6 505.7 446.4 507.7 447.1 509.7 447.9 511.7 448.7 513.7 449.4 515.7 450.2 517.7 451 519.7 451.8 521.7 452.6 523.7 453.4 525.8 454.1 527.8 454.9 529.8 455.7 531.8 456.4 533.8 457.1 535.8 457.8 537.8 458.5 539.8 459.1 541.8 459.7 543.8 460.3 545.8 460.8 547.8 461.4 549.8 461.9 551.8 462.3 553.8 462.8 555.8 463.2 557.8 463.7 559.8 464.1 561.8 464.5 563.8 464.9 565.8 465.3 567.8 465.7 569.8 466.1 571.8 466.5 573.8 466.9 575.8 467.3 577.8 467.8 579.8 468.2 581.8 468.6 583.8 469.1 585.9 469.5 587.9 470 589.9 470.5 591.9 471 593.9 471.5 595.9 472 597.9 472.6 599.9 473.2 601.9 473.8 603.9 474.4 605.9 475 607.9 475.6 609.9 476.3 611.9 477 613.9 477.6 615.9 478.3 617.9 479 619.9 479.7 621.9 480.4 623.9 481.1 625.9 481.8 627.9 482.5 629.9 483.1 631.9 483.8 633.9 484.5 635.9 485.2 637.9 485.9 639.9 486.7 641.9 487.4 644 488.2 646 489.1 648 490 650 490.9 652 492 654 493 656 494.2 658 495.3 660 496.5 662 497.7 664 498.9 665 499.6M437.6 442.1 439.6 442.1 441.6 442.2 443.6 442.2 445.6 442.2 447.6 442.2 449.6 442.3 451.6 442.3 453.6 442.4 455.6 442.4 457.6 442.5 459.6 442.6 461.6 442.6 463.6 442.7 465.6 442.8 467.7 443 469.7 443.1 471.7 443.3 473.7 443.4 475.7 443.6 477.7 443.9 479.7 444.1 481.7 444.3 483.7 444.6 485.7 444.9 487.7 445.2 489.7 445.5 491.7 445.8 493.7 446.2 495.7 446.5 497.7 446.9 499.7 447.3 501.7 447.8 503.7 448.2 505.7 448.7 507.7 449.1 509.7 449.6 511.7 450.1 513.7 450.6 515.7 451.2 517.7 451.7 519.7 452.2 521.7 452.8 523.7 453.4 525.8 453.9 527.8 454.5 529.8 455.1 531.8 455.7 533.8 456.3 535.8 456.9 537.8 457.5 539.8 458.1 541.8 458.7 543.8 459.4 545.8 460 547.8 460.6 549.8 461.2 551.8 461.8 553.8 462.4 555.8 462.9 557.8 463.5 559.8 464.1 561.8 464.6 563.8 465.2 565.8 465.7 567.8 466.2 569.8 466.7 571.8 467.2 573.8 467.6 575.8 468.1 577.8 468.6 579.8 469 581.8 469.5 583.8 469.9 585.9 470.4 587.9 470.8 589.9 471.3 591.9 471.8 593.9 472.3 595.9 472.9 597.9 473.4 599.9 474 601.9 474.7 603.9 475.3 605.9 476 607.9 476.7 609.9 477.4 611.9 478.1 613.9 478.8 615.9 479.5 617.9 480.2 619.9 481 621.9 481.6 623.9 482.3 625.9 483 627.9 483.6 629.9 484.2 631.9 484.8 633.9 485.4 635.9 486 637.9 486.5 639.9 487.1 641.9 487.7 644 488.2 646 488.9 648 489.5 650 490.2 652 491 654 491.7 656 492.6 658 493.5 660 494.4 662 495.3 664 496.2 665 496.7M437.6 447.6 439.6 447.6 441.6 447.6 443.6 447.6 445.6 447.6 447.6 447.6 449.6 447.6 451.6 447.6 453.6 447.5 455.6 447.5 457.6 447.5 459.6 447.5 461.6 447.5 463.6 447.5 465.6 447.5 467.7 447.5 469.7 447.4 471.7 447.4 473.7 447.4 475.7 447.3 477.7 447.3 479.7 447.3 481.7 447.2 483.7 447.2 485.7 447.1 487.7 447 489.7 447 491.7 446.9 493.7 446.8 495.7 446.8 497.7 446.7 499.7 446.6 501.7 446.5 503.7 446.4 505.7 446.3 507.7 446.1 509.7 446 511.7 445.9 513.7 445.8 515.7 445.6 517.7 445.5 519.7 445.3 521.7 445.2 523.7 445.1 525.8 444.9 527.8 444.8 529.8 444.6 531.8 444.5 533.8 444.3 535.8 444.2 537.8 444 539.8 443.9 541.8 443.7 543.8 443.6 545.8 443.4 547.8 443.3 549.8 443.1 551.8 443 553.8 442.9 555.8 442.7 557.8 442.6 559.8 442.5 561.8 442.3 563.8 442.2 565.8 442.1 567.8 442 569.8 441.8 571.8 441.7 573.8 441.6 575.8 441.5 577.8 441.4 579.8 441.2 581.8 441.1 583.8 441 585.9 440.9 587.9 440.8 589.9 440.6 591.9 440.5 593.9 440.4 595.9 440.3 597.9 440.2 599.9 440.1 601.9 439.9 603.9 439.8 605.9 439.7 607.9 439.6 609.9 439.5 611.9 439.4 613.9 439.3 615.9 439.1 617.9 439 619.9 438.9 621.9 438.8 623.9 438.7 625.9 438.6 627.9 438.4 629.9 438.3 631.9 438.2 633.9 438.1 635.9 438 637.9 437.9 639.9 437.8 641.9 437.7 644 437.6 646 437.5 648 437.3 650 437.2 652 437.1 654 437 656 436.9 658 436.8 660 436.7 662 436.6 664 436.6 666 436.5 668 436.4 670 436.3 672 436.2 674 436.1 676 436 678 436 680 435.9 682 435.8 684 435.7 686 435.7 688 435.6 690 435.5 692 435.4 694 435.4 696 435.3 698 435.2 700 435.2 702 435.1M437.6 454.9 439.6 454.8 441.6 454.8 443.6 454.7 445.6 454.6 447.6 454.6 449.6 454.6 451.6 454.6 453.6 454.6 455.6 454.6 457.6 454.6 459.6 454.7 461.6 454.8 463.6 454.9 465.6 455 467.7 455.2 469.7 455.4 471.7 455.6 473.7 455.9 475.7 456.2 477.7 456.6 479.7 457 481.7 457.4 483.7 457.9 485.7 458.3 487.7 458.8 489.7 459.3 491.7 459.8 493.7 460.3 495.7 460.9 497.7 461.4 499.7 461.9 501.7 462.5 503.7 463 505.7 463.5 507.7 464 509.7 464.5 511.7 465 513.7 465.5 515.7 465.9 517.7 466.4 519.7 466.9 521.7 467.3 523.7 467.8 525.8 468.2 527.8 468.7 529.8 469.1 531.8 469.5 533.8 470 535.8 470.4 537.8 470.9 539.8 471.3 541.8 471.7 543.8 472.2 545.8 472.6 547.8 473.1 549.8 473.5 551.8 473.9 553.8 474.4 555.8 474.8 557.8 475.2 559.8 475.7 561.8 476.1 563.8 476.6 565.8 477 567.8 477.4 569.8 477.9 571.8 478.3 573.8 478.7 575.8 479.2 577.8 479.6 579.8 480.1 581.8 480.5 583.8 481 585.9 481.6 587.9 482.1 589.9 482.7 591.9 483.3 593.9 483.9 595.9 484.5 597.9 485.3 599.9 486 601.9 486.8 603.9 487.6 605.9 488.5 607.9 489.5 609.9 490.5 611.9 491.6 613.9 492.7 615.9 493.9 617.9 495.1 619.9 496.3 621.9 497.6 623.9 498.9 625 499.6M437.6 464.2 439.6 464.1 441.6 464 443.6 463.9 445.6 463.9 447.6 463.8 449.6 463.8 451.6 463.7 453.6 463.7 455.6 463.7 457.6 463.8 459.6 463.8 461.6 463.9 463.6 464 465.6 464.2 467.7 464.4 469.7 464.6 471.7 464.9 473.7 465.2 475.7 465.6 477.7 466 479.7 466.5 481.7 467 483.7 467.5 485.7 468.1 487.7 468.7 489.7 469.3 491.7 469.9 493.7 470.5 495.7 471.2 497.7 471.8 499.7 472.5 501.7 473.1 503.7 473.8 505.7 474.4 507.7 475.1 509.7 475.7 511.7 476.3 513.7 476.9 515.7 477.5 517.7 478.1 519.7 478.7 521.7 479.3 523.7 479.9 525.8 480.5 527.8 481.1 529.8 481.7 531.8 482.2 533.8 482.8 535.8 483.3 537.8 483.9 539.8 484.5 541.8 485 543.8 485.6 545.8 486.2 547.8 486.8 549.8 487.5 551.8 488.2 553.8 488.8 555.8 489.6 557.8 490.3 559.8 491.1 561.8 492 563.8 492.8 565.8 493.8 567.8 494.7 569.8 495.6 571.8 496.6 573.8 497.6 575 498.1M437.6 468 439.6 468 441.6 468 443.6 468 445.6 468 447.6 468 449.6 468 451.6 468 453.6 468 455.6 468.1 457.6 468.1 459.6 468.2 461.6 468.3 463.6 468.4 465.6 468.6 467.7 468.8 469.7 469 471.7 469.3 473.7 469.5 475.7 469.9 477.7 470.2 479.7 470.6 481.7 471 483.7 471.4 485.7 471.9 487.7 472.4 489.7 472.9 491.7 473.4 493.7 474 495.7 474.5 497.7 475.1 499.7 475.7 501.7 476.3 503.7 476.9 505.7 477.5 507.7 478.1 509.7 478.8 511.7 479.4 513.7 480 515.7 480.6 517.7 481.2 519.7 481.8 521.7 482.4 523.7 483 525.8 483.5 527.8 484.1 529.8 484.6 531.8 485.1 533.8 485.6 535.8 486.1 537.8 486.5 539.8 487 541.8 487.4 543.8 487.9 545.8 488.3 547.8 488.8 549.8 489.4 551.8 489.9 553.8 490.5 555.8 491.1 557.8 491.8 559.8 492.6 561.8 493.4 563.8 494.2 565.8 495.1 567.8 496 569.8 497 571.8 498 573.8 499 575 499.6M437.6 486.2 439.6 486.2 441.6 486.1 443.6 486.1 445.6 486.1 447.6 486 449.6 486 451.6 486 453.6 486 455.6 486 457.6 486 459.6 486.1 461.6 486.1 463.6 486.2 465.6 486.3 467.7 486.4 469.7 486.6 471.7 486.8 473.7 487 475.7 487.2 477.7 487.5 479.7 487.8 481.7 488.2 483.7 488.5 485.7 488.9 487.7 489.4 489.7 489.8 491.7 490.3 493.7 490.8 495.7 491.4 497.7 492 499.7 492.6 501.7 493.3 503.7 494 505.7 494.7 507.7 495.4 509.7 496.1 511.7 496.9 513.7 497.6 515 498.1"/>
<g fill="none" stroke="#de1c30" stroke-width="1.5"><circle cx="437.6" cy="127.4" r="1.4"/><circle cx="444.2" cy="127.3" r="1.4"/><circle cx="450.8" cy="127.2" r="1.4"/><circle cx="457.4" cy="127.4" r="1.4"/><circle cx="464" cy="127.9" r="1.4"/><circle cx="470.7" cy="128.9" r="1.4"/><circle cx="477.3" cy="130.1" r="1.4"/><circle cx="483.9" cy="131.4" r="1.4"/><circle cx="490.5" cy="132.8" r="1.4"/><circle cx="497.1" cy="134.4" r="1.4"/><circle cx="503.7" cy="136.3" r="1.4"/><circle cx="510.3" cy="138.7" r="1.4"/><circle cx="516.9" cy="141.2" r="1.4"/><circle cx="523.5" cy="143.9" r="1.4"/><circle cx="530.2" cy="146.5" r="1.4"/><circle cx="536.8" cy="149.2" r="1.4"/><circle cx="543.4" cy="151.9" r="1.4"/><circle cx="550" cy="154.8" r="1.4"/><circle cx="556.6" cy="157.6" r="1.4"/><circle cx="563.2" cy="160.4" r="1.4"/><circle cx="569.8" cy="163" r="1.4"/><circle cx="576.4" cy="165.5" r="1.4"/><circle cx="583" cy="168" r="1.4"/><circle cx="589.7" cy="170.8" r="1.4"/><circle cx="596.3" cy="173.8" r="1.4"/><circle cx="602.9" cy="176.8" r="1.4"/><circle cx="609.5" cy="179.7" r="1.4"/><circle cx="616.1" cy="182.5" r="1.4"/><circle cx="622.7" cy="185" r="1.4"/><circle cx="629.3" cy="187" r="1.4"/><circle cx="635.9" cy="188.7" r="1.4"/></g>
<g fill="none" stroke="#de1c30" stroke-width="1.2"><circle cx="642.5" cy="189.9" r="2.7"/><circle cx="649.2" cy="190.7" r="2.7"/><circle cx="655.8" cy="191.3" r="2.7"/><circle cx="662.4" cy="191.6" r="2.7"/><circle cx="669" cy="191.7" r="2.7"/><circle cx="675.6" cy="191.7" r="2.7"/><circle cx="682.2" cy="191.6" r="2.7"/><circle cx="688.8" cy="191.4" r="2.7"/><circle cx="695.4" cy="191.2" r="2.7"/><circle cx="702" cy="190.9" r="2.7"/></g>
<g fill="none" stroke="#1a1a80" stroke-width="1.3"><circle cx="437.6" cy="127.4" r="0.8"/><circle cx="444.2" cy="127.3" r="0.8"/><circle cx="450.8" cy="127.2" r="0.8"/><circle cx="457.4" cy="127.4" r="0.8"/><circle cx="464" cy="127.9" r="0.8"/><circle cx="470.7" cy="128.9" r="0.8"/><circle cx="477.3" cy="130.1" r="0.8"/><circle cx="483.9" cy="131.4" r="0.8"/><circle cx="490.5" cy="132.8" r="0.8"/><circle cx="497.1" cy="134.4" r="0.8"/><circle cx="503.7" cy="136.3" r="0.8"/><circle cx="510.3" cy="138.7" r="0.8"/><circle cx="516.9" cy="141.2" r="0.8"/><circle cx="523.5" cy="143.9" r="0.8"/><circle cx="530.2" cy="146.5" r="0.8"/><circle cx="536.8" cy="149.2" r="0.8"/><circle cx="543.4" cy="151.9" r="0.8"/><circle cx="550" cy="154.8" r="0.8"/><circle cx="556.6" cy="157.6" r="0.8"/><circle cx="563.2" cy="160.4" r="0.8"/><circle cx="569.8" cy="163" r="0.8"/><circle cx="576.4" cy="165.5" r="0.8"/><circle cx="583" cy="168" r="0.8"/><circle cx="589.7" cy="170.8" r="0.8"/><circle cx="596.3" cy="173.8" r="0.8"/><circle cx="602.9" cy="176.8" r="0.8"/><circle cx="609.5" cy="179.7" r="0.8"/><circle cx="616.1" cy="182.5" r="0.8"/><circle cx="622.7" cy="185" r="0.8"/><circle cx="629.3" cy="187" r="0.8"/><circle cx="437.6" cy="140.6" r="0.8"/><circle cx="444.2" cy="140.2" r="0.8"/><circle cx="450.8" cy="139.8" r="0.8"/><circle cx="457.4" cy="139.4" r="0.8"/><circle cx="464" cy="138.9" r="0.8"/><circle cx="470.7" cy="138.3" r="0.8"/><circle cx="477.3" cy="137.7" r="0.8"/><circle cx="483.9" cy="137.2" r="0.8"/><circle cx="490.5" cy="136.9" r="0.8"/><circle cx="497.1" cy="137.2" r="0.8"/><circle cx="503.7" cy="138.1" r="0.8"/><circle cx="510.3" cy="139.4" r="0.8"/><circle cx="516.9" cy="141.4" r="0.8"/><circle cx="523.5" cy="143.9" r="0.8"/><circle cx="530.2" cy="146.5" r="0.8"/></g>
<g fill="none" stroke="#de1c30" stroke-width="1.4"><circle cx="437.6" cy="140.6" r="1.3"/><circle cx="444.2" cy="140.2" r="1.3"/><circle cx="450.8" cy="139.8" r="1.3"/><circle cx="457.4" cy="139.4" r="1.3"/><circle cx="464" cy="138.9" r="1.3"/><circle cx="470.7" cy="138.3" r="1.3"/><circle cx="477.3" cy="137.7" r="1.3"/><circle cx="483.9" cy="137.2" r="1.3"/><circle cx="490.5" cy="136.9" r="1.3"/><circle cx="497.1" cy="137.2" r="1.3"/><circle cx="503.7" cy="138.1" r="1.3"/><circle cx="510.3" cy="139.4" r="1.3"/><circle cx="516.9" cy="141.4" r="1.3"/><circle cx="523.5" cy="143.9" r="1.3"/><circle cx="530.2" cy="146.5" r="1.3"/></g>
<g fill="none" stroke="#55e655" stroke-width="1.2"><circle cx="437.6" cy="154.2" r="2.9"/><circle cx="444.2" cy="154.1" r="2.9"/><circle cx="450.8" cy="154" r="2.9"/><circle cx="457.4" cy="154.1" r="2.9"/><circle cx="464" cy="154.3" r="2.9"/><circle cx="470.7" cy="154.6" r="2.9"/><circle cx="477.3" cy="155" r="2.9"/><circle cx="483.9" cy="155.1" r="2.9"/><circle cx="490.5" cy="154.8" r="2.9"/><circle cx="497.1" cy="154.1" r="2.9"/><circle cx="503.7" cy="153.1" r="2.9"/><circle cx="510.3" cy="151.8" r="2.9"/><circle cx="516.9" cy="150.4" r="2.9"/><circle cx="523.5" cy="149.2" r="2.9"/><circle cx="530.2" cy="148.3" r="2.9"/><circle cx="536.8" cy="147.7" r="2.9"/><circle cx="543.4" cy="147.3" r="2.9"/><circle cx="550" cy="146.9" r="2.9"/><circle cx="556.6" cy="146.5" r="2.9"/><circle cx="563.2" cy="146.3" r="2.9"/><circle cx="569.8" cy="146.1" r="2.9"/><circle cx="576.4" cy="145.9" r="2.9"/><circle cx="583" cy="145.9" r="2.9"/><circle cx="589.7" cy="145.9" r="2.9"/><circle cx="596.3" cy="146" r="2.9"/><circle cx="602.9" cy="146.1" r="2.9"/><circle cx="609.5" cy="146.3" r="2.9"/><circle cx="616.1" cy="146.5" r="2.9"/><circle cx="622.7" cy="146.7" r="2.9"/><circle cx="629.3" cy="146.9" r="2.9"/><circle cx="635.9" cy="147.1" r="2.9"/><circle cx="642.5" cy="147.3" r="2.9"/><circle cx="649.2" cy="147.5" r="2.9"/><circle cx="655.8" cy="147.7" r="2.9"/><circle cx="662.4" cy="147.9" r="2.9"/><circle cx="669" cy="148" r="2.9"/><circle cx="675.6" cy="148.2" r="2.9"/><circle cx="682.2" cy="148.3" r="2.9"/><circle cx="688.8" cy="148.5" r="2.9"/><circle cx="695.4" cy="148.6" r="2.9"/><circle cx="702" cy="148.8" r="2.9"/><circle cx="437.6" cy="161.1" r="2.9"/><circle cx="444.2" cy="160.8" r="2.9"/><circle cx="450.8" cy="160.3" r="2.9"/><circle cx="457.4" cy="159.8" r="2.9"/><circle cx="464" cy="159" r="2.9"/><circle cx="470.7" cy="158.1" r="2.9"/><circle cx="477.3" cy="157.2" r="2.9"/><circle cx="483.9" cy="156.6" r="2.9"/><circle cx="490.5" cy="156.6" r="2.9"/><circle cx="497.1" cy="156.9" r="2.9"/><circle cx="503.7" cy="157.3" r="2.9"/><circle cx="510.3" cy="157.7" r="2.9"/><circle cx="516.9" cy="158.2" r="2.9"/><circle cx="523.5" cy="158.6" r="2.9"/><circle cx="530.2" cy="159" r="2.9"/><circle cx="536.8" cy="159.4" r="2.9"/><circle cx="543.4" cy="159.9" r="2.9"/><circle cx="550" cy="160.4" r="2.9"/><circle cx="556.6" cy="160.9" r="2.9"/><circle cx="563.2" cy="161.4" r="2.9"/><circle cx="569.8" cy="161.8" r="2.9"/><circle cx="576.4" cy="162.2" r="2.9"/><circle cx="583" cy="162.5" r="2.9"/><circle cx="589.7" cy="162.7" r="2.9"/><circle cx="596.3" cy="162.9" r="2.9"/><circle cx="602.9" cy="163.1" r="2.9"/><circle cx="609.5" cy="163.2" r="2.9"/><circle cx="616.1" cy="163.3" r="2.9"/><circle cx="622.7" cy="163.4" r="2.9"/><circle cx="629.3" cy="163.5" r="2.9"/><circle cx="635.9" cy="163.6" r="2.9"/><circle cx="642.5" cy="163.7" r="2.9"/><circle cx="649.2" cy="163.9" r="2.9"/><circle cx="655.8" cy="164.1" r="2.9"/><circle cx="662.4" cy="164.3" r="2.9"/><circle cx="669" cy="164.5" r="2.9"/><circle cx="675.6" cy="164.7" r="2.9"/><circle cx="682.2" cy="164.9" r="2.9"/><circle cx="688.8" cy="165.2" r="2.9"/><circle cx="695.4" cy="165.4" r="2.9"/><circle cx="702" cy="165.7" r="2.9"/></g>
<g fill="none" stroke="#55e655" stroke-width="1.5"><circle cx="437.6" cy="184.2" r="1.4"/><circle cx="444.2" cy="183.8" r="1.4"/><circle cx="450.8" cy="183.5" r="1.4"/><circle cx="457.4" cy="183.1" r="1.4"/><circle cx="464" cy="182.8" r="1.4"/><circle cx="470.7" cy="182.3" r="1.4"/><circle cx="477.3" cy="181.9" r="1.4"/><circle cx="483.9" cy="181.4" r="1.4"/><circle cx="490.5" cy="180.9" r="1.4"/><circle cx="497.1" cy="180.4" r="1.4"/><circle cx="503.7" cy="180" r="1.4"/><circle cx="510.3" cy="179.7" r="1.4"/><circle cx="516.9" cy="179.5" r="1.4"/><circle cx="523.5" cy="179.4" r="1.4"/><circle cx="530.2" cy="179.6" r="1.4"/><circle cx="536.8" cy="179.9" r="1.4"/><circle cx="543.4" cy="180.3" r="1.4"/><circle cx="550" cy="180.9" r="1.4"/><circle cx="556.6" cy="181.6" r="1.4"/><circle cx="563.2" cy="182.4" r="1.4"/><circle cx="569.8" cy="183.3" r="1.4"/><circle cx="576.4" cy="184.3" r="1.4"/><circle cx="583" cy="185.4" r="1.4"/><circle cx="589.7" cy="186.5" r="1.4"/><circle cx="596.3" cy="187.7" r="1.4"/><circle cx="602.9" cy="188.8" r="1.4"/><circle cx="609.5" cy="189.9" r="1.4"/><circle cx="616.1" cy="190.9" r="1.4"/><circle cx="622.7" cy="191.9" r="1.4"/><circle cx="629.3" cy="192.8" r="1.4"/><circle cx="635.9" cy="193.6" r="1.4"/><circle cx="642.5" cy="194.3" r="1.4"/><circle cx="649.2" cy="194.9" r="1.4"/><circle cx="655.8" cy="195.3" r="1.4"/><circle cx="662.4" cy="195.7" r="1.4"/><circle cx="669" cy="195.9" r="1.4"/><circle cx="675.6" cy="196.1" r="1.4"/><circle cx="682.2" cy="196.3" r="1.4"/><circle cx="688.8" cy="196.4" r="1.4"/><circle cx="695.4" cy="196.4" r="1.4"/><circle cx="702" cy="196.5" r="1.4"/></g>
<g fill="none" stroke="#55e655" stroke-width="1.9"><circle cx="437.6" cy="188.9" r="1.7"/><circle cx="444.2" cy="189.2" r="1.7"/><circle cx="450.8" cy="189.6" r="1.7"/><circle cx="457.4" cy="190.4" r="1.7"/><circle cx="464" cy="191.4" r="1.7"/><circle cx="470.7" cy="192.6" r="1.7"/><circle cx="477.3" cy="194" r="1.7"/><circle cx="483.9" cy="195.5" r="1.7"/><circle cx="490.5" cy="197.1" r="1.7"/><circle cx="497.1" cy="198.8" r="1.7"/><circle cx="503.7" cy="200.6" r="1.7"/><circle cx="510.3" cy="202.4" r="1.7"/><circle cx="516.9" cy="204.3" r="1.7"/><circle cx="523.5" cy="206.1" r="1.7"/><circle cx="530.2" cy="207.9" r="1.7"/><circle cx="536.8" cy="209.7" r="1.7"/><circle cx="543.4" cy="211.4" r="1.7"/><circle cx="550" cy="212.9" r="1.7"/><circle cx="556.6" cy="214.4" r="1.7"/></g>
<g fill="none" stroke="#55e655" stroke-width="1.2"><circle cx="563.2" cy="215.7" r="2.5"/><circle cx="569.8" cy="216.8" r="2.5"/><circle cx="576.4" cy="217.9" r="2.5"/><circle cx="583" cy="218.9" r="2.5"/><circle cx="589.7" cy="219.9" r="2.5"/><circle cx="596.3" cy="221.1" r="2.5"/><circle cx="602.9" cy="222.6" r="2.5"/><circle cx="609.5" cy="224.1" r="2.5"/><circle cx="616.1" cy="225.5" r="2.5"/><circle cx="622.7" cy="226.6" r="2.5"/><circle cx="629.3" cy="227.6" r="2.5"/><circle cx="635.9" cy="228.3" r="2.5"/><circle cx="642.5" cy="229" r="2.5"/><circle cx="649.2" cy="229.5" r="2.5"/><circle cx="655.8" cy="230" r="2.5"/><circle cx="662.4" cy="230.3" r="2.5"/><circle cx="669" cy="230.7" r="2.5"/><circle cx="675.6" cy="230.9" r="2.5"/><circle cx="682.2" cy="231.2" r="2.5"/><circle cx="688.8" cy="231.4" r="2.5"/><circle cx="695.4" cy="231.5" r="2.5"/><circle cx="702" cy="231.7" r="2.5"/></g>
<g fill="none" stroke="#55e655" stroke-width="1.6"><circle cx="437.6" cy="239.6" r="1.6"/><circle cx="444.2" cy="239.6" r="1.6"/><circle cx="450.8" cy="239.6" r="1.6"/><circle cx="457.4" cy="239.6" r="1.6"/><circle cx="464" cy="239.6" r="1.6"/><circle cx="470.7" cy="239.5" r="1.6"/><circle cx="477.3" cy="239.5" r="1.6"/><circle cx="483.9" cy="239.4" r="1.6"/><circle cx="490.5" cy="239.3" r="1.6"/><circle cx="497.1" cy="239.3" r="1.6"/><circle cx="503.7" cy="239.1" r="1.6"/><circle cx="510.3" cy="239" r="1.6"/><circle cx="516.9" cy="238.9" r="1.6"/><circle cx="523.5" cy="238.9" r="1.6"/><circle cx="530.2" cy="238.9" r="1.6"/><circle cx="536.8" cy="238.9" r="1.6"/><circle cx="543.4" cy="239" r="1.6"/><circle cx="550" cy="239.2" r="1.6"/><circle cx="556.6" cy="239.6" r="1.6"/></g>
<g fill="none" stroke="#55e655" stroke-width="1.2"><circle cx="563.2" cy="240" r="2.6"/><circle cx="569.8" cy="240.6" r="2.6"/><circle cx="576.4" cy="241.4" r="2.6"/><circle cx="583" cy="242.4" r="2.6"/><circle cx="589.7" cy="243.7" r="2.6"/><circle cx="596.3" cy="245.3" r="2.6"/><circle cx="602.9" cy="247.1" r="2.6"/><circle cx="609.5" cy="248.9" r="2.6"/><circle cx="616.1" cy="250.6" r="2.6"/><circle cx="622.7" cy="252.3" r="2.6"/><circle cx="629.3" cy="253.7" r="2.6"/><circle cx="635.9" cy="255.1" r="2.6"/><circle cx="642.5" cy="256.4" r="2.6"/><circle cx="649.2" cy="257.7" r="2.6"/><circle cx="655.8" cy="259.1" r="2.6"/><circle cx="662.4" cy="260.3" r="2.6"/><circle cx="669" cy="261.3" r="2.6"/><circle cx="675.6" cy="262.1" r="2.6"/><circle cx="682.2" cy="262.6" r="2.6"/><circle cx="688.8" cy="262.9" r="2.6"/><circle cx="695.4" cy="263.1" r="2.6"/><circle cx="702" cy="263.2" r="2.6"/></g>
<g fill="none" stroke="#de1c30" stroke-width="1.05"><circle cx="437.6" cy="267.2" r="2.75"/><circle cx="444.2" cy="267.3" r="2.75"/><circle cx="450.8" cy="267.3" r="2.75"/><circle cx="457.4" cy="267.4" r="2.75"/><circle cx="464" cy="267.4" r="2.75"/><circle cx="470.7" cy="267.5" r="2.75"/><circle cx="477.3" cy="267.5" r="2.75"/><circle cx="483.9" cy="267.6" r="2.75"/><circle cx="490.5" cy="267.6" r="2.75"/><circle cx="497.1" cy="267.7" r="2.75"/><circle cx="503.7" cy="267.7" r="2.75"/><circle cx="510.3" cy="267.8" r="2.75"/><circle cx="516.9" cy="267.8" r="2.75"/><circle cx="523.5" cy="267.9" r="2.75"/><circle cx="530.2" cy="268" r="2.75"/><circle cx="536.8" cy="268" r="2.75"/><circle cx="543.4" cy="268.1" r="2.75"/><circle cx="550" cy="268.1" r="2.75"/><circle cx="556.6" cy="268.2" r="2.75"/><circle cx="563.2" cy="268.3" r="2.75"/><circle cx="569.8" cy="268.3" r="2.75"/><circle cx="576.4" cy="268.4" r="2.75"/><circle cx="583" cy="268.5" r="2.75"/><circle cx="589.7" cy="268.6" r="2.75"/><circle cx="596.3" cy="268.6" r="2.75"/><circle cx="602.9" cy="268.7" r="2.75"/><circle cx="609.5" cy="268.8" r="2.75"/><circle cx="616.1" cy="268.9" r="2.75"/><circle cx="622.7" cy="268.9" r="2.75"/><circle cx="629.3" cy="269" r="2.75"/><circle cx="635.9" cy="269.1" r="2.75"/><circle cx="642.5" cy="269.2" r="2.75"/><circle cx="649.2" cy="269.3" r="2.75"/><circle cx="655.8" cy="269.4" r="2.75"/><circle cx="662.4" cy="269.4" r="2.75"/><circle cx="669" cy="269.5" r="2.75"/><circle cx="675.6" cy="269.6" r="2.75"/><circle cx="682.2" cy="269.7" r="2.75"/><circle cx="688.8" cy="269.8" r="2.75"/><circle cx="695.4" cy="269.9" r="2.75"/><circle cx="702" cy="270" r="2.75"/><circle cx="437.6" cy="299.5" r="2.75"/><circle cx="444.2" cy="299.4" r="2.75"/><circle cx="450.8" cy="299" r="2.75"/><circle cx="457.4" cy="298.2" r="2.75"/><circle cx="464" cy="296.9" r="2.75"/><circle cx="470.7" cy="295.4" r="2.75"/><circle cx="477.3" cy="293.8" r="2.75"/><circle cx="483.9" cy="292.2" r="2.75"/><circle cx="490.5" cy="290.3" r="2.75"/><circle cx="497.1" cy="287.9" r="2.75"/></g>
<g fill="none" stroke="#de1c30" stroke-width="1.1"><circle cx="437.6" cy="298" r="2.75"/><circle cx="444.2" cy="298" r="2.75"/><circle cx="450.8" cy="297.8" r="2.75"/><circle cx="457.4" cy="297.2" r="2.75"/><circle cx="464" cy="296.1" r="2.75"/><circle cx="470.7" cy="294.7" r="2.75"/><circle cx="477.3" cy="293.3" r="2.75"/><circle cx="483.9" cy="291.8" r="2.75"/><circle cx="490.5" cy="290" r="2.75"/><circle cx="497.1" cy="287.7" r="2.75"/><circle cx="503.7" cy="285" r="2.75"/><circle cx="510.3" cy="282.2" r="2.75"/><circle cx="516.9" cy="279.2" r="2.75"/><circle cx="523.5" cy="276.1" r="2.75"/><circle cx="530.2" cy="272.6" r="2.75"/><circle cx="536.8" cy="268.6" r="2.75"/><circle cx="543.4" cy="264.3" r="2.75"/><circle cx="550" cy="260.1" r="2.75"/><circle cx="556.6" cy="256.4" r="2.75"/><circle cx="563.2" cy="252.9" r="2.75"/><circle cx="569.8" cy="249.1" r="2.75"/><circle cx="576.4" cy="244.7" r="2.75"/><circle cx="583" cy="240" r="2.75"/><circle cx="589.7" cy="235.6" r="2.75"/><circle cx="596.3" cy="231.8" r="2.75"/><circle cx="602.9" cy="228.5" r="2.75"/><circle cx="609.5" cy="225.8" r="2.75"/><circle cx="616.1" cy="223.4" r="2.75"/><circle cx="622.7" cy="221.1" r="2.75"/><circle cx="629.3" cy="218.6" r="2.75"/><circle cx="635.9" cy="216" r="2.75"/><circle cx="642.5" cy="213.9" r="2.75"/></g>
<g fill="none" stroke="#de1c30" stroke-width="1.6"><circle cx="649.2" cy="212.7" r="1.9"/><circle cx="655.8" cy="212.5" r="1.9"/><circle cx="662.4" cy="212.7" r="1.9"/><circle cx="669" cy="213" r="1.9"/><circle cx="675.6" cy="213.3" r="1.9"/><circle cx="682.2" cy="213.5" r="1.9"/><circle cx="688.8" cy="213.7" r="1.9"/><circle cx="695.4" cy="213.9" r="1.9"/><circle cx="702" cy="214.1" r="1.9"/></g>
<g fill="none" stroke="#d01c2c" stroke-width="1.6"><circle cx="437.6" cy="368.9" r="1.45"/><circle cx="444.2" cy="369" r="1.45"/><circle cx="450.8" cy="369" r="1.45"/><circle cx="457.4" cy="369.1" r="1.45"/><circle cx="464" cy="369.2" r="1.45"/><circle cx="470.7" cy="369.4" r="1.45"/><circle cx="477.3" cy="369.6" r="1.45"/><circle cx="483.9" cy="369.9" r="1.45"/><circle cx="490.5" cy="370.3" r="1.45"/><circle cx="497.1" cy="370.8" r="1.45"/><circle cx="503.7" cy="371.6" r="1.45"/><circle cx="510.3" cy="372.6" r="1.45"/><circle cx="516.9" cy="373.6" r="1.45"/><circle cx="523.5" cy="374.6" r="1.45"/><circle cx="530.2" cy="375.7" r="1.45"/><circle cx="536.8" cy="377.1" r="1.45"/><circle cx="543.4" cy="378.2" r="1.45"/><circle cx="550" cy="379.1" r="1.45"/><circle cx="556.6" cy="379.8" r="1.45"/><circle cx="563.2" cy="380.3" r="1.45"/><circle cx="569.8" cy="380.8" r="1.45"/><circle cx="576.4" cy="381.3" r="1.45"/><circle cx="583" cy="381.8" r="1.45"/><circle cx="589.7" cy="382.2" r="1.45"/><circle cx="596.3" cy="382.7" r="1.45"/><circle cx="602.9" cy="383.1" r="1.45"/><circle cx="609.5" cy="383.5" r="1.45"/><circle cx="616.1" cy="383.9" r="1.45"/><circle cx="622.7" cy="384.3" r="1.45"/><circle cx="629.3" cy="384.6" r="1.45"/><circle cx="635.9" cy="385" r="1.45"/><circle cx="642.5" cy="385.3" r="1.45"/><circle cx="649.2" cy="385.7" r="1.45"/><circle cx="655.8" cy="386" r="1.45"/><circle cx="662.4" cy="386.4" r="1.45"/><circle cx="669" cy="386.7" r="1.45"/><circle cx="675.6" cy="387" r="1.45"/><circle cx="682.2" cy="387.3" r="1.45"/><circle cx="688.8" cy="387.6" r="1.45"/><circle cx="695.4" cy="388" r="1.45"/><circle cx="702" cy="388.3" r="1.45"/><circle cx="437.6" cy="374.7" r="1.45"/><circle cx="444.2" cy="374.6" r="1.45"/><circle cx="450.8" cy="374.6" r="1.45"/><circle cx="457.4" cy="374.6" r="1.45"/><circle cx="464" cy="374.6" r="1.45"/><circle cx="470.7" cy="374.7" r="1.45"/><circle cx="477.3" cy="374.8" r="1.45"/><circle cx="483.9" cy="374.9" r="1.45"/><circle cx="490.5" cy="375.1" r="1.45"/><circle cx="497.1" cy="375.4" r="1.45"/><circle cx="503.7" cy="375.7" r="1.45"/><circle cx="510.3" cy="376" r="1.45"/><circle cx="516.9" cy="376.2" r="1.45"/><circle cx="523.5" cy="376.4" r="1.45"/><circle cx="530.2" cy="376.7" r="1.45"/><circle cx="536.8" cy="377.1" r="1.45"/><circle cx="543.4" cy="377.7" r="1.45"/><circle cx="550" cy="378.4" r="1.45"/><circle cx="556.6" cy="379.3" r="1.45"/><circle cx="563.2" cy="380.2" r="1.45"/><circle cx="569.8" cy="381" r="1.45"/><circle cx="576.4" cy="381.8" r="1.45"/><circle cx="583" cy="382.5" r="1.45"/><circle cx="589.7" cy="383.1" r="1.45"/><circle cx="596.3" cy="383.7" r="1.45"/><circle cx="602.9" cy="384.3" r="1.45"/><circle cx="609.5" cy="384.8" r="1.45"/><circle cx="616.1" cy="385.2" r="1.45"/><circle cx="622.7" cy="385.6" r="1.45"/><circle cx="629.3" cy="386" r="1.45"/><circle cx="635.9" cy="386.3" r="1.45"/><circle cx="642.5" cy="386.6" r="1.45"/><circle cx="649.2" cy="386.9" r="1.45"/><circle cx="655.8" cy="387.1" r="1.45"/><circle cx="662.4" cy="387.3" r="1.45"/><circle cx="669" cy="387.5" r="1.45"/><circle cx="675.6" cy="387.7" r="1.45"/><circle cx="682.2" cy="387.8" r="1.45"/><circle cx="688.8" cy="388" r="1.45"/><circle cx="695.4" cy="388.1" r="1.45"/><circle cx="702" cy="388.3" r="1.45"/></g>
<g fill="none" stroke="#55e655" stroke-width="1.4"><circle cx="437.6" cy="417.5" r="1.2"/><circle cx="444.2" cy="417.5" r="1.2"/><circle cx="450.8" cy="417.5" r="1.2"/><circle cx="457.4" cy="417.5" r="1.2"/><circle cx="464" cy="417.6" r="1.2"/><circle cx="470.7" cy="417.8" r="1.2"/><circle cx="477.3" cy="418.1" r="1.2"/><circle cx="483.9" cy="418.5" r="1.2"/><circle cx="490.5" cy="419" r="1.2"/><circle cx="497.1" cy="419.6" r="1.2"/><circle cx="503.7" cy="420.3" r="1.2"/><circle cx="510.3" cy="421.2" r="1.2"/><circle cx="516.9" cy="422.3" r="1.2"/><circle cx="523.5" cy="423.5" r="1.2"/><circle cx="530.2" cy="424.9" r="1.2"/><circle cx="536.8" cy="426.4" r="1.2"/><circle cx="543.4" cy="428.1" r="1.2"/><circle cx="550" cy="429.8" r="1.2"/><circle cx="556.6" cy="431.6" r="1.2"/><circle cx="563.2" cy="433.5" r="1.2"/><circle cx="569.8" cy="435.6" r="1.2"/><circle cx="576.4" cy="438.1" r="1.2"/><circle cx="583" cy="440.7" r="1.2"/><circle cx="589.7" cy="443.6" r="1.2"/><circle cx="596.3" cy="446.7" r="1.2"/><circle cx="602.9" cy="449.7" r="1.2"/><circle cx="609.5" cy="452.6" r="1.2"/><circle cx="616.1" cy="455.3" r="1.2"/><circle cx="622.7" cy="458.2" r="1.2"/><circle cx="629.3" cy="461.7" r="1.2"/><circle cx="635.9" cy="465.9" r="1.2"/><circle cx="642.5" cy="470.4" r="1.2"/><circle cx="649.2" cy="474.5" r="1.2"/><circle cx="655.8" cy="477.9" r="1.2"/><circle cx="662.4" cy="481" r="1.2"/><circle cx="669" cy="484.3" r="1.2"/><circle cx="675.6" cy="488.1" r="1.2"/><circle cx="682.2" cy="492.6" r="1.2"/><circle cx="688.8" cy="497.5" r="1.2"/><circle cx="695.4" cy="502.9" r="1.2"/></g>
<g fill="none" stroke="#55e655" stroke-width="1.5"><circle cx="437.6" cy="431.4" r="1.5"/><circle cx="444.2" cy="431.4" r="1.5"/><circle cx="450.8" cy="431.6" r="1.5"/><circle cx="457.4" cy="432.2" r="1.5"/><circle cx="464" cy="433.1" r="1.5"/><circle cx="470.7" cy="434.4" r="1.5"/><circle cx="477.3" cy="436.2" r="1.5"/><circle cx="483.9" cy="438.4" r="1.5"/><circle cx="490.5" cy="440.8" r="1.5"/><circle cx="497.1" cy="443.2" r="1.5"/><circle cx="503.7" cy="445.6" r="1.5"/><circle cx="510.3" cy="448.1" r="1.5"/><circle cx="516.9" cy="450.7" r="1.5"/><circle cx="523.5" cy="453.3" r="1.5"/><circle cx="530.2" cy="455.8" r="1.5"/><circle cx="536.8" cy="458.1" r="1.5"/><circle cx="543.4" cy="460.2" r="1.5"/><circle cx="550" cy="461.9" r="1.5"/><circle cx="556.6" cy="463.4" r="1.5"/><circle cx="563.2" cy="464.8" r="1.5"/><circle cx="569.8" cy="466.1" r="1.5"/><circle cx="576.4" cy="467.5" r="1.5"/><circle cx="583" cy="468.9" r="1.5"/><circle cx="589.7" cy="470.4" r="1.5"/><circle cx="596.3" cy="472.2" r="1.5"/><circle cx="602.9" cy="474.1" r="1.5"/><circle cx="609.5" cy="476.2" r="1.5"/><circle cx="616.1" cy="478.4" r="1.5"/><circle cx="622.7" cy="480.7" r="1.5"/><circle cx="629.3" cy="482.9" r="1.5"/><circle cx="635.9" cy="485.2" r="1.5"/><circle cx="642.5" cy="487.7" r="1.5"/><circle cx="649.2" cy="490.6" r="1.5"/><circle cx="655.8" cy="494" r="1.5"/><circle cx="662.4" cy="498" r="1.5"/><circle cx="437.6" cy="442.1" r="1.5"/><circle cx="444.2" cy="442.2" r="1.5"/><circle cx="450.8" cy="442.3" r="1.5"/><circle cx="457.4" cy="442.5" r="1.5"/><circle cx="464" cy="442.8" r="1.5"/><circle cx="470.7" cy="443.2" r="1.5"/><circle cx="477.3" cy="443.8" r="1.5"/><circle cx="483.9" cy="444.6" r="1.5"/><circle cx="490.5" cy="445.6" r="1.5"/><circle cx="497.1" cy="446.8" r="1.5"/><circle cx="503.7" cy="448.2" r="1.5"/><circle cx="510.3" cy="449.8" r="1.5"/><circle cx="516.9" cy="451.5" r="1.5"/><circle cx="523.5" cy="453.3" r="1.5"/><circle cx="530.2" cy="455.2" r="1.5"/><circle cx="536.8" cy="457.2" r="1.5"/><circle cx="437.6" cy="454.9" r="1.5"/><circle cx="444.2" cy="454.7" r="1.5"/><circle cx="450.8" cy="454.6" r="1.5"/><circle cx="457.4" cy="454.6" r="1.5"/><circle cx="464" cy="454.9" r="1.5"/><circle cx="470.7" cy="455.5" r="1.5"/><circle cx="477.3" cy="456.5" r="1.5"/><circle cx="483.9" cy="457.9" r="1.5"/><circle cx="490.5" cy="459.5" r="1.5"/><circle cx="497.1" cy="461.2" r="1.5"/><circle cx="503.7" cy="463" r="1.5"/><circle cx="510.3" cy="464.6" r="1.5"/><circle cx="516.9" cy="466.2" r="1.5"/><circle cx="523.5" cy="467.7" r="1.5"/><circle cx="530.2" cy="469.2" r="1.5"/><circle cx="536.8" cy="470.6" r="1.5"/><circle cx="543.4" cy="472.1" r="1.5"/><circle cx="550" cy="473.5" r="1.5"/><circle cx="556.6" cy="475" r="1.5"/><circle cx="563.2" cy="476.4" r="1.5"/><circle cx="569.8" cy="477.9" r="1.5"/><circle cx="576.4" cy="479.3" r="1.5"/><circle cx="583" cy="480.8" r="1.5"/><circle cx="589.7" cy="482.6" r="1.5"/><circle cx="596.3" cy="484.7" r="1.5"/><circle cx="602.9" cy="487.2" r="1.5"/><circle cx="609.5" cy="490.3" r="1.5"/><circle cx="616.1" cy="494" r="1.5"/><circle cx="622.7" cy="498.1" r="1.5"/></g>
<g fill="none" stroke="#2c2cd0" stroke-width="1.5"><circle cx="437.6" cy="447.6" r="2.15"/><circle cx="444.2" cy="447.6" r="2.15"/><circle cx="450.8" cy="447.6" r="2.15"/><circle cx="457.4" cy="447.5" r="2.15"/><circle cx="464" cy="447.5" r="2.15"/><circle cx="470.7" cy="447.4" r="2.15"/><circle cx="477.3" cy="447.3" r="2.15"/><circle cx="483.9" cy="447.2" r="2.15"/><circle cx="490.5" cy="447" r="2.15"/><circle cx="497.1" cy="446.7" r="2.15"/><circle cx="503.7" cy="446.4" r="2.15"/><circle cx="510.3" cy="446" r="2.15"/><circle cx="516.9" cy="445.5" r="2.15"/><circle cx="523.5" cy="445.1" r="2.15"/><circle cx="530.2" cy="444.6" r="2.15"/><circle cx="536.8" cy="444.1" r="2.15"/><circle cx="543.4" cy="443.6" r="2.15"/><circle cx="550" cy="443.1" r="2.15"/><circle cx="556.6" cy="442.7" r="2.15"/><circle cx="563.2" cy="442.3" r="2.15"/><circle cx="569.8" cy="441.8" r="2.15"/><circle cx="576.4" cy="441.4" r="2.15"/><circle cx="583" cy="441" r="2.15"/><circle cx="589.7" cy="440.7" r="2.15"/><circle cx="596.3" cy="440.3" r="2.15"/><circle cx="602.9" cy="439.9" r="2.15"/><circle cx="609.5" cy="439.5" r="2.15"/><circle cx="616.1" cy="439.1" r="2.15"/><circle cx="622.7" cy="438.7" r="2.15"/><circle cx="629.3" cy="438.4" r="2.15"/><circle cx="635.9" cy="438" r="2.15"/><circle cx="642.5" cy="437.6" r="2.15"/><circle cx="649.2" cy="437.3" r="2.15"/><circle cx="655.8" cy="436.9" r="2.15"/><circle cx="662.4" cy="436.6" r="2.15"/><circle cx="669" cy="436.3" r="2.15"/><circle cx="675.6" cy="436" r="2.15"/><circle cx="682.2" cy="435.8" r="2.15"/><circle cx="688.8" cy="435.6" r="2.15"/><circle cx="695.4" cy="435.3" r="2.15"/><circle cx="702" cy="435.1" r="2.15"/></g>
<g fill="#5a2030"><circle cx="437.6" cy="53.8" r="0.8"/><circle cx="444.2" cy="53.6" r="0.8"/><circle cx="450.8" cy="53.3" r="0.8"/><circle cx="457.4" cy="52.9" r="0.8"/><circle cx="464" cy="52.3" r="0.8"/><circle cx="470.7" cy="51.2" r="0.8"/><circle cx="477.3" cy="49.4" r="0.8"/><circle cx="483.9" cy="47.2" r="0.8"/><circle cx="490.5" cy="45.1" r="0.8"/><circle cx="497.1" cy="43.1" r="0.8"/><circle cx="503.7" cy="41.2" r="0.8"/><circle cx="510.3" cy="39.6" r="0.8"/><circle cx="516.9" cy="38.1" r="0.8"/><circle cx="523.5" cy="36.8" r="0.8"/><circle cx="530.2" cy="35.7" r="0.8"/><circle cx="536.8" cy="34.8" r="0.8"/><circle cx="543.4" cy="34.1" r="0.8"/><circle cx="550" cy="33.7" r="0.8"/><circle cx="556.6" cy="33.5" r="0.8"/><circle cx="563.2" cy="33.5" r="0.8"/><circle cx="569.8" cy="33.8" r="0.8"/><circle cx="576.4" cy="34.4" r="0.8"/><circle cx="583" cy="35.6" r="0.8"/><circle cx="589.7" cy="37.5" r="0.8"/><circle cx="596.3" cy="40.2" r="0.8"/><circle cx="602.9" cy="43.7" r="0.8"/><circle cx="609.5" cy="47.1" r="0.8"/><circle cx="616.1" cy="49.7" r="0.8"/><circle cx="622.7" cy="50.9" r="0.8"/><circle cx="629.3" cy="51.4" r="0.8"/><circle cx="635.9" cy="51.6" r="0.8"/><circle cx="642.5" cy="52.3" r="0.8"/><circle cx="649.2" cy="53.5" r="0.8"/><circle cx="655.8" cy="55.1" r="0.8"/><circle cx="662.4" cy="56.6" r="0.8"/><circle cx="669" cy="58" r="0.8"/><circle cx="675.6" cy="59.2" r="0.8"/><circle cx="682.2" cy="60" r="0.8"/><circle cx="688.8" cy="60.5" r="0.8"/><circle cx="695.4" cy="60.6" r="0.8"/><circle cx="702" cy="60.7" r="0.8"/></g>
<g fill="#2a2a2a"><circle cx="437.6" cy="58" r="0.75"/><circle cx="444.2" cy="58" r="0.75"/><circle cx="450.8" cy="57.9" r="0.75"/><circle cx="457.4" cy="57.9" r="0.75"/><circle cx="464" cy="57.8" r="0.75"/><circle cx="470.7" cy="57.6" r="0.75"/><circle cx="477.3" cy="57.4" r="0.75"/><circle cx="483.9" cy="57.1" r="0.75"/><circle cx="490.5" cy="56.7" r="0.75"/><circle cx="497.1" cy="56.2" r="0.75"/><circle cx="503.7" cy="55.7" r="0.75"/><circle cx="510.3" cy="55.1" r="0.75"/><circle cx="516.9" cy="54.7" r="0.75"/><circle cx="523.5" cy="54.3" r="0.75"/><circle cx="530.2" cy="53.9" r="0.75"/><circle cx="536.8" cy="53.4" r="0.75"/><circle cx="543.4" cy="52.7" r="0.75"/><circle cx="550" cy="51.8" r="0.75"/><circle cx="556.6" cy="50.6" r="0.75"/><circle cx="563.2" cy="49.1" r="0.75"/><circle cx="569.8" cy="47.8" r="0.75"/><circle cx="576.4" cy="46.8" r="0.75"/><circle cx="583" cy="46.1" r="0.75"/><circle cx="589.7" cy="45.9" r="0.75"/><circle cx="596.3" cy="46.4" r="0.75"/><circle cx="602.9" cy="47.7" r="0.75"/><circle cx="609.5" cy="49.6" r="0.75"/><circle cx="616.1" cy="51.4" r="0.75"/><circle cx="622.7" cy="52.6" r="0.75"/><circle cx="629.3" cy="53.4" r="0.75"/><circle cx="635.9" cy="54.1" r="0.75"/><circle cx="642.5" cy="54.9" r="0.75"/><circle cx="649.2" cy="56" r="0.75"/><circle cx="655.8" cy="57.1" r="0.75"/><circle cx="662.4" cy="58.3" r="0.75"/><circle cx="669" cy="59.2" r="0.75"/><circle cx="675.6" cy="59.8" r="0.75"/><circle cx="682.2" cy="60.2" r="0.75"/><circle cx="688.8" cy="60.4" r="0.75"/><circle cx="695.4" cy="60.6" r="0.75"/><circle cx="702" cy="60.7" r="0.75"/><circle cx="635.9" cy="43.1" r="0.75"/><circle cx="642.5" cy="45" r="0.75"/><circle cx="649.2" cy="46.6" r="0.75"/><circle cx="655.8" cy="47.8" r="0.75"/><circle cx="662.4" cy="48.7" r="0.75"/><circle cx="669" cy="49.3" r="0.75"/><circle cx="675.6" cy="49.9" r="0.75"/><circle cx="682.2" cy="50.3" r="0.75"/><circle cx="688.8" cy="50.6" r="0.75"/><circle cx="695.4" cy="50.9" r="0.75"/><circle cx="702" cy="51.1" r="0.75"/><circle cx="642.5" cy="42.2" r="0.75"/><circle cx="649.2" cy="44.5" r="0.75"/><circle cx="655.8" cy="46.5" r="0.75"/><circle cx="662.4" cy="48.3" r="0.75"/><circle cx="669" cy="49.8" r="0.75"/><circle cx="675.6" cy="51" r="0.75"/><circle cx="682.2" cy="52" r="0.75"/><circle cx="688.8" cy="52.7" r="0.75"/><circle cx="695.4" cy="53.2" r="0.75"/><circle cx="702" cy="53.7" r="0.75"/><circle cx="437.6" cy="71.7" r="0.75"/><circle cx="444.2" cy="72" r="0.75"/><circle cx="450.8" cy="72.2" r="0.75"/><circle cx="457.4" cy="72.2" r="0.75"/><circle cx="464" cy="72" r="0.75"/><circle cx="470.7" cy="71.5" r="0.75"/><circle cx="477.3" cy="70.7" r="0.75"/><circle cx="483.9" cy="69.6" r="0.75"/><circle cx="490.5" cy="68.3" r="0.75"/><circle cx="497.1" cy="67.1" r="0.75"/><circle cx="503.7" cy="65.7" r="0.75"/><circle cx="510.3" cy="64.2" r="0.75"/><circle cx="516.9" cy="62.4" r="0.75"/><circle cx="523.5" cy="60.5" r="0.75"/><circle cx="530.2" cy="58.4" r="0.75"/><circle cx="536.8" cy="56.3" r="0.75"/><circle cx="543.4" cy="54.5" r="0.75"/><circle cx="550" cy="53.1" r="0.75"/><circle cx="556.6" cy="52" r="0.75"/><circle cx="563.2" cy="51.2" r="0.75"/><circle cx="569.8" cy="50.6" r="0.75"/><circle cx="576.4" cy="50.1" r="0.75"/><circle cx="583" cy="49.9" r="0.75"/><circle cx="589.7" cy="49.9" r="0.75"/><circle cx="596.3" cy="50.3" r="0.75"/><circle cx="602.9" cy="51.3" r="0.75"/><circle cx="609.5" cy="53" r="0.75"/><circle cx="616.1" cy="54.7" r="0.75"/><circle cx="622.7" cy="56.2" r="0.75"/><circle cx="629.3" cy="57.5" r="0.75"/><circle cx="635.9" cy="58.6" r="0.75"/><circle cx="642.5" cy="59.7" r="0.75"/><circle cx="649.2" cy="60.8" r="0.75"/><circle cx="655.8" cy="62.2" r="0.75"/><circle cx="662.4" cy="63.8" r="0.75"/><circle cx="669" cy="65.4" r="0.75"/><circle cx="675.6" cy="67.1" r="0.75"/><circle cx="682.2" cy="68.6" r="0.75"/><circle cx="688.8" cy="69.8" r="0.75"/><circle cx="695.4" cy="70.7" r="0.75"/><circle cx="702" cy="71.3" r="0.75"/><circle cx="437.6" cy="85.5" r="0.75"/><circle cx="444.2" cy="85.9" r="0.75"/><circle cx="450.8" cy="86.1" r="0.75"/><circle cx="457.4" cy="86.2" r="0.75"/><circle cx="464" cy="86" r="0.75"/><circle cx="470.7" cy="85.4" r="0.75"/><circle cx="477.3" cy="84.4" r="0.75"/><circle cx="483.9" cy="82.9" r="0.75"/><circle cx="490.5" cy="81.2" r="0.75"/><circle cx="497.1" cy="79.3" r="0.75"/><circle cx="503.7" cy="77.3" r="0.75"/><circle cx="510.3" cy="75.1" r="0.75"/><circle cx="516.9" cy="72.5" r="0.75"/><circle cx="523.5" cy="69.5" r="0.75"/><circle cx="530.2" cy="66.4" r="0.75"/><circle cx="536.8" cy="63.2" r="0.75"/><circle cx="543.4" cy="60.2" r="0.75"/><circle cx="550" cy="57.5" r="0.75"/><circle cx="556.6" cy="55.3" r="0.75"/><circle cx="563.2" cy="53.6" r="0.75"/><circle cx="569.8" cy="52.4" r="0.75"/><circle cx="576.4" cy="51.8" r="0.75"/><circle cx="583" cy="51.8" r="0.75"/><circle cx="589.7" cy="52.3" r="0.75"/><circle cx="596.3" cy="53.5" r="0.75"/><circle cx="602.9" cy="55.4" r="0.75"/><circle cx="609.5" cy="58" r="0.75"/><circle cx="616.1" cy="60.7" r="0.75"/><circle cx="622.7" cy="63" r="0.75"/><circle cx="629.3" cy="65" r="0.75"/><circle cx="635.9" cy="66.9" r="0.75"/><circle cx="642.5" cy="68.7" r="0.75"/><circle cx="649.2" cy="70.7" r="0.75"/><circle cx="655.8" cy="72.8" r="0.75"/><circle cx="662.4" cy="74.7" r="0.75"/><circle cx="669" cy="76.4" r="0.75"/><circle cx="675.6" cy="77.6" r="0.75"/><circle cx="682.2" cy="78.6" r="0.75"/><circle cx="688.8" cy="79.2" r="0.75"/><circle cx="695.4" cy="79.8" r="0.75"/><circle cx="702" cy="80.2" r="0.75"/><circle cx="437.6" cy="90.4" r="0.75"/><circle cx="444.2" cy="90.9" r="0.75"/><circle cx="450.8" cy="91.2" r="0.75"/><circle cx="457.4" cy="91.2" r="0.75"/><circle cx="464" cy="90.7" r="0.75"/><circle cx="470.7" cy="89.4" r="0.75"/><circle cx="477.3" cy="87.3" r="0.75"/><circle cx="483.9" cy="84.6" r="0.75"/><circle cx="490.5" cy="81.9" r="0.75"/><circle cx="497.1" cy="79.8" r="0.75"/><circle cx="503.7" cy="77.9" r="0.75"/><circle cx="510.3" cy="76.2" r="0.75"/><circle cx="516.9" cy="74.3" r="0.75"/><circle cx="523.5" cy="72.1" r="0.75"/><circle cx="530.2" cy="69.6" r="0.75"/><circle cx="536.8" cy="67.1" r="0.75"/><circle cx="543.4" cy="64.8" r="0.75"/><circle cx="550" cy="62.8" r="0.75"/><circle cx="556.6" cy="61.1" r="0.75"/><circle cx="563.2" cy="59.9" r="0.75"/><circle cx="569.8" cy="59.2" r="0.75"/><circle cx="576.4" cy="58.9" r="0.75"/><circle cx="583" cy="59.2" r="0.75"/><circle cx="589.7" cy="60" r="0.75"/><circle cx="596.3" cy="61.3" r="0.75"/><circle cx="602.9" cy="63.1" r="0.75"/><circle cx="609.5" cy="65.3" r="0.75"/><circle cx="616.1" cy="67.4" r="0.75"/><circle cx="622.7" cy="69.4" r="0.75"/><circle cx="629.3" cy="71.2" r="0.75"/><circle cx="635.9" cy="73" r="0.75"/><circle cx="642.5" cy="74.9" r="0.75"/><circle cx="649.2" cy="76.9" r="0.75"/><circle cx="655.8" cy="78.8" r="0.75"/><circle cx="662.4" cy="80.6" r="0.75"/><circle cx="669" cy="82" r="0.75"/><circle cx="675.6" cy="83" r="0.75"/><circle cx="682.2" cy="83.8" r="0.75"/><circle cx="688.8" cy="84.2" r="0.75"/><circle cx="695.4" cy="84.5" r="0.75"/><circle cx="702" cy="84.6" r="0.75"/><circle cx="437.6" cy="105.5" r="0.75"/><circle cx="444.2" cy="105.8" r="0.75"/><circle cx="450.8" cy="105.9" r="0.75"/><circle cx="457.4" cy="105.7" r="0.75"/><circle cx="464" cy="104.9" r="0.75"/><circle cx="470.7" cy="103.4" r="0.75"/><circle cx="477.3" cy="101.5" r="0.75"/><circle cx="483.9" cy="99.1" r="0.75"/><circle cx="490.5" cy="96.5" r="0.75"/><circle cx="497.1" cy="93.9" r="0.75"/><circle cx="503.7" cy="91.1" r="0.75"/><circle cx="510.3" cy="88.2" r="0.75"/><circle cx="516.9" cy="85.2" r="0.75"/><circle cx="523.5" cy="82.1" r="0.75"/><circle cx="530.2" cy="79" r="0.75"/><circle cx="536.8" cy="76.1" r="0.75"/><circle cx="543.4" cy="73.8" r="0.75"/><circle cx="550" cy="72.1" r="0.75"/><circle cx="556.6" cy="71.1" r="0.75"/><circle cx="563.2" cy="70.5" r="0.75"/><circle cx="569.8" cy="70.2" r="0.75"/><circle cx="576.4" cy="70" r="0.75"/><circle cx="583" cy="70" r="0.75"/><circle cx="589.7" cy="70.4" r="0.75"/><circle cx="596.3" cy="71.5" r="0.75"/><circle cx="602.9" cy="73.3" r="0.75"/><circle cx="609.5" cy="75.7" r="0.75"/><circle cx="616.1" cy="78.3" r="0.75"/><circle cx="622.7" cy="80.5" r="0.75"/><circle cx="629.3" cy="82.5" r="0.75"/><circle cx="635.9" cy="84.4" r="0.75"/><circle cx="642.5" cy="86.2" r="0.75"/><circle cx="649.2" cy="88" r="0.75"/><circle cx="655.8" cy="89.8" r="0.75"/><circle cx="662.4" cy="91.4" r="0.75"/><circle cx="669" cy="92.7" r="0.75"/><circle cx="675.6" cy="93.7" r="0.75"/><circle cx="682.2" cy="94.5" r="0.75"/><circle cx="688.8" cy="95" r="0.75"/><circle cx="695.4" cy="95.2" r="0.75"/><circle cx="702" cy="95.4" r="0.75"/><circle cx="437.6" cy="425.5" r="0.75"/><circle cx="444.2" cy="425.6" r="0.75"/><circle cx="450.8" cy="425.7" r="0.75"/><circle cx="457.4" cy="425.8" r="0.75"/><circle cx="464" cy="426" r="0.75"/><circle cx="470.7" cy="426.1" r="0.75"/><circle cx="477.3" cy="426.4" r="0.75"/><circle cx="483.9" cy="426.7" r="0.75"/><circle cx="490.5" cy="427.3" r="0.75"/><circle cx="497.1" cy="428.2" r="0.75"/><circle cx="503.7" cy="429.6" r="0.75"/><circle cx="510.3" cy="431.5" r="0.75"/><circle cx="516.9" cy="433.8" r="0.75"/><circle cx="523.5" cy="436.2" r="0.75"/><circle cx="530.2" cy="438.4" r="0.75"/><circle cx="536.8" cy="440.4" r="0.75"/><circle cx="543.4" cy="442.1" r="0.75"/><circle cx="550" cy="443.7" r="0.75"/><circle cx="556.6" cy="445.4" r="0.75"/><circle cx="563.2" cy="447.4" r="0.75"/><circle cx="569.8" cy="449.8" r="0.75"/><circle cx="576.4" cy="452.4" r="0.75"/><circle cx="583" cy="455.2" r="0.75"/><circle cx="589.7" cy="458.1" r="0.75"/><circle cx="596.3" cy="461" r="0.75"/><circle cx="602.9" cy="463.8" r="0.75"/><circle cx="609.5" cy="466.5" r="0.75"/><circle cx="616.1" cy="469.2" r="0.75"/><circle cx="622.7" cy="471.9" r="0.75"/><circle cx="629.3" cy="474.7" r="0.75"/><circle cx="635.9" cy="477.7" r="0.75"/><circle cx="642.5" cy="480.8" r="0.75"/><circle cx="649.2" cy="484.2" r="0.75"/><circle cx="655.8" cy="487.7" r="0.75"/><circle cx="662.4" cy="491.2" r="0.75"/><circle cx="669" cy="494.9" r="0.75"/><circle cx="675.6" cy="498.5" r="0.75"/><circle cx="437.6" cy="464.2" r="0.75"/><circle cx="444.2" cy="463.9" r="0.75"/><circle cx="450.8" cy="463.7" r="0.75"/><circle cx="457.4" cy="463.8" r="0.75"/><circle cx="464" cy="464.1" r="0.75"/><circle cx="470.7" cy="464.8" r="0.75"/><circle cx="477.3" cy="466" r="0.75"/><circle cx="483.9" cy="467.6" r="0.75"/><circle cx="490.5" cy="469.5" r="0.75"/><circle cx="497.1" cy="471.6" r="0.75"/><circle cx="503.7" cy="473.8" r="0.75"/><circle cx="510.3" cy="475.9" r="0.75"/><circle cx="516.9" cy="477.9" r="0.75"/><circle cx="523.5" cy="479.9" r="0.75"/><circle cx="530.2" cy="481.8" r="0.75"/><circle cx="536.8" cy="483.6" r="0.75"/><circle cx="543.4" cy="485.5" r="0.75"/><circle cx="550" cy="487.6" r="0.75"/><circle cx="556.6" cy="489.9" r="0.75"/><circle cx="563.2" cy="492.6" r="0.75"/><circle cx="569.8" cy="495.6" r="0.75"/><circle cx="437.6" cy="468" r="0.75"/><circle cx="444.2" cy="468" r="0.75"/><circle cx="450.8" cy="468" r="0.75"/><circle cx="457.4" cy="468.1" r="0.75"/><circle cx="464" cy="468.5" r="0.75"/><circle cx="470.7" cy="469.1" r="0.75"/><circle cx="477.3" cy="470.1" r="0.75"/><circle cx="483.9" cy="471.5" r="0.75"/><circle cx="490.5" cy="473.1" r="0.75"/><circle cx="497.1" cy="475" r="0.75"/><circle cx="503.7" cy="476.9" r="0.75"/><circle cx="510.3" cy="478.9" r="0.75"/><circle cx="516.9" cy="481" r="0.75"/><circle cx="523.5" cy="482.9" r="0.75"/><circle cx="530.2" cy="484.7" r="0.75"/><circle cx="536.8" cy="486.3" r="0.75"/><circle cx="543.4" cy="487.8" r="0.75"/><circle cx="550" cy="489.4" r="0.75"/><circle cx="556.6" cy="491.4" r="0.75"/><circle cx="563.2" cy="493.9" r="0.75"/><circle cx="569.8" cy="497" r="0.75"/><circle cx="437.6" cy="486.2" r="0.75"/><circle cx="444.2" cy="486.1" r="0.75"/><circle cx="450.8" cy="486" r="0.75"/><circle cx="457.4" cy="486" r="0.75"/><circle cx="464" cy="486.2" r="0.75"/><circle cx="470.7" cy="486.7" r="0.75"/><circle cx="477.3" cy="487.5" r="0.75"/><circle cx="483.9" cy="488.6" r="0.75"/><circle cx="490.5" cy="490" r="0.75"/><circle cx="497.1" cy="491.8" r="0.75"/><circle cx="503.7" cy="494" r="0.75"/><circle cx="510.3" cy="496.4" r="0.75"/></g>
<g fill="#4a3a5a"><circle cx="437.6" cy="127.4" r="0.7"/><circle cx="444.2" cy="127.3" r="0.7"/><circle cx="450.8" cy="127.2" r="0.7"/><circle cx="457.4" cy="127.4" r="0.7"/><circle cx="464" cy="127.9" r="0.7"/><circle cx="470.7" cy="128.9" r="0.7"/><circle cx="477.3" cy="130.1" r="0.7"/><circle cx="483.9" cy="131.4" r="0.7"/><circle cx="490.5" cy="132.8" r="0.7"/><circle cx="497.1" cy="134.4" r="0.7"/><circle cx="503.7" cy="136.3" r="0.7"/><circle cx="510.3" cy="138.7" r="0.7"/><circle cx="516.9" cy="141.2" r="0.7"/><circle cx="523.5" cy="143.9" r="0.7"/><circle cx="530.2" cy="146.5" r="0.7"/><circle cx="536.8" cy="149.2" r="0.7"/><circle cx="543.4" cy="151.9" r="0.7"/><circle cx="550" cy="154.8" r="0.7"/><circle cx="556.6" cy="157.6" r="0.7"/><circle cx="563.2" cy="160.4" r="0.7"/><circle cx="569.8" cy="163" r="0.7"/><circle cx="576.4" cy="165.5" r="0.7"/><circle cx="583" cy="168" r="0.7"/><circle cx="589.7" cy="170.8" r="0.7"/><circle cx="596.3" cy="173.8" r="0.7"/><circle cx="602.9" cy="176.8" r="0.7"/><circle cx="609.5" cy="179.7" r="0.7"/><circle cx="616.1" cy="182.5" r="0.7"/><circle cx="622.7" cy="185" r="0.7"/><circle cx="629.3" cy="187" r="0.7"/><circle cx="635.9" cy="188.7" r="0.7"/><circle cx="642.5" cy="189.9" r="0.7"/><circle cx="649.2" cy="190.7" r="0.7"/><circle cx="655.8" cy="191.3" r="0.7"/><circle cx="662.4" cy="191.6" r="0.7"/><circle cx="669" cy="191.7" r="0.7"/><circle cx="675.6" cy="191.7" r="0.7"/><circle cx="682.2" cy="191.6" r="0.7"/><circle cx="688.8" cy="191.4" r="0.7"/><circle cx="695.4" cy="191.2" r="0.7"/><circle cx="702" cy="190.9" r="0.7"/></g>
<g fill="#1a1a80"><circle cx="437.6" cy="140.6" r="0.8"/><circle cx="444.2" cy="140.2" r="0.8"/><circle cx="450.8" cy="139.8" r="0.8"/><circle cx="457.4" cy="139.4" r="0.8"/><circle cx="464" cy="138.9" r="0.8"/><circle cx="470.7" cy="138.3" r="0.8"/><circle cx="477.3" cy="137.7" r="0.8"/><circle cx="483.9" cy="137.2" r="0.8"/><circle cx="490.5" cy="136.9" r="0.8"/><circle cx="497.1" cy="137.2" r="0.8"/><circle cx="503.7" cy="138.1" r="0.8"/><circle cx="510.3" cy="139.4" r="0.8"/><circle cx="516.9" cy="141.4" r="0.8"/><circle cx="523.5" cy="143.9" r="0.8"/><circle cx="530.2" cy="146.5" r="0.8"/><circle cx="536.8" cy="149.1" r="0.8"/><circle cx="543.4" cy="151.9" r="0.8"/><circle cx="550" cy="154.8" r="0.8"/><circle cx="556.6" cy="157.7" r="0.8"/><circle cx="563.2" cy="160.4" r="0.8"/><circle cx="569.8" cy="163" r="0.8"/><circle cx="576.4" cy="165.5" r="0.8"/><circle cx="583" cy="168" r="0.8"/><circle cx="589.7" cy="170.8" r="0.8"/><circle cx="596.3" cy="173.8" r="0.8"/><circle cx="602.9" cy="176.8" r="0.8"/><circle cx="609.5" cy="179.7" r="0.8"/><circle cx="616.1" cy="182.5" r="0.8"/><circle cx="622.7" cy="185" r="0.8"/><circle cx="629.3" cy="187" r="0.8"/><circle cx="635.9" cy="188.7" r="0.8"/><circle cx="642.5" cy="189.9" r="0.8"/><circle cx="649.2" cy="190.7" r="0.8"/><circle cx="655.8" cy="191.3" r="0.8"/><circle cx="662.4" cy="191.6" r="0.8"/><circle cx="669" cy="191.7" r="0.8"/><circle cx="675.6" cy="191.7" r="0.8"/><circle cx="682.2" cy="191.6" r="0.8"/><circle cx="688.8" cy="191.4" r="0.8"/><circle cx="695.4" cy="191.2" r="0.8"/><circle cx="702" cy="190.9" r="0.8"/></g>
<g fill="#707070"><circle cx="437.6" cy="154.2" r="0.7"/><circle cx="444.2" cy="154.1" r="0.7"/><circle cx="450.8" cy="154" r="0.7"/><circle cx="457.4" cy="154.1" r="0.7"/><circle cx="464" cy="154.3" r="0.7"/><circle cx="470.7" cy="154.6" r="0.7"/><circle cx="477.3" cy="155" r="0.7"/><circle cx="483.9" cy="155.1" r="0.7"/><circle cx="490.5" cy="154.8" r="0.7"/><circle cx="497.1" cy="154.1" r="0.7"/><circle cx="503.7" cy="153.1" r="0.7"/><circle cx="510.3" cy="151.8" r="0.7"/><circle cx="516.9" cy="150.4" r="0.7"/><circle cx="523.5" cy="149.2" r="0.7"/><circle cx="530.2" cy="148.3" r="0.7"/><circle cx="536.8" cy="147.7" r="0.7"/><circle cx="543.4" cy="147.3" r="0.7"/><circle cx="550" cy="146.9" r="0.7"/><circle cx="556.6" cy="146.5" r="0.7"/><circle cx="563.2" cy="146.3" r="0.7"/><circle cx="569.8" cy="146.1" r="0.7"/><circle cx="576.4" cy="145.9" r="0.7"/><circle cx="583" cy="145.9" r="0.7"/><circle cx="589.7" cy="145.9" r="0.7"/><circle cx="596.3" cy="146" r="0.7"/><circle cx="602.9" cy="146.1" r="0.7"/><circle cx="609.5" cy="146.3" r="0.7"/><circle cx="616.1" cy="146.5" r="0.7"/><circle cx="622.7" cy="146.7" r="0.7"/><circle cx="629.3" cy="146.9" r="0.7"/><circle cx="635.9" cy="147.1" r="0.7"/><circle cx="642.5" cy="147.3" r="0.7"/><circle cx="649.2" cy="147.5" r="0.7"/><circle cx="655.8" cy="147.7" r="0.7"/><circle cx="662.4" cy="147.9" r="0.7"/><circle cx="669" cy="148" r="0.7"/><circle cx="675.6" cy="148.2" r="0.7"/><circle cx="682.2" cy="148.3" r="0.7"/><circle cx="688.8" cy="148.5" r="0.7"/><circle cx="695.4" cy="148.6" r="0.7"/><circle cx="702" cy="148.8" r="0.7"/><circle cx="437.6" cy="161.1" r="0.7"/><circle cx="444.2" cy="160.8" r="0.7"/><circle cx="450.8" cy="160.3" r="0.7"/><circle cx="457.4" cy="159.8" r="0.7"/><circle cx="464" cy="159" r="0.7"/><circle cx="470.7" cy="158.1" r="0.7"/><circle cx="477.3" cy="157.2" r="0.7"/><circle cx="483.9" cy="156.6" r="0.7"/><circle cx="490.5" cy="156.6" r="0.7"/><circle cx="497.1" cy="156.9" r="0.7"/><circle cx="503.7" cy="157.3" r="0.7"/><circle cx="510.3" cy="157.7" r="0.7"/><circle cx="516.9" cy="158.2" r="0.7"/><circle cx="523.5" cy="158.6" r="0.7"/><circle cx="530.2" cy="159" r="0.7"/><circle cx="536.8" cy="159.4" r="0.7"/><circle cx="543.4" cy="159.9" r="0.7"/><circle cx="550" cy="160.4" r="0.7"/><circle cx="556.6" cy="160.9" r="0.7"/><circle cx="563.2" cy="161.4" r="0.7"/><circle cx="569.8" cy="161.8" r="0.7"/><circle cx="576.4" cy="162.2" r="0.7"/><circle cx="583" cy="162.5" r="0.7"/><circle cx="589.7" cy="162.7" r="0.7"/><circle cx="596.3" cy="162.9" r="0.7"/><circle cx="602.9" cy="163.1" r="0.7"/><circle cx="609.5" cy="163.2" r="0.7"/><circle cx="616.1" cy="163.3" r="0.7"/><circle cx="622.7" cy="163.4" r="0.7"/><circle cx="629.3" cy="163.5" r="0.7"/><circle cx="635.9" cy="163.6" r="0.7"/><circle cx="642.5" cy="163.7" r="0.7"/><circle cx="649.2" cy="163.9" r="0.7"/><circle cx="655.8" cy="164.1" r="0.7"/><circle cx="662.4" cy="164.3" r="0.7"/><circle cx="669" cy="164.5" r="0.7"/><circle cx="675.6" cy="164.7" r="0.7"/><circle cx="682.2" cy="164.9" r="0.7"/><circle cx="688.8" cy="165.2" r="0.7"/><circle cx="695.4" cy="165.4" r="0.7"/><circle cx="702" cy="165.7" r="0.7"/></g>
<g fill="#2a5a2a"><circle cx="437.6" cy="184.2" r="0.9"/><circle cx="444.2" cy="183.8" r="0.9"/><circle cx="450.8" cy="183.5" r="0.9"/><circle cx="457.4" cy="183.1" r="0.9"/><circle cx="464" cy="182.8" r="0.9"/><circle cx="470.7" cy="182.3" r="0.9"/><circle cx="477.3" cy="181.9" r="0.9"/><circle cx="483.9" cy="181.4" r="0.9"/><circle cx="490.5" cy="180.9" r="0.9"/><circle cx="497.1" cy="180.4" r="0.9"/><circle cx="503.7" cy="180" r="0.9"/><circle cx="510.3" cy="179.7" r="0.9"/><circle cx="516.9" cy="179.5" r="0.9"/><circle cx="523.5" cy="179.4" r="0.9"/><circle cx="530.2" cy="179.6" r="0.9"/><circle cx="536.8" cy="179.9" r="0.9"/><circle cx="543.4" cy="180.3" r="0.9"/><circle cx="550" cy="180.9" r="0.9"/><circle cx="556.6" cy="181.6" r="0.9"/><circle cx="563.2" cy="182.4" r="0.9"/><circle cx="569.8" cy="183.3" r="0.9"/><circle cx="576.4" cy="184.3" r="0.9"/><circle cx="583" cy="185.4" r="0.9"/><circle cx="589.7" cy="186.5" r="0.9"/><circle cx="596.3" cy="187.7" r="0.9"/><circle cx="602.9" cy="188.8" r="0.9"/><circle cx="609.5" cy="189.9" r="0.9"/><circle cx="616.1" cy="190.9" r="0.9"/><circle cx="622.7" cy="191.9" r="0.9"/><circle cx="629.3" cy="192.8" r="0.9"/><circle cx="635.9" cy="193.6" r="0.9"/><circle cx="642.5" cy="194.3" r="0.9"/><circle cx="649.2" cy="194.9" r="0.9"/><circle cx="655.8" cy="195.3" r="0.9"/><circle cx="662.4" cy="195.7" r="0.9"/><circle cx="669" cy="195.9" r="0.9"/><circle cx="675.6" cy="196.1" r="0.9"/><circle cx="682.2" cy="196.3" r="0.9"/><circle cx="688.8" cy="196.4" r="0.9"/><circle cx="695.4" cy="196.4" r="0.9"/><circle cx="702" cy="196.5" r="0.9"/><circle cx="437.6" cy="417.5" r="0.9"/><circle cx="444.2" cy="417.5" r="0.9"/><circle cx="450.8" cy="417.5" r="0.9"/><circle cx="457.4" cy="417.5" r="0.9"/><circle cx="464" cy="417.6" r="0.9"/><circle cx="470.7" cy="417.8" r="0.9"/><circle cx="477.3" cy="418.1" r="0.9"/><circle cx="483.9" cy="418.5" r="0.9"/><circle cx="490.5" cy="419" r="0.9"/><circle cx="497.1" cy="419.6" r="0.9"/><circle cx="503.7" cy="420.3" r="0.9"/><circle cx="510.3" cy="421.2" r="0.9"/><circle cx="516.9" cy="422.3" r="0.9"/><circle cx="523.5" cy="423.5" r="0.9"/><circle cx="530.2" cy="424.9" r="0.9"/><circle cx="536.8" cy="426.4" r="0.9"/><circle cx="543.4" cy="428.1" r="0.9"/><circle cx="550" cy="429.8" r="0.9"/><circle cx="556.6" cy="431.6" r="0.9"/><circle cx="563.2" cy="433.5" r="0.9"/><circle cx="569.8" cy="435.6" r="0.9"/><circle cx="576.4" cy="438.1" r="0.9"/><circle cx="583" cy="440.7" r="0.9"/><circle cx="589.7" cy="443.6" r="0.9"/><circle cx="596.3" cy="446.7" r="0.9"/><circle cx="602.9" cy="449.7" r="0.9"/><circle cx="609.5" cy="452.6" r="0.9"/><circle cx="616.1" cy="455.3" r="0.9"/><circle cx="622.7" cy="458.2" r="0.9"/><circle cx="629.3" cy="461.7" r="0.9"/><circle cx="635.9" cy="465.9" r="0.9"/><circle cx="642.5" cy="470.4" r="0.9"/><circle cx="649.2" cy="474.5" r="0.9"/><circle cx="655.8" cy="477.9" r="0.9"/><circle cx="662.4" cy="481" r="0.9"/><circle cx="669" cy="484.3" r="0.9"/><circle cx="675.6" cy="488.1" r="0.9"/><circle cx="682.2" cy="492.6" r="0.9"/><circle cx="688.8" cy="497.5" r="0.9"/><circle cx="695.4" cy="502.9" r="0.9"/><circle cx="437.6" cy="431.4" r="0.9"/><circle cx="444.2" cy="431.4" r="0.9"/><circle cx="450.8" cy="431.6" r="0.9"/><circle cx="457.4" cy="432.2" r="0.9"/><circle cx="464" cy="433.1" r="0.9"/><circle cx="470.7" cy="434.4" r="0.9"/><circle cx="477.3" cy="436.2" r="0.9"/><circle cx="483.9" cy="438.4" r="0.9"/><circle cx="490.5" cy="440.8" r="0.9"/><circle cx="497.1" cy="443.2" r="0.9"/><circle cx="503.7" cy="445.6" r="0.9"/><circle cx="510.3" cy="448.1" r="0.9"/><circle cx="516.9" cy="450.7" r="0.9"/><circle cx="523.5" cy="453.3" r="0.9"/><circle cx="530.2" cy="455.8" r="0.9"/><circle cx="536.8" cy="458.1" r="0.9"/><circle cx="543.4" cy="460.2" r="0.9"/><circle cx="550" cy="461.9" r="0.9"/><circle cx="556.6" cy="463.4" r="0.9"/><circle cx="563.2" cy="464.8" r="0.9"/><circle cx="569.8" cy="466.1" r="0.9"/><circle cx="576.4" cy="467.5" r="0.9"/><circle cx="583" cy="468.9" r="0.9"/><circle cx="589.7" cy="470.4" r="0.9"/><circle cx="596.3" cy="472.2" r="0.9"/><circle cx="602.9" cy="474.1" r="0.9"/><circle cx="609.5" cy="476.2" r="0.9"/><circle cx="616.1" cy="478.4" r="0.9"/><circle cx="622.7" cy="480.7" r="0.9"/><circle cx="629.3" cy="482.9" r="0.9"/><circle cx="635.9" cy="485.2" r="0.9"/><circle cx="642.5" cy="487.7" r="0.9"/><circle cx="649.2" cy="490.6" r="0.9"/><circle cx="655.8" cy="494" r="0.9"/><circle cx="662.4" cy="498" r="0.9"/><circle cx="437.6" cy="442.1" r="0.9"/><circle cx="444.2" cy="442.2" r="0.9"/><circle cx="450.8" cy="442.3" r="0.9"/><circle cx="457.4" cy="442.5" r="0.9"/><circle cx="464" cy="442.8" r="0.9"/><circle cx="470.7" cy="443.2" r="0.9"/><circle cx="477.3" cy="443.8" r="0.9"/><circle cx="483.9" cy="444.6" r="0.9"/><circle cx="490.5" cy="445.6" r="0.9"/><circle cx="497.1" cy="446.8" r="0.9"/><circle cx="503.7" cy="448.2" r="0.9"/><circle cx="510.3" cy="449.8" r="0.9"/><circle cx="516.9" cy="451.5" r="0.9"/><circle cx="523.5" cy="453.3" r="0.9"/><circle cx="530.2" cy="455.2" r="0.9"/><circle cx="536.8" cy="457.2" r="0.9"/><circle cx="543.4" cy="459.2" r="0.9"/><circle cx="550" cy="461.2" r="0.9"/><circle cx="556.6" cy="463.2" r="0.9"/><circle cx="563.2" cy="465" r="0.9"/><circle cx="569.8" cy="466.7" r="0.9"/><circle cx="576.4" cy="468.2" r="0.9"/><circle cx="583" cy="469.7" r="0.9"/><circle cx="589.7" cy="471.3" r="0.9"/><circle cx="596.3" cy="473" r="0.9"/><circle cx="602.9" cy="475" r="0.9"/><circle cx="609.5" cy="477.2" r="0.9"/><circle cx="616.1" cy="479.6" r="0.9"/><circle cx="622.7" cy="481.9" r="0.9"/><circle cx="629.3" cy="484.1" r="0.9"/><circle cx="635.9" cy="486" r="0.9"/><circle cx="642.5" cy="487.8" r="0.9"/><circle cx="649.2" cy="489.9" r="0.9"/><circle cx="655.8" cy="492.5" r="0.9"/><circle cx="662.4" cy="495.5" r="0.9"/><circle cx="437.6" cy="454.9" r="0.9"/><circle cx="444.2" cy="454.7" r="0.9"/><circle cx="450.8" cy="454.6" r="0.9"/><circle cx="457.4" cy="454.6" r="0.9"/><circle cx="464" cy="454.9" r="0.9"/><circle cx="470.7" cy="455.5" r="0.9"/><circle cx="477.3" cy="456.5" r="0.9"/><circle cx="483.9" cy="457.9" r="0.9"/><circle cx="490.5" cy="459.5" r="0.9"/><circle cx="497.1" cy="461.2" r="0.9"/><circle cx="503.7" cy="463" r="0.9"/><circle cx="510.3" cy="464.6" r="0.9"/><circle cx="516.9" cy="466.2" r="0.9"/><circle cx="523.5" cy="467.7" r="0.9"/><circle cx="530.2" cy="469.2" r="0.9"/><circle cx="536.8" cy="470.6" r="0.9"/><circle cx="543.4" cy="472.1" r="0.9"/><circle cx="550" cy="473.5" r="0.9"/><circle cx="556.6" cy="475" r="0.9"/><circle cx="563.2" cy="476.4" r="0.9"/><circle cx="569.8" cy="477.9" r="0.9"/><circle cx="576.4" cy="479.3" r="0.9"/><circle cx="583" cy="480.8" r="0.9"/><circle cx="589.7" cy="482.6" r="0.9"/><circle cx="596.3" cy="484.7" r="0.9"/><circle cx="602.9" cy="487.2" r="0.9"/><circle cx="609.5" cy="490.3" r="0.9"/><circle cx="616.1" cy="494" r="0.9"/><circle cx="622.7" cy="498.1" r="0.9"/></g>
<g fill="#505050"><circle cx="437.6" cy="188.9" r="0.7"/><circle cx="444.2" cy="189.2" r="0.7"/><circle cx="450.8" cy="189.6" r="0.7"/><circle cx="457.4" cy="190.4" r="0.7"/><circle cx="464" cy="191.4" r="0.7"/><circle cx="470.7" cy="192.6" r="0.7"/><circle cx="477.3" cy="194" r="0.7"/><circle cx="483.9" cy="195.5" r="0.7"/><circle cx="490.5" cy="197.1" r="0.7"/><circle cx="497.1" cy="198.8" r="0.7"/><circle cx="503.7" cy="200.6" r="0.7"/><circle cx="510.3" cy="202.4" r="0.7"/><circle cx="516.9" cy="204.3" r="0.7"/><circle cx="523.5" cy="206.1" r="0.7"/><circle cx="530.2" cy="207.9" r="0.7"/><circle cx="536.8" cy="209.7" r="0.7"/><circle cx="543.4" cy="211.4" r="0.7"/><circle cx="550" cy="212.9" r="0.7"/><circle cx="556.6" cy="214.4" r="0.7"/><circle cx="563.2" cy="215.7" r="0.7"/><circle cx="569.8" cy="216.8" r="0.7"/><circle cx="576.4" cy="217.9" r="0.7"/><circle cx="583" cy="218.9" r="0.7"/><circle cx="589.7" cy="219.9" r="0.7"/><circle cx="596.3" cy="221.1" r="0.7"/><circle cx="602.9" cy="222.6" r="0.7"/><circle cx="609.5" cy="224.1" r="0.7"/><circle cx="616.1" cy="225.5" r="0.7"/><circle cx="622.7" cy="226.6" r="0.7"/><circle cx="629.3" cy="227.6" r="0.7"/><circle cx="635.9" cy="228.3" r="0.7"/><circle cx="642.5" cy="229" r="0.7"/><circle cx="649.2" cy="229.5" r="0.7"/><circle cx="655.8" cy="230" r="0.7"/><circle cx="662.4" cy="230.3" r="0.7"/><circle cx="669" cy="230.7" r="0.7"/><circle cx="675.6" cy="230.9" r="0.7"/><circle cx="682.2" cy="231.2" r="0.7"/><circle cx="688.8" cy="231.4" r="0.7"/><circle cx="695.4" cy="231.5" r="0.7"/><circle cx="702" cy="231.7" r="0.7"/><circle cx="437.6" cy="239.6" r="0.7"/><circle cx="444.2" cy="239.6" r="0.7"/><circle cx="450.8" cy="239.6" r="0.7"/><circle cx="457.4" cy="239.6" r="0.7"/><circle cx="464" cy="239.6" r="0.7"/><circle cx="470.7" cy="239.5" r="0.7"/><circle cx="477.3" cy="239.5" r="0.7"/><circle cx="483.9" cy="239.4" r="0.7"/><circle cx="490.5" cy="239.3" r="0.7"/><circle cx="497.1" cy="239.3" r="0.7"/><circle cx="503.7" cy="239.1" r="0.7"/><circle cx="510.3" cy="239" r="0.7"/><circle cx="516.9" cy="238.9" r="0.7"/><circle cx="523.5" cy="238.9" r="0.7"/><circle cx="530.2" cy="238.9" r="0.7"/><circle cx="536.8" cy="238.9" r="0.7"/><circle cx="543.4" cy="239" r="0.7"/><circle cx="550" cy="239.2" r="0.7"/><circle cx="556.6" cy="239.6" r="0.7"/><circle cx="563.2" cy="240" r="0.7"/><circle cx="569.8" cy="240.6" r="0.7"/><circle cx="576.4" cy="241.4" r="0.7"/><circle cx="583" cy="242.4" r="0.7"/><circle cx="589.7" cy="243.7" r="0.7"/><circle cx="596.3" cy="245.3" r="0.7"/><circle cx="602.9" cy="247.1" r="0.7"/><circle cx="609.5" cy="248.9" r="0.7"/><circle cx="616.1" cy="250.6" r="0.7"/><circle cx="622.7" cy="252.3" r="0.7"/><circle cx="629.3" cy="253.7" r="0.7"/><circle cx="635.9" cy="255.1" r="0.7"/><circle cx="642.5" cy="256.4" r="0.7"/><circle cx="649.2" cy="257.7" r="0.7"/><circle cx="655.8" cy="259.1" r="0.7"/><circle cx="662.4" cy="260.3" r="0.7"/><circle cx="669" cy="261.3" r="0.7"/><circle cx="675.6" cy="262.1" r="0.7"/><circle cx="682.2" cy="262.6" r="0.7"/><circle cx="688.8" cy="262.9" r="0.7"/><circle cx="695.4" cy="263.1" r="0.7"/><circle cx="702" cy="263.2" r="0.7"/></g>
<g fill="#1a1a80"><circle cx="437.6" cy="267.2" r="0.9"/><circle cx="444.2" cy="267.3" r="0.9"/><circle cx="450.8" cy="267.3" r="0.9"/><circle cx="457.4" cy="267.4" r="0.9"/><circle cx="464" cy="267.4" r="0.9"/><circle cx="470.7" cy="267.5" r="0.9"/><circle cx="477.3" cy="267.5" r="0.9"/><circle cx="483.9" cy="267.6" r="0.9"/><circle cx="490.5" cy="267.6" r="0.9"/><circle cx="497.1" cy="267.7" r="0.9"/><circle cx="503.7" cy="267.7" r="0.9"/><circle cx="510.3" cy="267.8" r="0.9"/><circle cx="516.9" cy="267.8" r="0.9"/><circle cx="523.5" cy="267.9" r="0.9"/><circle cx="530.2" cy="268" r="0.9"/><circle cx="536.8" cy="268" r="0.9"/><circle cx="543.4" cy="268.1" r="0.9"/><circle cx="550" cy="268.1" r="0.9"/><circle cx="556.6" cy="268.2" r="0.9"/><circle cx="563.2" cy="268.3" r="0.9"/><circle cx="569.8" cy="268.3" r="0.9"/><circle cx="576.4" cy="268.4" r="0.9"/><circle cx="583" cy="268.5" r="0.9"/><circle cx="589.7" cy="268.6" r="0.9"/><circle cx="596.3" cy="268.6" r="0.9"/><circle cx="602.9" cy="268.7" r="0.9"/><circle cx="609.5" cy="268.8" r="0.9"/><circle cx="616.1" cy="268.9" r="0.9"/><circle cx="622.7" cy="268.9" r="0.9"/><circle cx="629.3" cy="269" r="0.9"/><circle cx="635.9" cy="269.1" r="0.9"/><circle cx="642.5" cy="269.2" r="0.9"/><circle cx="649.2" cy="269.3" r="0.9"/><circle cx="655.8" cy="269.4" r="0.9"/><circle cx="662.4" cy="269.4" r="0.9"/><circle cx="669" cy="269.5" r="0.9"/><circle cx="675.6" cy="269.6" r="0.9"/><circle cx="682.2" cy="269.7" r="0.9"/><circle cx="688.8" cy="269.8" r="0.9"/><circle cx="695.4" cy="269.9" r="0.9"/><circle cx="702" cy="270" r="0.9"/><circle cx="437.6" cy="298" r="0.9"/><circle cx="444.2" cy="298" r="0.9"/><circle cx="450.8" cy="297.8" r="0.9"/><circle cx="457.4" cy="297.2" r="0.9"/><circle cx="464" cy="296.1" r="0.9"/><circle cx="470.7" cy="294.7" r="0.9"/><circle cx="477.3" cy="293.3" r="0.9"/><circle cx="483.9" cy="291.8" r="0.9"/><circle cx="490.5" cy="290" r="0.9"/><circle cx="497.1" cy="287.7" r="0.9"/><circle cx="503.7" cy="285" r="0.9"/><circle cx="510.3" cy="282.2" r="0.9"/><circle cx="516.9" cy="279.2" r="0.9"/><circle cx="523.5" cy="276.1" r="0.9"/><circle cx="530.2" cy="272.6" r="0.9"/><circle cx="536.8" cy="268.6" r="0.9"/><circle cx="543.4" cy="264.3" r="0.9"/><circle cx="550" cy="260.1" r="0.9"/><circle cx="556.6" cy="256.4" r="0.9"/><circle cx="563.2" cy="252.9" r="0.9"/><circle cx="569.8" cy="249.1" r="0.9"/><circle cx="576.4" cy="244.7" r="0.9"/><circle cx="583" cy="240" r="0.9"/><circle cx="589.7" cy="235.6" r="0.9"/><circle cx="596.3" cy="231.8" r="0.9"/><circle cx="602.9" cy="228.5" r="0.9"/><circle cx="609.5" cy="225.8" r="0.9"/><circle cx="616.1" cy="223.4" r="0.9"/><circle cx="622.7" cy="221.1" r="0.9"/><circle cx="629.3" cy="218.6" r="0.9"/><circle cx="635.9" cy="216" r="0.9"/><circle cx="642.5" cy="213.9" r="0.9"/><circle cx="649.2" cy="212.7" r="0.9"/><circle cx="655.8" cy="212.5" r="0.9"/><circle cx="662.4" cy="212.7" r="0.9"/><circle cx="669" cy="213" r="0.9"/><circle cx="675.6" cy="213.3" r="0.9"/><circle cx="682.2" cy="213.5" r="0.9"/><circle cx="688.8" cy="213.7" r="0.9"/><circle cx="695.4" cy="213.9" r="0.9"/><circle cx="702" cy="214.1" r="0.9"/><circle cx="437.6" cy="299.5" r="0.9"/><circle cx="444.2" cy="299.4" r="0.9"/><circle cx="450.8" cy="299" r="0.9"/><circle cx="457.4" cy="298.2" r="0.9"/><circle cx="464" cy="296.9" r="0.9"/><circle cx="470.7" cy="295.4" r="0.9"/><circle cx="477.3" cy="293.8" r="0.9"/><circle cx="483.9" cy="292.2" r="0.9"/><circle cx="490.5" cy="290.3" r="0.9"/><circle cx="497.1" cy="287.9" r="0.9"/></g>
<g fill="#7a1020"><circle cx="437.6" cy="368.9" r="0.9"/><circle cx="444.2" cy="369" r="0.9"/><circle cx="450.8" cy="369" r="0.9"/><circle cx="457.4" cy="369.1" r="0.9"/><circle cx="464" cy="369.2" r="0.9"/><circle cx="470.7" cy="369.4" r="0.9"/><circle cx="477.3" cy="369.6" r="0.9"/><circle cx="483.9" cy="369.9" r="0.9"/><circle cx="490.5" cy="370.3" r="0.9"/><circle cx="497.1" cy="370.8" r="0.9"/><circle cx="503.7" cy="371.6" r="0.9"/><circle cx="510.3" cy="372.6" r="0.9"/><circle cx="516.9" cy="373.6" r="0.9"/><circle cx="523.5" cy="374.6" r="0.9"/><circle cx="530.2" cy="375.7" r="0.9"/><circle cx="536.8" cy="377.1" r="0.9"/><circle cx="543.4" cy="378.2" r="0.9"/><circle cx="550" cy="379.1" r="0.9"/><circle cx="556.6" cy="379.8" r="0.9"/><circle cx="563.2" cy="380.3" r="0.9"/><circle cx="569.8" cy="380.8" r="0.9"/><circle cx="576.4" cy="381.3" r="0.9"/><circle cx="583" cy="381.8" r="0.9"/><circle cx="589.7" cy="382.2" r="0.9"/><circle cx="596.3" cy="382.7" r="0.9"/><circle cx="602.9" cy="383.1" r="0.9"/><circle cx="609.5" cy="383.5" r="0.9"/><circle cx="616.1" cy="383.9" r="0.9"/><circle cx="622.7" cy="384.3" r="0.9"/><circle cx="629.3" cy="384.6" r="0.9"/><circle cx="635.9" cy="385" r="0.9"/><circle cx="642.5" cy="385.3" r="0.9"/><circle cx="649.2" cy="385.7" r="0.9"/><circle cx="655.8" cy="386" r="0.9"/><circle cx="662.4" cy="386.4" r="0.9"/><circle cx="669" cy="386.7" r="0.9"/><circle cx="675.6" cy="387" r="0.9"/><circle cx="682.2" cy="387.3" r="0.9"/><circle cx="688.8" cy="387.6" r="0.9"/><circle cx="695.4" cy="388" r="0.9"/><circle cx="702" cy="388.3" r="0.9"/><circle cx="437.6" cy="374.7" r="0.9"/><circle cx="444.2" cy="374.6" r="0.9"/><circle cx="450.8" cy="374.6" r="0.9"/><circle cx="457.4" cy="374.6" r="0.9"/><circle cx="464" cy="374.6" r="0.9"/><circle cx="470.7" cy="374.7" r="0.9"/><circle cx="477.3" cy="374.8" r="0.9"/><circle cx="483.9" cy="374.9" r="0.9"/><circle cx="490.5" cy="375.1" r="0.9"/><circle cx="497.1" cy="375.4" r="0.9"/><circle cx="503.7" cy="375.7" r="0.9"/><circle cx="510.3" cy="376" r="0.9"/><circle cx="516.9" cy="376.2" r="0.9"/><circle cx="523.5" cy="376.4" r="0.9"/><circle cx="530.2" cy="376.7" r="0.9"/><circle cx="536.8" cy="377.1" r="0.9"/><circle cx="543.4" cy="377.7" r="0.9"/><circle cx="550" cy="378.4" r="0.9"/><circle cx="556.6" cy="379.3" r="0.9"/><circle cx="563.2" cy="380.2" r="0.9"/><circle cx="569.8" cy="381" r="0.9"/><circle cx="576.4" cy="381.8" r="0.9"/><circle cx="583" cy="382.5" r="0.9"/><circle cx="589.7" cy="383.1" r="0.9"/><circle cx="596.3" cy="383.7" r="0.9"/><circle cx="602.9" cy="384.3" r="0.9"/><circle cx="609.5" cy="384.8" r="0.9"/><circle cx="616.1" cy="385.2" r="0.9"/><circle cx="622.7" cy="385.6" r="0.9"/><circle cx="629.3" cy="386" r="0.9"/><circle cx="635.9" cy="386.3" r="0.9"/><circle cx="642.5" cy="386.6" r="0.9"/><circle cx="649.2" cy="386.9" r="0.9"/><circle cx="655.8" cy="387.1" r="0.9"/><circle cx="662.4" cy="387.3" r="0.9"/><circle cx="669" cy="387.5" r="0.9"/><circle cx="675.6" cy="387.7" r="0.9"/><circle cx="682.2" cy="387.8" r="0.9"/><circle cx="688.8" cy="388" r="0.9"/><circle cx="695.4" cy="388.1" r="0.9"/><circle cx="702" cy="388.3" r="0.9"/></g>
<g fill="#8a4a3a"><circle cx="437.6" cy="447.6" r="0.9"/><circle cx="444.2" cy="447.6" r="0.9"/><circle cx="450.8" cy="447.6" r="0.9"/><circle cx="457.4" cy="447.5" r="0.9"/><circle cx="464" cy="447.5" r="0.9"/><circle cx="470.7" cy="447.4" r="0.9"/><circle cx="477.3" cy="447.3" r="0.9"/><circle cx="483.9" cy="447.2" r="0.9"/><circle cx="490.5" cy="447" r="0.9"/><circle cx="497.1" cy="446.7" r="0.9"/><circle cx="503.7" cy="446.4" r="0.9"/><circle cx="510.3" cy="446" r="0.9"/><circle cx="516.9" cy="445.5" r="0.9"/><circle cx="523.5" cy="445.1" r="0.9"/><circle cx="530.2" cy="444.6" r="0.9"/><circle cx="536.8" cy="444.1" r="0.9"/><circle cx="543.4" cy="443.6" r="0.9"/><circle cx="550" cy="443.1" r="0.9"/><circle cx="556.6" cy="442.7" r="0.9"/><circle cx="563.2" cy="442.3" r="0.9"/><circle cx="569.8" cy="441.8" r="0.9"/><circle cx="576.4" cy="441.4" r="0.9"/><circle cx="583" cy="441" r="0.9"/><circle cx="589.7" cy="440.7" r="0.9"/><circle cx="596.3" cy="440.3" r="0.9"/><circle cx="602.9" cy="439.9" r="0.9"/><circle cx="609.5" cy="439.5" r="0.9"/><circle cx="616.1" cy="439.1" r="0.9"/><circle cx="622.7" cy="438.7" r="0.9"/><circle cx="629.3" cy="438.4" r="0.9"/><circle cx="635.9" cy="438" r="0.9"/><circle cx="642.5" cy="437.6" r="0.9"/><circle cx="649.2" cy="437.3" r="0.9"/><circle cx="655.8" cy="436.9" r="0.9"/><circle cx="662.4" cy="436.6" r="0.9"/><circle cx="669" cy="436.3" r="0.9"/><circle cx="675.6" cy="436" r="0.9"/><circle cx="682.2" cy="435.8" r="0.9"/><circle cx="688.8" cy="435.6" r="0.9"/><circle cx="695.4" cy="435.3" r="0.9"/><circle cx="702" cy="435.1" r="0.9"/></g>
</g>
<rect x="437.6" y="48.4" width="264.45" height="444" fill="none" stroke="#1a1a1a" stroke-width="1.5"/>
<path d="M435.1 492.4H437.6M702 492.4H704M433.1 478.1H437.6M702 478.1H705.5M435.1 463.8H437.6M702 463.8H704M435.1 449.4H437.6M702 449.4H704M435.1 435.1H437.6M702 435.1H704M433.1 420.8H437.6M702 420.8H705.5M435.1 406.5H437.6M702 406.5H704M435.1 392.1H437.6M702 392.1H704M435.1 377.8H437.6M702 377.8H704M433.1 363.5H437.6M702 363.5H705.5M435.1 349.2H437.6M702 349.2H704M435.1 334.8H437.6M702 334.8H704M435.1 320.5H437.6M702 320.5H704M433.1 306.2H437.6M702 306.2H705.5M435.1 291.9H437.6M702 291.9H704M435.1 277.6H437.6M702 277.6H704M435.1 263.2H437.6M702 263.2H704M433.1 248.9H437.6M702 248.9H705.5M435.1 234.6H437.6M702 234.6H704M435.1 220.3H437.6M702 220.3H704M435.1 205.9H437.6M702 205.9H704M433.1 191.6H437.6M702 191.6H705.5M435.1 177.3H437.6M702 177.3H704M435.1 163H437.6M702 163H704M435.1 148.6H437.6M702 148.6H704M433.1 134.3H437.6M702 134.3H705.5M435.1 120H437.6M702 120H704M435.1 105.7H437.6M702 105.7H704M435.1 91.4H437.6M702 91.4H704M433.1 77H437.6M702 77H705.5M435.1 62.7H437.6M702 62.7H704M435.1 48.4H437.6M702 48.4H704" stroke="#1a1a1a" stroke-width="1.3"/>
<g font-family="Liberation Serif" font-size="25.5" text-anchor="end" fill="#111"><text x="430.2" y="485.9">-1.2</text><text x="430.2" y="428.6">-0.8</text><text x="430.2" y="371.3">-0.4</text><text x="430.2" y="314">0</text><text x="430.2" y="256.7">0.4</text><text x="430.2" y="199.4">0.8</text><text x="430.2" y="142.1">1.2</text><text x="430.2" y="84.8">1.6</text></g>
<g font-family="Liberation Serif" font-weight="bold" fill="#111" stroke="#111" stroke-width="0.35">
<text x="264.3" y="73.8" font-size="17">W<tspan font-size="11.3" dy="3" dx="-0.6">edge</tspan></text>
<text x="268.3" y="99.6" font-size="17.5">S<tspan font-size="11.8" dy="4.3" dx="0.7">edge</tspan></text>
<text x="275.3" y="127.6" font-size="19">Co</text>
</g>
<g fill="none" stroke-width="2.9"><circle cx="318.9" cy="70.5" r="4.95" stroke="#de1c30"/><circle cx="318.9" cy="96.3" r="4.95" stroke="#3d3df0"/><circle cx="318.9" cy="122.9" r="4.95" stroke="#55e655"/></g>
<g font-family="Liberation Serif" font-weight="bold" fill="#111" stroke="#111" stroke-width="0.35">
<text x="623.9" y="73.8" font-size="17">W<tspan font-size="11.3" dy="3" dx="-0.6">edge</tspan></text>
<text x="627.9" y="99.6" font-size="17.5">S<tspan font-size="11.8" dy="4.3" dx="0.7">edge</tspan></text>
<text x="634.9" y="127.6" font-size="19">Co</text>
</g>
<g fill="none" stroke-width="2.9"><circle cx="678.5" cy="70.5" r="4.95" stroke="#de1c30"/><circle cx="678.5" cy="96.3" r="4.95" stroke="#3d3df0"/><circle cx="678.5" cy="122.9" r="4.95" stroke="#55e655"/></g>
<g font-family="Liberation Serif" font-size="36.5" fill="#111"><text x="30.3" y="27.3">(a)</text><text x="389.7" y="27.3">(b)</text></g>
<text transform="translate(21.1,284.2) rotate(-90)" font-family="Liberation Serif" font-size="25" text-anchor="middle" fill="#111">Energy (eV)</text>
<text transform="translate(381.2,285.0) rotate(-90)" font-family="Liberation Serif" font-size="25" text-anchor="middle" fill="#111">Energy (eV)</text>
<path d="M73.1,502.3H85.1V505H75.8V521.3H73.1Z" fill="#111"/>
<text x="340.1" y="519.7" font-family="Liberation Serif" font-size="25.5" text-anchor="middle" fill="#111">Y</text>
<path d="M432.7,502.3H444.7V505H435.4V521.3H432.7Z" fill="#111"/>
<text x="699.6" y="519.7" font-family="Liberation Serif" font-size="25.5" text-anchor="middle" fill="#111">Y</text>
</svg></body></html>
